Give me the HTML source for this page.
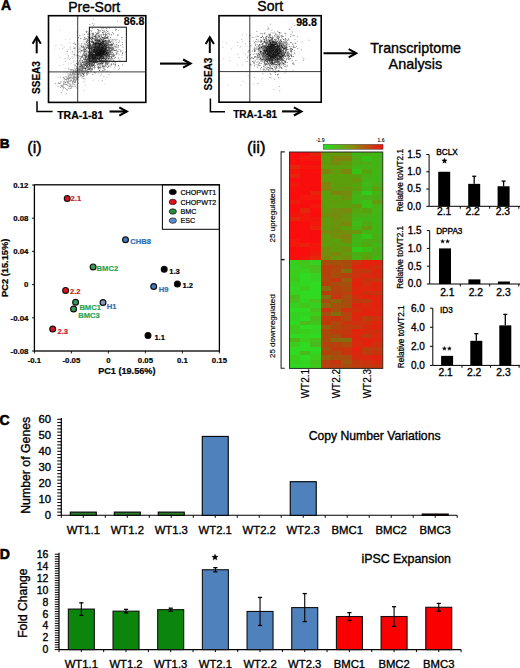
<!DOCTYPE html>
<html><head><meta charset="utf-8"><style>
html,body{margin:0;padding:0;background:#fff;width:520px;height:668px;overflow:hidden}
svg{display:block}
text{font-family:"Liberation Sans", sans-serif}
</style></head><body>
<svg width="520" height="668" viewBox="0 0 520 668" font-family='"Liberation Sans", sans-serif'>
<rect width="520" height="668" fill="#fff"/>
<text x="1.0" y="10.3" font-size="14" font-weight="bold" text-anchor="start" fill="#000" stroke="#000" stroke-width="0.5">A</text>
<path d="M98.4 52.6h.9v.9h-.9zM98.6 48.4h.9v.9h-.9zM95.6 48.9h.9v.9h-.9zM104.2 52.1h.9v.9h-.9zM103.9 51.2h.9v.9h-.9zM101.2 50.9h.9v.9h-.9zM92.5 54.3h.9v.9h-.9zM101.6 52.5h.9v.9h-.9zM92.4 41.3h.9v.9h-.9zM95.8 47.7h.9v.9h-.9zM100.8 49.8h.9v.9h-.9zM101.7 46.8h.9v.9h-.9zM100.8 52.0h.9v.9h-.9zM96.7 58.6h.9v.9h-.9zM101.8 56.0h.9v.9h-.9zM96.9 46.3h.9v.9h-.9zM98.1 49.5h.9v.9h-.9zM102.2 51.2h.9v.9h-.9zM97.6 45.2h.9v.9h-.9zM97.3 56.1h.9v.9h-.9zM96.1 51.2h.9v.9h-.9zM101.3 42.6h.9v.9h-.9zM99.7 56.5h.9v.9h-.9zM91.0 48.4h.9v.9h-.9zM99.1 45.9h.9v.9h-.9zM101.6 49.7h.9v.9h-.9zM93.3 54.1h.9v.9h-.9zM102.3 54.7h.9v.9h-.9zM105.6 51.8h.9v.9h-.9zM100.0 43.5h.9v.9h-.9zM102.1 46.9h.9v.9h-.9zM97.6 43.7h.9v.9h-.9zM95.4 47.3h.9v.9h-.9zM104.9 39.8h.9v.9h-.9zM93.4 51.2h.9v.9h-.9zM105.6 52.9h.9v.9h-.9zM91.5 37.4h.9v.9h-.9zM101.0 46.3h.9v.9h-.9zM94.8 54.9h.9v.9h-.9zM104.1 50.8h.9v.9h-.9zM100.5 52.2h.9v.9h-.9zM106.2 53.1h.9v.9h-.9zM101.7 52.7h.9v.9h-.9zM92.9 56.4h.9v.9h-.9zM103.5 52.6h.9v.9h-.9zM91.2 46.8h.9v.9h-.9zM103.0 40.9h.9v.9h-.9zM98.7 55.1h.9v.9h-.9zM94.0 58.1h.9v.9h-.9zM101.8 49.2h.9v.9h-.9zM100.9 53.2h.9v.9h-.9zM100.0 55.7h.9v.9h-.9zM96.7 47.9h.9v.9h-.9zM103.9 50.1h.9v.9h-.9zM95.8 54.7h.9v.9h-.9zM105.7 47.8h.9v.9h-.9zM93.7 49.3h.9v.9h-.9zM98.9 48.5h.9v.9h-.9zM105.4 44.9h.9v.9h-.9zM104.8 43.7h.9v.9h-.9zM96.2 53.2h.9v.9h-.9zM104.2 54.3h.9v.9h-.9zM100.9 50.7h.9v.9h-.9zM100.1 52.9h.9v.9h-.9zM98.8 51.4h.9v.9h-.9zM101.9 50.0h.9v.9h-.9zM102.7 52.8h.9v.9h-.9zM107.9 51.6h.9v.9h-.9zM97.7 48.1h.9v.9h-.9zM99.4 54.6h.9v.9h-.9zM98.1 51.9h.9v.9h-.9zM107.2 37.2h.9v.9h-.9zM94.8 51.2h.9v.9h-.9zM101.2 51.2h.9v.9h-.9zM97.7 53.3h.9v.9h-.9zM100.7 47.4h.9v.9h-.9zM109.7 51.8h.9v.9h-.9zM97.2 49.5h.9v.9h-.9zM98.6 49.7h.9v.9h-.9zM88.0 47.6h.9v.9h-.9zM103.7 44.2h.9v.9h-.9zM99.2 54.8h.9v.9h-.9zM103.1 57.5h.9v.9h-.9zM92.4 48.2h.9v.9h-.9zM98.1 53.1h.9v.9h-.9zM104.1 36.6h.9v.9h-.9zM104.1 42.8h.9v.9h-.9zM102.4 42.5h.9v.9h-.9zM100.2 56.0h.9v.9h-.9zM98.9 51.0h.9v.9h-.9zM102.8 50.7h.9v.9h-.9zM99.1 57.7h.9v.9h-.9zM103.9 48.5h.9v.9h-.9zM111.0 44.3h.9v.9h-.9zM103.3 48.7h.9v.9h-.9zM100.1 53.5h.9v.9h-.9zM100.4 53.2h.9v.9h-.9zM93.1 42.5h.9v.9h-.9zM102.1 45.2h.9v.9h-.9zM95.2 42.6h.9v.9h-.9zM104.8 53.7h.9v.9h-.9zM105.7 45.3h.9v.9h-.9zM99.5 44.3h.9v.9h-.9zM102.7 57.9h.9v.9h-.9zM95.8 57.8h.9v.9h-.9zM103.6 49.1h.9v.9h-.9zM91.2 57.0h.9v.9h-.9zM99.1 47.0h.9v.9h-.9zM101.2 52.0h.9v.9h-.9zM105.8 44.9h.9v.9h-.9zM104.3 57.4h.9v.9h-.9zM105.6 49.1h.9v.9h-.9zM96.4 55.1h.9v.9h-.9zM100.0 50.6h.9v.9h-.9zM105.5 48.7h.9v.9h-.9zM89.9 48.1h.9v.9h-.9zM91.7 54.1h.9v.9h-.9zM100.8 46.9h.9v.9h-.9zM99.5 54.2h.9v.9h-.9zM99.8 56.6h.9v.9h-.9zM99.2 55.2h.9v.9h-.9zM105.8 58.0h.9v.9h-.9zM96.7 54.4h.9v.9h-.9zM91.6 44.6h.9v.9h-.9zM91.3 55.3h.9v.9h-.9zM94.3 49.9h.9v.9h-.9zM98.7 49.9h.9v.9h-.9zM97.0 51.2h.9v.9h-.9zM107.0 50.2h.9v.9h-.9zM101.7 55.0h.9v.9h-.9zM98.7 43.7h.9v.9h-.9zM97.2 55.4h.9v.9h-.9zM92.6 47.0h.9v.9h-.9zM103.7 54.0h.9v.9h-.9zM99.5 54.0h.9v.9h-.9zM100.2 44.1h.9v.9h-.9zM92.9 46.8h.9v.9h-.9zM103.4 47.2h.9v.9h-.9zM95.7 46.1h.9v.9h-.9zM93.1 49.4h.9v.9h-.9zM94.5 51.8h.9v.9h-.9zM89.6 51.6h.9v.9h-.9zM96.8 40.3h.9v.9h-.9zM102.5 48.6h.9v.9h-.9zM90.1 45.6h.9v.9h-.9zM100.7 47.7h.9v.9h-.9zM102.8 53.7h.9v.9h-.9zM102.3 51.6h.9v.9h-.9zM105.1 53.3h.9v.9h-.9zM101.4 39.6h.9v.9h-.9zM103.3 56.5h.9v.9h-.9zM98.3 47.7h.9v.9h-.9zM107.6 41.2h.9v.9h-.9zM101.5 62.1h.9v.9h-.9zM95.6 53.4h.9v.9h-.9zM107.4 49.4h.9v.9h-.9zM101.9 54.5h.9v.9h-.9zM95.7 49.6h.9v.9h-.9zM100.7 54.1h.9v.9h-.9zM99.4 49.0h.9v.9h-.9zM95.2 48.2h.9v.9h-.9zM103.2 50.5h.9v.9h-.9zM95.9 45.8h.9v.9h-.9zM110.7 55.7h.9v.9h-.9zM102.2 37.0h.9v.9h-.9zM102.1 52.4h.9v.9h-.9zM106.6 52.1h.9v.9h-.9zM99.2 52.6h.9v.9h-.9zM91.3 55.2h.9v.9h-.9zM100.9 46.5h.9v.9h-.9zM105.1 59.0h.9v.9h-.9zM93.6 46.7h.9v.9h-.9zM100.7 50.9h.9v.9h-.9zM97.8 45.1h.9v.9h-.9zM108.4 55.2h.9v.9h-.9zM94.5 43.3h.9v.9h-.9zM106.7 54.9h.9v.9h-.9zM107.1 54.1h.9v.9h-.9zM95.8 51.3h.9v.9h-.9zM90.4 46.3h.9v.9h-.9zM99.3 52.6h.9v.9h-.9zM96.4 49.4h.9v.9h-.9zM101.4 51.9h.9v.9h-.9zM102.2 51.0h.9v.9h-.9zM98.1 53.9h.9v.9h-.9zM99.7 45.9h.9v.9h-.9zM96.9 50.0h.9v.9h-.9zM99.0 50.8h.9v.9h-.9zM99.5 50.9h.9v.9h-.9zM98.9 43.7h.9v.9h-.9zM101.3 55.3h.9v.9h-.9zM101.3 49.1h.9v.9h-.9zM101.4 45.2h.9v.9h-.9zM91.5 50.3h.9v.9h-.9zM95.6 53.7h.9v.9h-.9zM94.9 36.9h.9v.9h-.9zM95.1 57.9h.9v.9h-.9zM97.9 43.2h.9v.9h-.9zM96.3 52.6h.9v.9h-.9zM101.6 50.9h.9v.9h-.9zM105.7 53.5h.9v.9h-.9zM99.4 53.0h.9v.9h-.9zM106.4 54.9h.9v.9h-.9zM103.8 44.6h.9v.9h-.9zM98.9 53.6h.9v.9h-.9zM98.3 55.3h.9v.9h-.9zM102.0 54.5h.9v.9h-.9zM98.6 62.7h.9v.9h-.9zM104.7 48.9h.9v.9h-.9zM99.9 63.0h.9v.9h-.9zM98.1 54.4h.9v.9h-.9zM103.6 50.0h.9v.9h-.9zM94.6 50.9h.9v.9h-.9zM101.0 55.6h.9v.9h-.9zM102.8 50.1h.9v.9h-.9zM103.1 52.7h.9v.9h-.9zM100.4 50.3h.9v.9h-.9zM98.5 53.4h.9v.9h-.9zM95.1 46.9h.9v.9h-.9zM99.5 42.7h.9v.9h-.9zM97.7 40.0h.9v.9h-.9zM96.6 52.8h.9v.9h-.9zM101.9 49.7h.9v.9h-.9zM98.5 42.9h.9v.9h-.9zM107.2 52.6h.9v.9h-.9zM104.1 45.6h.9v.9h-.9zM98.7 40.9h.9v.9h-.9zM102.8 54.7h.9v.9h-.9zM91.5 49.7h.9v.9h-.9zM102.1 41.2h.9v.9h-.9zM91.8 44.7h.9v.9h-.9zM96.9 43.0h.9v.9h-.9zM99.6 51.2h.9v.9h-.9zM102.2 53.5h.9v.9h-.9zM105.8 55.8h.9v.9h-.9zM94.0 47.5h.9v.9h-.9zM95.0 44.6h.9v.9h-.9zM99.2 50.0h.9v.9h-.9zM101.6 42.1h.9v.9h-.9zM94.3 49.9h.9v.9h-.9zM98.7 48.4h.9v.9h-.9zM99.2 46.2h.9v.9h-.9zM102.4 51.8h.9v.9h-.9zM99.1 46.6h.9v.9h-.9zM98.8 36.4h.9v.9h-.9zM95.4 50.2h.9v.9h-.9zM93.2 51.0h.9v.9h-.9zM100.1 43.1h.9v.9h-.9zM98.4 48.4h.9v.9h-.9zM101.4 53.1h.9v.9h-.9zM99.3 45.7h.9v.9h-.9zM98.9 49.7h.9v.9h-.9zM102.6 51.5h.9v.9h-.9zM96.5 43.2h.9v.9h-.9zM97.9 46.3h.9v.9h-.9zM94.8 49.4h.9v.9h-.9zM97.4 50.5h.9v.9h-.9zM101.7 47.9h.9v.9h-.9zM109.3 48.4h.9v.9h-.9zM104.1 50.6h.9v.9h-.9zM104.2 38.1h.9v.9h-.9zM96.3 51.2h.9v.9h-.9zM102.0 61.7h.9v.9h-.9zM100.9 56.4h.9v.9h-.9zM102.7 54.7h.9v.9h-.9zM101.6 49.2h.9v.9h-.9zM101.6 44.6h.9v.9h-.9zM104.5 44.9h.9v.9h-.9zM100.5 60.6h.9v.9h-.9zM98.6 50.1h.9v.9h-.9zM104.4 50.1h.9v.9h-.9zM96.1 51.3h.9v.9h-.9zM101.9 53.6h.9v.9h-.9zM96.3 58.8h.9v.9h-.9zM106.5 50.1h.9v.9h-.9zM100.6 47.9h.9v.9h-.9zM105.4 46.5h.9v.9h-.9zM102.3 47.6h.9v.9h-.9zM96.6 53.6h.9v.9h-.9zM105.1 49.9h.9v.9h-.9zM96.7 54.1h.9v.9h-.9zM99.3 51.6h.9v.9h-.9zM105.9 55.7h.9v.9h-.9zM97.3 61.4h.9v.9h-.9zM99.5 53.9h.9v.9h-.9zM96.8 49.8h.9v.9h-.9zM92.2 58.9h.9v.9h-.9zM105.2 43.9h.9v.9h-.9zM93.2 41.9h.9v.9h-.9zM104.4 47.7h.9v.9h-.9zM99.2 48.4h.9v.9h-.9zM99.0 44.6h.9v.9h-.9zM99.6 42.8h.9v.9h-.9zM99.2 51.5h.9v.9h-.9zM101.5 48.8h.9v.9h-.9zM95.7 50.8h.9v.9h-.9zM97.5 57.8h.9v.9h-.9zM102.7 49.4h.9v.9h-.9zM97.5 46.5h.9v.9h-.9zM95.6 48.2h.9v.9h-.9zM100.7 52.6h.9v.9h-.9zM101.9 60.5h.9v.9h-.9zM96.5 50.1h.9v.9h-.9zM111.2 40.7h.9v.9h-.9zM97.3 50.8h.9v.9h-.9zM100.1 52.0h.9v.9h-.9zM98.5 51.8h.9v.9h-.9zM99.7 53.9h.9v.9h-.9zM91.6 45.6h.9v.9h-.9zM99.5 44.8h.9v.9h-.9zM95.1 53.1h.9v.9h-.9zM96.8 53.2h.9v.9h-.9zM102.6 51.5h.9v.9h-.9zM101.6 49.5h.9v.9h-.9zM93.6 49.8h.9v.9h-.9zM101.4 47.4h.9v.9h-.9zM99.1 53.7h.9v.9h-.9zM95.8 53.2h.9v.9h-.9zM107.3 47.2h.9v.9h-.9zM100.1 49.2h.9v.9h-.9zM106.0 51.6h.9v.9h-.9zM103.3 46.5h.9v.9h-.9zM99.4 50.0h.9v.9h-.9zM92.0 57.2h.9v.9h-.9zM103.3 41.3h.9v.9h-.9zM102.6 49.3h.9v.9h-.9zM101.4 51.8h.9v.9h-.9zM93.2 48.9h.9v.9h-.9zM105.8 47.1h.9v.9h-.9zM95.2 43.2h.9v.9h-.9zM94.4 51.7h.9v.9h-.9zM106.6 52.1h.9v.9h-.9zM100.5 61.2h.9v.9h-.9zM97.3 46.6h.9v.9h-.9zM101.7 52.7h.9v.9h-.9zM95.2 44.2h.9v.9h-.9zM100.7 51.2h.9v.9h-.9zM94.0 49.0h.9v.9h-.9zM97.2 52.3h.9v.9h-.9zM99.0 49.6h.9v.9h-.9zM98.0 55.3h.9v.9h-.9zM105.3 48.2h.9v.9h-.9zM103.1 46.2h.9v.9h-.9zM99.8 53.7h.9v.9h-.9zM105.9 48.1h.9v.9h-.9zM99.2 51.0h.9v.9h-.9zM93.2 50.1h.9v.9h-.9zM96.7 51.9h.9v.9h-.9zM94.8 40.1h.9v.9h-.9zM99.7 51.3h.9v.9h-.9zM97.2 54.4h.9v.9h-.9zM98.4 47.0h.9v.9h-.9zM101.5 42.2h.9v.9h-.9zM96.7 49.9h.9v.9h-.9zM103.1 49.2h.9v.9h-.9zM100.8 46.7h.9v.9h-.9zM100.8 58.3h.9v.9h-.9zM96.6 61.8h.9v.9h-.9zM96.8 50.1h.9v.9h-.9zM100.2 55.1h.9v.9h-.9zM94.3 39.5h.9v.9h-.9zM102.0 54.0h.9v.9h-.9zM102.1 63.2h.9v.9h-.9zM100.4 51.3h.9v.9h-.9zM103.4 51.8h.9v.9h-.9zM106.5 43.8h.9v.9h-.9zM97.9 32.8h.9v.9h-.9zM102.9 48.1h.9v.9h-.9zM103.4 60.8h.9v.9h-.9zM99.5 48.7h.9v.9h-.9zM97.4 45.8h.9v.9h-.9zM96.9 53.2h.9v.9h-.9zM99.7 50.3h.9v.9h-.9zM98.8 54.6h.9v.9h-.9zM101.6 49.3h.9v.9h-.9zM102.3 49.2h.9v.9h-.9zM94.7 57.3h.9v.9h-.9zM101.5 45.2h.9v.9h-.9zM104.0 51.7h.9v.9h-.9zM92.9 58.0h.9v.9h-.9zM100.9 54.5h.9v.9h-.9zM100.3 49.3h.9v.9h-.9zM93.0 54.9h.9v.9h-.9zM99.6 48.6h.9v.9h-.9zM101.0 50.4h.9v.9h-.9zM102.3 48.1h.9v.9h-.9zM99.3 39.3h.9v.9h-.9zM97.7 53.4h.9v.9h-.9zM105.1 48.2h.9v.9h-.9zM99.0 57.9h.9v.9h-.9zM98.1 53.7h.9v.9h-.9zM106.5 50.2h.9v.9h-.9zM104.7 46.4h.9v.9h-.9zM100.4 49.6h.9v.9h-.9zM100.0 55.6h.9v.9h-.9zM109.5 46.7h.9v.9h-.9zM97.1 52.5h.9v.9h-.9zM95.1 52.5h.9v.9h-.9zM101.9 48.6h.9v.9h-.9zM101.7 42.3h.9v.9h-.9zM102.7 42.3h.9v.9h-.9zM96.6 47.2h.9v.9h-.9zM97.8 54.3h.9v.9h-.9zM99.8 48.0h.9v.9h-.9zM101.8 57.9h.9v.9h-.9zM99.5 51.8h.9v.9h-.9zM104.7 51.3h.9v.9h-.9zM94.1 62.5h.9v.9h-.9zM108.8 40.1h.9v.9h-.9zM99.3 52.1h.9v.9h-.9zM103.6 53.3h.9v.9h-.9zM98.4 44.7h.9v.9h-.9zM99.9 55.2h.9v.9h-.9zM94.9 44.9h.9v.9h-.9zM99.4 40.3h.9v.9h-.9zM98.4 47.8h.9v.9h-.9zM101.4 46.5h.9v.9h-.9zM95.8 48.0h.9v.9h-.9zM99.3 46.7h.9v.9h-.9zM99.6 53.8h.9v.9h-.9zM104.5 58.5h.9v.9h-.9zM96.2 47.9h.9v.9h-.9zM89.1 59.5h.9v.9h-.9zM96.5 49.8h.9v.9h-.9zM101.7 43.2h.9v.9h-.9zM101.4 49.9h.9v.9h-.9zM91.8 51.5h.9v.9h-.9zM104.5 40.7h.9v.9h-.9zM102.9 51.0h.9v.9h-.9zM101.5 52.2h.9v.9h-.9zM105.0 48.9h.9v.9h-.9zM103.2 48.0h.9v.9h-.9zM102.6 45.9h.9v.9h-.9zM99.0 58.7h.9v.9h-.9zM101.4 49.2h.9v.9h-.9zM94.7 46.0h.9v.9h-.9zM100.3 54.7h.9v.9h-.9zM101.3 52.6h.9v.9h-.9zM99.3 56.8h.9v.9h-.9zM97.9 47.3h.9v.9h-.9zM103.2 50.3h.9v.9h-.9zM98.3 47.1h.9v.9h-.9zM98.4 53.1h.9v.9h-.9zM101.0 44.0h.9v.9h-.9zM101.3 50.9h.9v.9h-.9zM95.3 53.9h.9v.9h-.9zM98.3 48.3h.9v.9h-.9zM102.8 56.6h.9v.9h-.9zM96.6 52.2h.9v.9h-.9zM95.8 61.6h.9v.9h-.9z" fill="#000" fill-opacity="0.75"/>
<path d="M95.8 59.1h.9v.9h-.9zM94.7 56.0h.9v.9h-.9zM115.9 29.2h.9v.9h-.9zM96.3 53.5h.9v.9h-.9zM98.8 44.2h.9v.9h-.9zM115.4 50.1h.9v.9h-.9zM87.3 56.3h.9v.9h-.9zM86.8 58.7h.9v.9h-.9zM95.2 50.7h.9v.9h-.9zM108.8 50.4h.9v.9h-.9zM89.2 35.9h.9v.9h-.9zM108.3 55.4h.9v.9h-.9zM93.5 56.4h.9v.9h-.9zM103.2 54.7h.9v.9h-.9zM82.8 47.1h.9v.9h-.9zM106.2 55.4h.9v.9h-.9zM106.0 29.8h.9v.9h-.9zM100.8 53.4h.9v.9h-.9zM118.4 41.9h.9v.9h-.9zM97.1 49.8h.9v.9h-.9zM106.1 46.0h.9v.9h-.9zM108.0 43.2h.9v.9h-.9zM101.5 45.3h.9v.9h-.9zM100.7 44.0h.9v.9h-.9zM87.7 58.2h.9v.9h-.9zM101.7 45.0h.9v.9h-.9zM101.0 57.4h.9v.9h-.9zM92.3 48.6h.9v.9h-.9zM103.5 53.7h.9v.9h-.9zM97.0 32.6h.9v.9h-.9zM108.7 52.1h.9v.9h-.9zM99.6 47.3h.9v.9h-.9zM101.4 46.1h.9v.9h-.9zM91.9 43.6h.9v.9h-.9zM95.1 44.6h.9v.9h-.9zM90.9 54.6h.9v.9h-.9zM89.8 54.8h.9v.9h-.9zM92.0 52.3h.9v.9h-.9zM109.7 51.1h.9v.9h-.9zM94.1 49.9h.9v.9h-.9zM100.6 35.6h.9v.9h-.9zM95.0 50.8h.9v.9h-.9zM96.0 50.1h.9v.9h-.9zM104.9 55.6h.9v.9h-.9zM106.2 54.2h.9v.9h-.9zM97.4 49.4h.9v.9h-.9zM97.5 47.0h.9v.9h-.9zM98.2 35.7h.9v.9h-.9zM97.0 49.3h.9v.9h-.9zM92.3 49.3h.9v.9h-.9zM103.3 48.2h.9v.9h-.9zM114.9 28.6h.9v.9h-.9zM98.0 34.9h.9v.9h-.9zM106.8 70.7h.9v.9h-.9zM81.0 50.5h.9v.9h-.9zM103.3 47.1h.9v.9h-.9zM103.6 31.6h.9v.9h-.9zM105.8 52.5h.9v.9h-.9zM99.7 44.8h.9v.9h-.9zM104.2 45.6h.9v.9h-.9zM101.2 45.4h.9v.9h-.9zM82.9 49.2h.9v.9h-.9zM101.0 55.5h.9v.9h-.9zM93.0 49.2h.9v.9h-.9zM104.1 50.7h.9v.9h-.9zM108.7 65.4h.9v.9h-.9zM92.8 34.1h.9v.9h-.9zM105.8 61.7h.9v.9h-.9zM106.3 56.0h.9v.9h-.9zM94.9 43.8h.9v.9h-.9zM106.1 42.2h.9v.9h-.9zM86.1 41.5h.9v.9h-.9zM117.9 64.9h.9v.9h-.9zM94.4 43.7h.9v.9h-.9zM101.2 43.5h.9v.9h-.9zM109.2 48.9h.9v.9h-.9zM91.5 60.0h.9v.9h-.9zM95.2 51.3h.9v.9h-.9zM99.4 47.0h.9v.9h-.9zM101.9 44.0h.9v.9h-.9zM85.9 31.8h.9v.9h-.9zM90.1 43.4h.9v.9h-.9zM99.3 49.9h.9v.9h-.9zM103.6 50.5h.9v.9h-.9zM93.6 43.8h.9v.9h-.9zM83.8 48.1h.9v.9h-.9zM103.1 53.7h.9v.9h-.9zM98.6 48.1h.9v.9h-.9zM106.4 49.6h.9v.9h-.9zM105.0 54.2h.9v.9h-.9zM101.1 60.0h.9v.9h-.9zM95.3 46.6h.9v.9h-.9zM93.5 43.1h.9v.9h-.9zM111.0 63.6h.9v.9h-.9zM99.7 54.0h.9v.9h-.9zM108.2 56.0h.9v.9h-.9zM108.4 39.4h.9v.9h-.9zM94.8 53.1h.9v.9h-.9zM110.1 50.3h.9v.9h-.9zM93.1 46.7h.9v.9h-.9zM94.6 42.6h.9v.9h-.9zM110.6 44.5h.9v.9h-.9zM99.7 66.8h.9v.9h-.9zM108.3 52.2h.9v.9h-.9zM95.0 52.8h.9v.9h-.9zM111.5 54.5h.9v.9h-.9zM108.8 50.3h.9v.9h-.9zM103.3 47.9h.9v.9h-.9zM102.7 59.9h.9v.9h-.9zM88.9 49.0h.9v.9h-.9zM101.3 44.9h.9v.9h-.9zM97.2 55.8h.9v.9h-.9zM114.3 54.5h.9v.9h-.9zM101.9 37.1h.9v.9h-.9zM113.8 50.1h.9v.9h-.9zM99.2 40.6h.9v.9h-.9zM99.1 40.7h.9v.9h-.9zM100.0 53.2h.9v.9h-.9zM99.7 51.7h.9v.9h-.9zM93.2 60.9h.9v.9h-.9zM94.7 35.0h.9v.9h-.9zM98.1 43.4h.9v.9h-.9zM92.0 46.7h.9v.9h-.9zM101.7 40.0h.9v.9h-.9zM98.5 60.9h.9v.9h-.9zM104.6 48.3h.9v.9h-.9zM100.4 48.5h.9v.9h-.9zM99.1 55.4h.9v.9h-.9zM98.8 30.3h.9v.9h-.9zM99.3 42.4h.9v.9h-.9zM104.3 44.6h.9v.9h-.9zM100.6 66.9h.9v.9h-.9zM91.8 40.5h.9v.9h-.9zM89.1 30.3h.9v.9h-.9zM85.6 52.4h.9v.9h-.9zM94.8 34.6h.9v.9h-.9zM88.5 54.4h.9v.9h-.9zM93.8 46.6h.9v.9h-.9zM101.9 60.4h.9v.9h-.9zM113.9 57.8h.9v.9h-.9zM100.6 51.0h.9v.9h-.9zM112.8 60.9h.9v.9h-.9zM97.2 53.2h.9v.9h-.9zM101.6 49.9h.9v.9h-.9zM95.8 38.9h.9v.9h-.9zM95.5 37.1h.9v.9h-.9zM108.6 53.8h.9v.9h-.9zM90.6 60.7h.9v.9h-.9zM106.1 34.2h.9v.9h-.9zM113.1 56.0h.9v.9h-.9zM114.8 39.7h.9v.9h-.9zM103.4 52.9h.9v.9h-.9zM101.0 50.9h.9v.9h-.9zM107.3 37.5h.9v.9h-.9zM90.3 38.3h.9v.9h-.9zM95.4 44.7h.9v.9h-.9zM102.2 51.6h.9v.9h-.9zM99.7 44.1h.9v.9h-.9zM96.2 57.1h.9v.9h-.9zM105.2 50.3h.9v.9h-.9zM97.1 61.9h.9v.9h-.9zM95.1 54.7h.9v.9h-.9zM108.0 47.4h.9v.9h-.9zM105.6 40.6h.9v.9h-.9zM107.0 51.1h.9v.9h-.9zM87.8 54.9h.9v.9h-.9zM92.9 59.8h.9v.9h-.9zM94.5 48.2h.9v.9h-.9zM101.6 46.8h.9v.9h-.9zM101.4 45.1h.9v.9h-.9zM104.5 49.5h.9v.9h-.9zM101.1 27.5h.9v.9h-.9zM108.1 49.8h.9v.9h-.9zM86.3 50.3h.9v.9h-.9zM103.0 58.1h.9v.9h-.9zM91.5 61.9h.9v.9h-.9zM98.3 68.7h.9v.9h-.9zM98.4 54.9h.9v.9h-.9zM96.8 40.6h.9v.9h-.9zM107.6 56.8h.9v.9h-.9zM110.9 56.4h.9v.9h-.9zM95.3 36.2h.9v.9h-.9zM94.7 44.1h.9v.9h-.9zM93.5 54.2h.9v.9h-.9zM101.9 47.3h.9v.9h-.9zM100.8 48.3h.9v.9h-.9zM101.1 55.5h.9v.9h-.9zM106.6 44.0h.9v.9h-.9zM88.3 60.9h.9v.9h-.9zM100.3 58.3h.9v.9h-.9zM87.3 46.9h.9v.9h-.9zM99.7 38.0h.9v.9h-.9zM95.7 55.3h.9v.9h-.9zM107.5 62.3h.9v.9h-.9zM93.1 38.3h.9v.9h-.9zM103.4 57.0h.9v.9h-.9zM100.9 39.1h.9v.9h-.9zM105.3 55.8h.9v.9h-.9zM103.6 45.6h.9v.9h-.9zM101.7 55.8h.9v.9h-.9zM95.4 34.8h.9v.9h-.9zM101.9 53.3h.9v.9h-.9zM99.6 56.6h.9v.9h-.9zM95.2 48.8h.9v.9h-.9zM97.2 54.1h.9v.9h-.9zM111.3 47.5h.9v.9h-.9zM114.7 61.7h.9v.9h-.9zM105.4 54.2h.9v.9h-.9zM112.6 48.1h.9v.9h-.9zM98.7 41.0h.9v.9h-.9zM103.0 60.3h.9v.9h-.9zM103.4 52.9h.9v.9h-.9zM98.0 50.9h.9v.9h-.9zM89.0 57.9h.9v.9h-.9zM96.5 40.7h.9v.9h-.9zM93.9 42.9h.9v.9h-.9zM105.8 58.0h.9v.9h-.9zM89.5 56.9h.9v.9h-.9zM106.1 44.9h.9v.9h-.9zM88.5 43.5h.9v.9h-.9zM94.8 52.2h.9v.9h-.9zM96.9 33.3h.9v.9h-.9zM101.2 37.2h.9v.9h-.9zM106.2 39.8h.9v.9h-.9zM94.4 42.7h.9v.9h-.9zM95.5 59.9h.9v.9h-.9zM105.8 54.3h.9v.9h-.9zM101.9 37.1h.9v.9h-.9zM95.6 45.1h.9v.9h-.9zM92.3 53.6h.9v.9h-.9zM94.0 43.8h.9v.9h-.9zM91.8 33.0h.9v.9h-.9zM103.9 60.1h.9v.9h-.9zM100.8 41.7h.9v.9h-.9zM79.5 50.9h.9v.9h-.9zM108.5 51.9h.9v.9h-.9zM106.4 61.3h.9v.9h-.9zM107.8 46.0h.9v.9h-.9zM107.3 55.7h.9v.9h-.9zM88.1 46.3h.9v.9h-.9zM89.0 48.6h.9v.9h-.9zM103.8 41.0h.9v.9h-.9zM84.3 59.9h.9v.9h-.9zM102.3 61.3h.9v.9h-.9zM89.7 58.0h.9v.9h-.9zM114.8 65.6h.9v.9h-.9zM97.9 51.7h.9v.9h-.9zM98.4 57.5h.9v.9h-.9zM107.2 50.2h.9v.9h-.9zM89.4 55.4h.9v.9h-.9zM96.0 54.5h.9v.9h-.9zM101.4 62.5h.9v.9h-.9zM107.9 45.9h.9v.9h-.9zM102.1 63.6h.9v.9h-.9zM95.5 53.0h.9v.9h-.9zM108.3 59.6h.9v.9h-.9zM103.3 38.9h.9v.9h-.9zM90.2 51.5h.9v.9h-.9zM102.4 69.9h.9v.9h-.9zM93.1 58.6h.9v.9h-.9zM105.2 36.1h.9v.9h-.9zM93.4 50.8h.9v.9h-.9zM95.8 48.3h.9v.9h-.9zM103.0 43.0h.9v.9h-.9zM103.0 44.4h.9v.9h-.9zM95.5 53.8h.9v.9h-.9zM95.3 51.8h.9v.9h-.9zM111.3 49.7h.9v.9h-.9zM98.4 55.4h.9v.9h-.9zM96.8 58.2h.9v.9h-.9zM90.0 54.4h.9v.9h-.9zM95.7 43.1h.9v.9h-.9zM112.6 42.7h.9v.9h-.9zM112.5 54.8h.9v.9h-.9zM110.3 41.7h.9v.9h-.9zM108.4 61.2h.9v.9h-.9zM98.6 48.5h.9v.9h-.9zM117.7 50.9h.9v.9h-.9zM96.4 44.5h.9v.9h-.9zM102.8 52.1h.9v.9h-.9zM100.8 63.3h.9v.9h-.9zM97.1 53.3h.9v.9h-.9zM110.3 41.5h.9v.9h-.9zM107.2 64.2h.9v.9h-.9zM89.5 40.7h.9v.9h-.9zM91.8 34.7h.9v.9h-.9zM102.9 34.7h.9v.9h-.9zM103.2 61.1h.9v.9h-.9zM87.5 47.0h.9v.9h-.9zM85.3 55.7h.9v.9h-.9zM94.0 47.4h.9v.9h-.9zM99.9 53.9h.9v.9h-.9zM96.9 49.6h.9v.9h-.9zM95.5 50.4h.9v.9h-.9zM90.8 50.0h.9v.9h-.9zM85.2 45.6h.9v.9h-.9zM113.7 50.1h.9v.9h-.9zM90.2 51.6h.9v.9h-.9zM92.3 36.3h.9v.9h-.9zM94.1 55.4h.9v.9h-.9zM102.3 48.7h.9v.9h-.9zM92.6 40.9h.9v.9h-.9zM109.5 51.5h.9v.9h-.9zM92.5 32.6h.9v.9h-.9zM89.4 69.3h.9v.9h-.9zM91.0 48.9h.9v.9h-.9zM101.1 48.2h.9v.9h-.9zM97.4 38.5h.9v.9h-.9zM91.7 63.0h.9v.9h-.9zM93.9 56.3h.9v.9h-.9zM87.0 47.3h.9v.9h-.9zM101.4 57.8h.9v.9h-.9zM91.2 54.3h.9v.9h-.9zM102.4 43.6h.9v.9h-.9zM103.0 42.3h.9v.9h-.9zM93.6 49.3h.9v.9h-.9zM79.4 48.6h.9v.9h-.9zM92.1 37.8h.9v.9h-.9zM96.4 55.6h.9v.9h-.9zM96.5 59.6h.9v.9h-.9zM90.9 39.0h.9v.9h-.9zM111.0 52.7h.9v.9h-.9zM106.5 42.9h.9v.9h-.9zM105.5 51.6h.9v.9h-.9zM104.3 49.7h.9v.9h-.9zM108.4 44.3h.9v.9h-.9zM92.4 37.7h.9v.9h-.9zM108.1 43.6h.9v.9h-.9zM91.8 42.0h.9v.9h-.9zM96.2 39.3h.9v.9h-.9zM97.4 44.5h.9v.9h-.9zM95.4 41.8h.9v.9h-.9zM99.8 45.8h.9v.9h-.9zM100.3 51.5h.9v.9h-.9zM102.0 32.0h.9v.9h-.9zM95.5 43.1h.9v.9h-.9zM105.2 36.9h.9v.9h-.9zM94.2 47.1h.9v.9h-.9zM97.0 57.4h.9v.9h-.9zM96.2 57.2h.9v.9h-.9zM88.7 35.0h.9v.9h-.9zM108.5 53.0h.9v.9h-.9zM103.1 50.5h.9v.9h-.9zM103.1 39.8h.9v.9h-.9zM106.5 45.2h.9v.9h-.9zM106.8 50.2h.9v.9h-.9zM84.9 39.2h.9v.9h-.9zM107.8 48.4h.9v.9h-.9zM96.6 51.4h.9v.9h-.9zM96.4 45.1h.9v.9h-.9zM100.3 50.7h.9v.9h-.9zM110.7 49.9h.9v.9h-.9zM113.4 63.9h.9v.9h-.9zM112.2 58.0h.9v.9h-.9zM100.5 50.6h.9v.9h-.9zM98.4 43.7h.9v.9h-.9zM99.0 44.4h.9v.9h-.9zM111.6 53.8h.9v.9h-.9zM96.2 34.2h.9v.9h-.9zM99.1 46.2h.9v.9h-.9zM91.5 40.4h.9v.9h-.9zM82.8 54.1h.9v.9h-.9zM99.0 70.1h.9v.9h-.9zM99.3 48.3h.9v.9h-.9zM110.2 50.6h.9v.9h-.9zM100.7 46.5h.9v.9h-.9zM95.0 61.5h.9v.9h-.9zM106.9 63.2h.9v.9h-.9zM96.9 49.7h.9v.9h-.9zM93.0 57.2h.9v.9h-.9zM89.2 54.0h.9v.9h-.9zM107.6 60.8h.9v.9h-.9zM92.5 58.2h.9v.9h-.9zM94.2 43.4h.9v.9h-.9zM89.7 58.7h.9v.9h-.9zM111.7 44.7h.9v.9h-.9zM93.9 46.8h.9v.9h-.9zM118.1 57.5h.9v.9h-.9zM95.5 35.1h.9v.9h-.9zM94.5 59.0h.9v.9h-.9zM113.3 47.4h.9v.9h-.9zM94.4 45.4h.9v.9h-.9zM85.5 56.8h.9v.9h-.9zM91.5 58.0h.9v.9h-.9zM86.9 39.3h.9v.9h-.9zM101.6 43.4h.9v.9h-.9zM105.3 49.6h.9v.9h-.9zM90.8 54.5h.9v.9h-.9zM105.7 34.2h.9v.9h-.9zM113.0 53.5h.9v.9h-.9zM105.1 34.6h.9v.9h-.9zM94.2 46.7h.9v.9h-.9zM107.5 37.8h.9v.9h-.9zM93.0 33.3h.9v.9h-.9zM97.7 52.3h.9v.9h-.9zM87.0 44.8h.9v.9h-.9zM103.3 62.2h.9v.9h-.9zM104.4 47.1h.9v.9h-.9zM90.8 42.0h.9v.9h-.9zM94.6 50.7h.9v.9h-.9zM99.1 62.8h.9v.9h-.9zM101.6 40.9h.9v.9h-.9zM110.9 57.1h.9v.9h-.9zM100.2 43.7h.9v.9h-.9zM85.7 41.3h.9v.9h-.9zM106.2 43.1h.9v.9h-.9zM89.7 51.1h.9v.9h-.9zM101.3 54.4h.9v.9h-.9zM104.4 60.8h.9v.9h-.9zM93.3 57.3h.9v.9h-.9zM92.2 55.1h.9v.9h-.9zM100.8 51.4h.9v.9h-.9zM106.7 49.4h.9v.9h-.9zM107.7 56.5h.9v.9h-.9zM100.5 45.0h.9v.9h-.9zM93.9 45.3h.9v.9h-.9zM98.0 49.3h.9v.9h-.9zM121.6 54.6h.9v.9h-.9zM105.2 42.6h.9v.9h-.9zM94.2 46.9h.9v.9h-.9zM100.9 41.2h.9v.9h-.9zM111.4 45.0h.9v.9h-.9zM107.5 30.8h.9v.9h-.9zM99.4 51.7h.9v.9h-.9zM100.9 54.3h.9v.9h-.9zM101.6 50.8h.9v.9h-.9zM85.5 43.8h.9v.9h-.9zM82.2 54.5h.9v.9h-.9zM101.8 47.9h.9v.9h-.9zM93.4 44.8h.9v.9h-.9zM113.2 63.3h.9v.9h-.9zM99.1 59.8h.9v.9h-.9zM87.7 34.0h.9v.9h-.9zM95.9 42.5h.9v.9h-.9zM95.4 51.0h.9v.9h-.9zM121.9 44.2h.9v.9h-.9zM99.9 51.7h.9v.9h-.9zM99.2 56.9h.9v.9h-.9zM112.6 39.6h.9v.9h-.9zM100.7 47.4h.9v.9h-.9zM102.1 37.2h.9v.9h-.9zM86.5 31.0h.9v.9h-.9zM103.4 51.0h.9v.9h-.9zM100.0 30.6h.9v.9h-.9zM96.7 43.5h.9v.9h-.9zM89.0 42.2h.9v.9h-.9zM104.7 53.9h.9v.9h-.9zM99.3 53.6h.9v.9h-.9zM95.0 50.1h.9v.9h-.9zM99.8 53.9h.9v.9h-.9zM99.0 48.4h.9v.9h-.9zM98.5 44.3h.9v.9h-.9zM116.0 53.6h.9v.9h-.9zM102.7 67.8h.9v.9h-.9zM109.9 37.0h.9v.9h-.9zM104.6 56.2h.9v.9h-.9zM113.4 60.0h.9v.9h-.9zM105.2 40.1h.9v.9h-.9zM93.1 51.7h.9v.9h-.9zM103.2 41.3h.9v.9h-.9zM96.7 46.3h.9v.9h-.9zM99.9 52.2h.9v.9h-.9zM97.4 39.6h.9v.9h-.9zM108.7 62.3h.9v.9h-.9zM98.7 57.7h.9v.9h-.9zM102.8 54.8h.9v.9h-.9zM103.1 43.4h.9v.9h-.9zM103.7 57.6h.9v.9h-.9zM92.9 65.2h.9v.9h-.9zM115.0 64.1h.9v.9h-.9zM114.2 55.4h.9v.9h-.9zM97.0 44.7h.9v.9h-.9zM93.5 50.4h.9v.9h-.9zM99.3 54.9h.9v.9h-.9zM84.6 68.0h.9v.9h-.9zM116.3 49.3h.9v.9h-.9zM104.5 53.3h.9v.9h-.9zM101.5 47.8h.9v.9h-.9zM98.6 42.9h.9v.9h-.9zM100.8 49.3h.9v.9h-.9zM101.9 42.7h.9v.9h-.9zM99.8 49.9h.9v.9h-.9zM104.0 41.0h.9v.9h-.9zM102.6 57.4h.9v.9h-.9zM103.9 46.6h.9v.9h-.9zM95.9 47.6h.9v.9h-.9zM104.9 61.9h.9v.9h-.9zM98.3 44.4h.9v.9h-.9zM102.3 51.1h.9v.9h-.9zM92.8 43.6h.9v.9h-.9zM98.7 54.9h.9v.9h-.9zM90.7 41.4h.9v.9h-.9zM103.2 39.7h.9v.9h-.9zM100.3 52.3h.9v.9h-.9zM98.7 41.4h.9v.9h-.9zM99.1 46.8h.9v.9h-.9zM102.0 42.8h.9v.9h-.9zM107.6 36.1h.9v.9h-.9zM98.2 49.6h.9v.9h-.9zM106.6 44.6h.9v.9h-.9zM103.5 45.0h.9v.9h-.9zM105.0 63.4h.9v.9h-.9zM96.5 53.0h.9v.9h-.9zM92.6 57.3h.9v.9h-.9zM108.5 49.8h.9v.9h-.9zM91.1 52.7h.9v.9h-.9zM108.0 58.2h.9v.9h-.9zM105.5 34.9h.9v.9h-.9zM94.5 60.9h.9v.9h-.9zM90.4 58.6h.9v.9h-.9zM113.4 55.6h.9v.9h-.9zM107.8 46.8h.9v.9h-.9zM90.4 48.7h.9v.9h-.9zM98.0 49.1h.9v.9h-.9zM104.7 48.3h.9v.9h-.9zM100.9 52.9h.9v.9h-.9zM99.5 64.2h.9v.9h-.9zM102.8 50.2h.9v.9h-.9zM98.0 44.5h.9v.9h-.9zM109.4 50.7h.9v.9h-.9zM91.5 45.0h.9v.9h-.9zM98.5 45.9h.9v.9h-.9zM107.5 40.2h.9v.9h-.9zM103.1 50.6h.9v.9h-.9zM90.8 49.9h.9v.9h-.9zM98.8 53.5h.9v.9h-.9zM96.2 51.9h.9v.9h-.9zM87.2 40.8h.9v.9h-.9zM105.3 57.8h.9v.9h-.9zM99.4 44.7h.9v.9h-.9zM107.5 32.8h.9v.9h-.9zM93.6 54.9h.9v.9h-.9zM104.3 41.2h.9v.9h-.9zM85.5 61.1h.9v.9h-.9zM100.6 42.3h.9v.9h-.9zM99.9 56.7h.9v.9h-.9zM80.3 58.4h.9v.9h-.9zM105.0 32.9h.9v.9h-.9zM105.2 35.3h.9v.9h-.9zM107.9 52.7h.9v.9h-.9zM116.2 44.6h.9v.9h-.9zM99.5 57.9h.9v.9h-.9zM94.8 43.9h.9v.9h-.9zM96.7 48.9h.9v.9h-.9zM91.5 53.4h.9v.9h-.9zM103.5 50.1h.9v.9h-.9zM112.1 46.9h.9v.9h-.9zM109.2 45.1h.9v.9h-.9zM105.1 34.0h.9v.9h-.9zM101.0 48.1h.9v.9h-.9zM95.8 44.6h.9v.9h-.9zM96.9 43.7h.9v.9h-.9zM83.3 44.7h.9v.9h-.9zM95.4 45.3h.9v.9h-.9zM91.7 48.4h.9v.9h-.9zM105.3 47.5h.9v.9h-.9zM95.9 60.4h.9v.9h-.9zM106.7 56.9h.9v.9h-.9zM108.1 46.9h.9v.9h-.9zM98.5 58.4h.9v.9h-.9zM95.4 48.5h.9v.9h-.9zM102.3 52.5h.9v.9h-.9zM97.5 57.4h.9v.9h-.9zM98.2 55.3h.9v.9h-.9zM107.4 54.8h.9v.9h-.9zM104.9 40.2h.9v.9h-.9zM89.8 44.6h.9v.9h-.9zM103.0 61.5h.9v.9h-.9zM90.5 52.0h.9v.9h-.9zM93.2 43.6h.9v.9h-.9zM97.5 55.0h.9v.9h-.9zM101.1 58.9h.9v.9h-.9zM92.2 56.6h.9v.9h-.9zM106.4 50.1h.9v.9h-.9zM103.0 45.0h.9v.9h-.9zM91.4 46.3h.9v.9h-.9zM94.7 72.6h.9v.9h-.9zM95.9 62.7h.9v.9h-.9zM101.0 52.0h.9v.9h-.9zM105.0 43.3h.9v.9h-.9zM106.3 52.5h.9v.9h-.9zM88.3 54.3h.9v.9h-.9zM103.6 53.1h.9v.9h-.9zM111.2 46.2h.9v.9h-.9zM103.3 55.5h.9v.9h-.9zM92.8 59.1h.9v.9h-.9zM88.8 39.1h.9v.9h-.9zM103.4 40.8h.9v.9h-.9zM98.6 36.3h.9v.9h-.9zM100.0 40.4h.9v.9h-.9zM102.0 37.2h.9v.9h-.9zM102.8 47.4h.9v.9h-.9zM100.0 49.0h.9v.9h-.9zM100.5 38.9h.9v.9h-.9zM80.5 49.8h.9v.9h-.9zM92.6 45.9h.9v.9h-.9zM102.7 33.6h.9v.9h-.9zM93.9 44.6h.9v.9h-.9zM91.7 52.1h.9v.9h-.9zM98.5 42.9h.9v.9h-.9zM92.2 56.0h.9v.9h-.9zM94.6 54.2h.9v.9h-.9zM102.8 34.3h.9v.9h-.9zM91.5 49.5h.9v.9h-.9zM102.0 55.7h.9v.9h-.9zM105.4 57.8h.9v.9h-.9zM96.7 47.8h.9v.9h-.9zM105.2 46.1h.9v.9h-.9zM107.3 36.8h.9v.9h-.9zM104.3 48.1h.9v.9h-.9zM84.9 57.3h.9v.9h-.9zM101.8 49.7h.9v.9h-.9zM91.5 45.8h.9v.9h-.9zM110.7 42.9h.9v.9h-.9zM73.8 42.6h.9v.9h-.9zM90.6 48.4h.9v.9h-.9zM96.6 42.2h.9v.9h-.9zM93.3 57.9h.9v.9h-.9zM88.8 65.2h.9v.9h-.9zM95.5 40.8h.9v.9h-.9zM105.3 54.0h.9v.9h-.9zM91.8 55.5h.9v.9h-.9zM85.9 42.1h.9v.9h-.9zM107.8 47.5h.9v.9h-.9zM89.9 53.6h.9v.9h-.9zM106.3 49.3h.9v.9h-.9zM86.1 46.7h.9v.9h-.9zM102.6 55.6h.9v.9h-.9zM113.2 47.5h.9v.9h-.9zM95.9 49.2h.9v.9h-.9zM108.4 42.0h.9v.9h-.9zM109.2 27.5h.9v.9h-.9zM105.4 44.1h.9v.9h-.9zM102.9 55.0h.9v.9h-.9zM90.7 48.8h.9v.9h-.9zM101.3 54.2h.9v.9h-.9zM92.6 41.6h.9v.9h-.9zM85.3 69.8h.9v.9h-.9zM98.1 47.7h.9v.9h-.9zM88.4 56.9h.9v.9h-.9zM95.5 61.0h.9v.9h-.9zM105.8 49.7h.9v.9h-.9zM104.9 40.6h.9v.9h-.9zM97.1 44.9h.9v.9h-.9zM90.1 49.6h.9v.9h-.9zM98.4 61.0h.9v.9h-.9zM74.7 44.1h.9v.9h-.9zM92.7 45.8h.9v.9h-.9zM102.6 52.7h.9v.9h-.9zM99.7 45.7h.9v.9h-.9zM103.2 52.4h.9v.9h-.9zM85.9 47.4h.9v.9h-.9zM89.3 40.0h.9v.9h-.9zM100.6 50.0h.9v.9h-.9zM100.3 42.5h.9v.9h-.9zM98.0 42.2h.9v.9h-.9zM102.3 55.0h.9v.9h-.9zM112.5 59.6h.9v.9h-.9zM93.5 45.8h.9v.9h-.9zM92.6 51.9h.9v.9h-.9zM114.2 55.2h.9v.9h-.9zM83.2 39.4h.9v.9h-.9zM89.9 53.6h.9v.9h-.9zM99.5 51.9h.9v.9h-.9zM112.7 42.9h.9v.9h-.9zM93.2 65.2h.9v.9h-.9zM102.0 43.3h.9v.9h-.9zM84.5 37.3h.9v.9h-.9zM81.4 50.0h.9v.9h-.9zM99.8 57.4h.9v.9h-.9zM98.5 44.0h.9v.9h-.9zM94.0 64.7h.9v.9h-.9zM86.4 50.9h.9v.9h-.9zM99.7 54.4h.9v.9h-.9zM96.5 53.5h.9v.9h-.9zM105.5 48.3h.9v.9h-.9zM96.1 48.0h.9v.9h-.9zM92.4 47.8h.9v.9h-.9zM97.3 51.2h.9v.9h-.9zM109.4 60.0h.9v.9h-.9zM96.2 54.3h.9v.9h-.9zM101.7 55.6h.9v.9h-.9zM99.7 51.6h.9v.9h-.9zM96.0 43.2h.9v.9h-.9zM106.0 59.9h.9v.9h-.9zM104.4 53.0h.9v.9h-.9zM101.5 45.9h.9v.9h-.9zM86.3 54.8h.9v.9h-.9zM101.0 45.1h.9v.9h-.9zM92.4 59.7h.9v.9h-.9zM86.1 63.6h.9v.9h-.9zM104.2 68.5h.9v.9h-.9zM94.2 49.3h.9v.9h-.9zM95.8 50.7h.9v.9h-.9zM97.9 43.5h.9v.9h-.9zM107.5 43.2h.9v.9h-.9zM95.7 53.9h.9v.9h-.9zM95.5 46.0h.9v.9h-.9zM102.1 46.6h.9v.9h-.9zM90.3 48.7h.9v.9h-.9zM97.9 63.1h.9v.9h-.9zM91.4 57.3h.9v.9h-.9zM93.7 46.7h.9v.9h-.9zM97.1 51.7h.9v.9h-.9zM105.9 63.5h.9v.9h-.9zM94.8 60.1h.9v.9h-.9zM106.9 56.0h.9v.9h-.9zM93.9 56.7h.9v.9h-.9zM98.7 52.3h.9v.9h-.9zM97.5 54.8h.9v.9h-.9zM107.8 58.5h.9v.9h-.9zM98.0 57.5h.9v.9h-.9zM110.2 42.0h.9v.9h-.9zM110.4 38.8h.9v.9h-.9zM103.5 54.3h.9v.9h-.9zM110.5 51.7h.9v.9h-.9zM95.9 43.1h.9v.9h-.9zM90.2 55.6h.9v.9h-.9zM97.7 43.8h.9v.9h-.9zM103.4 43.4h.9v.9h-.9zM96.3 45.8h.9v.9h-.9zM111.7 61.2h.9v.9h-.9zM98.3 36.9h.9v.9h-.9zM101.5 50.1h.9v.9h-.9zM102.1 54.0h.9v.9h-.9zM97.1 56.9h.9v.9h-.9zM105.7 51.2h.9v.9h-.9zM96.5 45.7h.9v.9h-.9zM104.6 40.7h.9v.9h-.9zM98.3 43.5h.9v.9h-.9zM89.2 54.3h.9v.9h-.9zM99.3 49.8h.9v.9h-.9zM106.0 37.5h.9v.9h-.9zM99.0 51.8h.9v.9h-.9zM105.7 40.8h.9v.9h-.9zM104.8 51.3h.9v.9h-.9zM109.5 58.6h.9v.9h-.9zM103.6 66.7h.9v.9h-.9zM99.5 46.1h.9v.9h-.9zM97.0 42.0h.9v.9h-.9zM99.3 34.5h.9v.9h-.9zM98.9 52.9h.9v.9h-.9zM106.8 46.7h.9v.9h-.9zM109.8 44.3h.9v.9h-.9zM98.5 34.5h.9v.9h-.9zM93.9 43.2h.9v.9h-.9zM110.3 53.6h.9v.9h-.9zM91.5 53.7h.9v.9h-.9zM103.0 47.7h.9v.9h-.9zM99.7 47.1h.9v.9h-.9zM95.6 35.7h.9v.9h-.9zM98.8 59.5h.9v.9h-.9zM109.8 47.3h.9v.9h-.9zM94.1 47.8h.9v.9h-.9zM106.0 52.2h.9v.9h-.9zM95.3 52.3h.9v.9h-.9zM98.0 53.5h.9v.9h-.9zM96.6 38.0h.9v.9h-.9zM99.9 55.4h.9v.9h-.9zM91.5 48.7h.9v.9h-.9zM105.8 46.6h.9v.9h-.9zM94.8 65.3h.9v.9h-.9zM105.5 57.5h.9v.9h-.9zM92.7 62.2h.9v.9h-.9zM87.6 45.5h.9v.9h-.9zM104.8 59.9h.9v.9h-.9zM92.8 44.3h.9v.9h-.9zM100.9 34.5h.9v.9h-.9zM104.1 53.9h.9v.9h-.9zM96.3 53.7h.9v.9h-.9zM105.1 51.9h.9v.9h-.9zM103.3 61.3h.9v.9h-.9zM96.1 50.8h.9v.9h-.9zM95.7 57.5h.9v.9h-.9zM96.6 53.2h.9v.9h-.9zM100.5 50.0h.9v.9h-.9zM111.8 48.8h.9v.9h-.9zM109.7 55.9h.9v.9h-.9zM109.0 48.2h.9v.9h-.9zM106.1 55.4h.9v.9h-.9zM95.1 51.6h.9v.9h-.9zM98.6 49.2h.9v.9h-.9zM108.8 43.9h.9v.9h-.9zM87.5 36.0h.9v.9h-.9zM96.3 44.5h.9v.9h-.9zM99.6 53.9h.9v.9h-.9zM112.1 51.9h.9v.9h-.9zM102.8 43.8h.9v.9h-.9zM103.6 60.0h.9v.9h-.9zM109.1 34.4h.9v.9h-.9zM105.9 61.7h.9v.9h-.9zM105.4 38.0h.9v.9h-.9zM97.3 54.0h.9v.9h-.9zM102.5 43.2h.9v.9h-.9zM93.2 56.9h.9v.9h-.9zM90.0 60.6h.9v.9h-.9zM99.6 51.8h.9v.9h-.9zM90.0 44.9h.9v.9h-.9zM104.4 38.2h.9v.9h-.9zM114.3 38.7h.9v.9h-.9zM90.8 49.8h.9v.9h-.9zM102.9 55.1h.9v.9h-.9zM96.9 47.9h.9v.9h-.9zM97.8 45.1h.9v.9h-.9zM81.2 56.9h.9v.9h-.9zM101.3 50.7h.9v.9h-.9zM95.0 51.4h.9v.9h-.9zM99.4 48.9h.9v.9h-.9zM107.4 36.3h.9v.9h-.9zM101.3 41.3h.9v.9h-.9zM97.2 61.0h.9v.9h-.9zM91.8 48.7h.9v.9h-.9zM95.3 56.8h.9v.9h-.9zM92.5 36.6h.9v.9h-.9zM103.2 46.8h.9v.9h-.9zM97.2 57.8h.9v.9h-.9zM93.2 46.6h.9v.9h-.9zM100.5 52.7h.9v.9h-.9zM95.8 57.5h.9v.9h-.9zM115.4 46.4h.9v.9h-.9zM112.8 33.3h.9v.9h-.9zM109.5 46.9h.9v.9h-.9zM100.5 46.9h.9v.9h-.9zM95.0 39.7h.9v.9h-.9zM96.7 59.5h.9v.9h-.9zM107.6 46.8h.9v.9h-.9zM95.7 44.1h.9v.9h-.9zM91.0 63.4h.9v.9h-.9zM104.2 50.4h.9v.9h-.9zM96.0 41.6h.9v.9h-.9zM108.9 55.5h.9v.9h-.9zM92.7 57.1h.9v.9h-.9zM91.6 54.4h.9v.9h-.9zM92.7 46.3h.9v.9h-.9zM103.0 52.8h.9v.9h-.9zM106.7 43.1h.9v.9h-.9zM110.7 59.8h.9v.9h-.9zM99.4 53.1h.9v.9h-.9zM94.0 48.3h.9v.9h-.9zM90.1 50.2h.9v.9h-.9zM100.9 59.8h.9v.9h-.9zM106.2 55.8h.9v.9h-.9zM96.9 47.8h.9v.9h-.9zM97.1 51.2h.9v.9h-.9zM85.8 55.4h.9v.9h-.9zM88.4 45.5h.9v.9h-.9zM99.7 45.6h.9v.9h-.9zM111.3 48.7h.9v.9h-.9zM110.7 58.5h.9v.9h-.9zM96.0 52.6h.9v.9h-.9zM108.7 46.9h.9v.9h-.9zM100.1 45.2h.9v.9h-.9zM99.9 46.8h.9v.9h-.9zM100.1 57.2h.9v.9h-.9zM109.4 50.5h.9v.9h-.9zM100.9 56.1h.9v.9h-.9zM97.4 41.4h.9v.9h-.9zM107.4 42.3h.9v.9h-.9zM106.1 42.1h.9v.9h-.9zM112.5 41.5h.9v.9h-.9zM105.5 61.0h.9v.9h-.9zM92.7 60.9h.9v.9h-.9zM93.7 36.0h.9v.9h-.9zM104.6 54.9h.9v.9h-.9zM98.1 30.1h.9v.9h-.9zM99.1 47.2h.9v.9h-.9zM96.8 47.3h.9v.9h-.9zM86.8 45.1h.9v.9h-.9zM112.3 61.4h.9v.9h-.9zM96.9 44.0h.9v.9h-.9zM102.3 57.7h.9v.9h-.9zM104.6 40.5h.9v.9h-.9zM100.7 50.6h.9v.9h-.9zM109.7 58.7h.9v.9h-.9zM103.2 58.8h.9v.9h-.9zM96.7 61.3h.9v.9h-.9zM96.5 52.5h.9v.9h-.9zM106.0 42.5h.9v.9h-.9zM94.5 36.0h.9v.9h-.9zM100.7 49.1h.9v.9h-.9zM97.2 53.3h.9v.9h-.9zM84.5 49.3h.9v.9h-.9zM100.1 47.5h.9v.9h-.9zM105.1 63.0h.9v.9h-.9zM96.3 42.3h.9v.9h-.9zM95.2 50.2h.9v.9h-.9zM103.7 42.9h.9v.9h-.9zM106.6 41.6h.9v.9h-.9zM105.4 52.8h.9v.9h-.9zM102.8 66.1h.9v.9h-.9zM97.6 48.2h.9v.9h-.9zM102.9 56.1h.9v.9h-.9zM90.0 51.6h.9v.9h-.9zM94.2 54.3h.9v.9h-.9zM109.2 49.9h.9v.9h-.9zM98.7 50.9h.9v.9h-.9zM78.5 55.4h.9v.9h-.9zM103.5 50.8h.9v.9h-.9zM96.7 43.9h.9v.9h-.9zM98.2 58.8h.9v.9h-.9zM98.8 59.8h.9v.9h-.9zM81.2 46.0h.9v.9h-.9zM101.4 49.4h.9v.9h-.9zM87.7 44.4h.9v.9h-.9zM108.4 39.6h.9v.9h-.9zM92.5 41.1h.9v.9h-.9zM95.6 54.4h.9v.9h-.9zM103.7 33.9h.9v.9h-.9zM109.9 45.0h.9v.9h-.9zM95.3 62.3h.9v.9h-.9zM98.9 40.0h.9v.9h-.9zM95.0 43.9h.9v.9h-.9zM92.3 46.9h.9v.9h-.9zM105.7 52.2h.9v.9h-.9zM89.7 70.9h.9v.9h-.9zM92.5 50.4h.9v.9h-.9zM99.7 55.3h.9v.9h-.9zM97.2 53.0h.9v.9h-.9zM114.5 50.2h.9v.9h-.9zM91.8 52.0h.9v.9h-.9zM93.8 46.7h.9v.9h-.9zM100.8 52.1h.9v.9h-.9zM97.5 56.0h.9v.9h-.9zM98.1 39.5h.9v.9h-.9zM105.7 46.7h.9v.9h-.9zM108.1 44.5h.9v.9h-.9zM103.6 51.9h.9v.9h-.9zM80.3 38.0h.9v.9h-.9zM91.5 60.3h.9v.9h-.9zM86.1 56.5h.9v.9h-.9zM107.3 53.3h.9v.9h-.9zM104.3 45.7h.9v.9h-.9zM99.4 51.2h.9v.9h-.9zM102.5 54.9h.9v.9h-.9zM98.0 44.1h.9v.9h-.9zM95.5 52.7h.9v.9h-.9zM87.7 39.9h.9v.9h-.9zM96.6 45.3h.9v.9h-.9zM97.6 29.1h.9v.9h-.9zM97.1 47.6h.9v.9h-.9zM105.0 34.3h.9v.9h-.9zM97.3 53.1h.9v.9h-.9zM103.0 58.7h.9v.9h-.9zM107.0 41.4h.9v.9h-.9zM104.0 46.9h.9v.9h-.9zM93.8 61.3h.9v.9h-.9zM95.0 42.9h.9v.9h-.9zM96.6 42.9h.9v.9h-.9zM106.7 52.4h.9v.9h-.9zM109.5 52.7h.9v.9h-.9zM95.1 57.6h.9v.9h-.9zM94.8 45.9h.9v.9h-.9zM98.3 49.8h.9v.9h-.9zM108.0 44.8h.9v.9h-.9zM102.0 49.3h.9v.9h-.9zM90.5 41.1h.9v.9h-.9zM97.9 52.6h.9v.9h-.9zM101.8 53.2h.9v.9h-.9zM99.8 46.0h.9v.9h-.9zM102.5 41.8h.9v.9h-.9zM89.9 46.9h.9v.9h-.9zM89.3 45.5h.9v.9h-.9zM94.2 45.2h.9v.9h-.9zM99.2 43.3h.9v.9h-.9zM96.5 36.3h.9v.9h-.9zM100.5 42.7h.9v.9h-.9zM102.4 27.7h.9v.9h-.9zM93.8 51.4h.9v.9h-.9zM82.1 46.7h.9v.9h-.9zM100.2 50.3h.9v.9h-.9zM88.8 51.3h.9v.9h-.9zM100.6 42.0h.9v.9h-.9zM104.8 49.1h.9v.9h-.9zM99.6 46.0h.9v.9h-.9zM103.4 50.3h.9v.9h-.9zM107.6 53.0h.9v.9h-.9zM95.1 47.8h.9v.9h-.9zM106.1 46.7h.9v.9h-.9zM102.2 53.5h.9v.9h-.9zM98.2 31.5h.9v.9h-.9zM100.4 51.2h.9v.9h-.9zM100.5 43.6h.9v.9h-.9zM108.1 48.5h.9v.9h-.9zM95.0 44.0h.9v.9h-.9zM102.1 41.1h.9v.9h-.9zM92.3 65.0h.9v.9h-.9zM108.9 57.7h.9v.9h-.9zM109.3 54.1h.9v.9h-.9zM87.4 58.7h.9v.9h-.9zM108.4 53.3h.9v.9h-.9zM85.5 59.1h.9v.9h-.9zM109.3 45.7h.9v.9h-.9zM100.4 55.5h.9v.9h-.9zM98.9 58.0h.9v.9h-.9zM100.1 54.9h.9v.9h-.9zM100.1 38.0h.9v.9h-.9zM92.4 74.0h.9v.9h-.9zM101.5 59.7h.9v.9h-.9zM107.7 62.8h.9v.9h-.9zM103.5 44.9h.9v.9h-.9zM99.6 34.6h.9v.9h-.9zM98.2 56.5h.9v.9h-.9zM84.0 51.0h.9v.9h-.9zM105.4 59.8h.9v.9h-.9zM92.9 44.4h.9v.9h-.9zM86.0 41.6h.9v.9h-.9zM103.3 65.6h.9v.9h-.9zM91.3 60.2h.9v.9h-.9zM102.6 45.7h.9v.9h-.9zM115.3 29.9h.9v.9h-.9zM99.0 51.2h.9v.9h-.9zM114.8 63.5h.9v.9h-.9zM115.8 50.5h.9v.9h-.9zM106.5 60.1h.9v.9h-.9zM103.2 52.3h.9v.9h-.9zM98.2 46.3h.9v.9h-.9zM90.7 64.7h.9v.9h-.9zM96.3 33.3h.9v.9h-.9zM101.4 49.2h.9v.9h-.9zM100.8 63.6h.9v.9h-.9zM98.7 47.4h.9v.9h-.9zM94.1 49.3h.9v.9h-.9zM96.3 51.1h.9v.9h-.9zM122.0 52.6h.9v.9h-.9zM93.3 64.5h.9v.9h-.9zM105.7 55.9h.9v.9h-.9zM104.6 55.9h.9v.9h-.9zM104.4 60.5h.9v.9h-.9zM106.7 60.0h.9v.9h-.9zM95.9 49.5h.9v.9h-.9zM94.3 57.0h.9v.9h-.9zM105.5 45.9h.9v.9h-.9zM103.7 69.9h.9v.9h-.9zM108.4 40.8h.9v.9h-.9zM98.8 54.4h.9v.9h-.9zM99.2 52.5h.9v.9h-.9zM108.0 52.1h.9v.9h-.9zM91.6 55.1h.9v.9h-.9zM98.8 50.4h.9v.9h-.9zM95.4 38.7h.9v.9h-.9zM90.5 46.7h.9v.9h-.9zM91.8 28.3h.9v.9h-.9zM107.8 40.5h.9v.9h-.9zM94.3 53.6h.9v.9h-.9zM82.1 60.0h.9v.9h-.9zM94.0 54.6h.9v.9h-.9zM96.0 51.9h.9v.9h-.9zM100.3 49.5h.9v.9h-.9zM86.3 38.0h.9v.9h-.9zM99.2 60.5h.9v.9h-.9zM95.6 53.6h.9v.9h-.9zM100.7 53.3h.9v.9h-.9zM106.7 37.8h.9v.9h-.9zM101.5 48.1h.9v.9h-.9zM97.2 42.8h.9v.9h-.9zM93.8 41.5h.9v.9h-.9zM91.6 69.1h.9v.9h-.9zM111.8 49.6h.9v.9h-.9zM104.9 41.9h.9v.9h-.9zM79.4 35.3h.9v.9h-.9zM100.5 60.7h.9v.9h-.9zM99.2 41.7h.9v.9h-.9zM97.8 41.7h.9v.9h-.9zM89.4 47.7h.9v.9h-.9zM96.6 43.2h.9v.9h-.9zM93.1 42.2h.9v.9h-.9zM101.2 60.4h.9v.9h-.9zM98.0 66.9h.9v.9h-.9zM87.8 51.6h.9v.9h-.9zM91.2 48.2h.9v.9h-.9zM100.2 53.9h.9v.9h-.9zM107.6 45.2h.9v.9h-.9zM90.5 48.0h.9v.9h-.9zM101.6 44.1h.9v.9h-.9zM105.9 62.6h.9v.9h-.9zM89.2 52.3h.9v.9h-.9zM106.8 34.5h.9v.9h-.9zM101.0 47.7h.9v.9h-.9zM89.2 59.8h.9v.9h-.9zM101.1 45.8h.9v.9h-.9zM102.7 54.5h.9v.9h-.9zM105.0 54.0h.9v.9h-.9zM102.4 40.3h.9v.9h-.9zM96.5 50.5h.9v.9h-.9zM79.5 66.1h.9v.9h-.9zM96.8 41.3h.9v.9h-.9zM86.4 51.4h.9v.9h-.9zM99.7 44.9h.9v.9h-.9zM96.5 42.6h.9v.9h-.9zM94.1 48.7h.9v.9h-.9zM94.9 54.8h.9v.9h-.9zM98.5 50.5h.9v.9h-.9zM102.4 59.4h.9v.9h-.9zM103.8 51.3h.9v.9h-.9zM98.3 43.2h.9v.9h-.9zM97.0 54.8h.9v.9h-.9zM101.1 46.5h.9v.9h-.9zM89.9 37.5h.9v.9h-.9zM101.8 57.5h.9v.9h-.9zM102.2 38.8h.9v.9h-.9zM98.0 51.2h.9v.9h-.9zM92.9 52.2h.9v.9h-.9zM98.1 43.0h.9v.9h-.9zM90.5 55.8h.9v.9h-.9zM102.1 42.6h.9v.9h-.9zM92.2 56.4h.9v.9h-.9zM103.8 47.1h.9v.9h-.9zM111.0 47.2h.9v.9h-.9zM91.9 58.0h.9v.9h-.9zM98.1 52.2h.9v.9h-.9zM99.8 41.7h.9v.9h-.9zM90.9 48.0h.9v.9h-.9zM109.6 41.7h.9v.9h-.9zM109.3 51.2h.9v.9h-.9zM91.5 51.6h.9v.9h-.9zM103.6 42.5h.9v.9h-.9zM84.2 52.3h.9v.9h-.9zM91.5 52.9h.9v.9h-.9zM85.7 48.4h.9v.9h-.9zM93.7 38.0h.9v.9h-.9zM97.8 50.8h.9v.9h-.9zM95.5 40.3h.9v.9h-.9zM101.0 35.9h.9v.9h-.9zM103.4 53.3h.9v.9h-.9zM111.6 56.4h.9v.9h-.9zM102.1 51.6h.9v.9h-.9zM99.7 39.2h.9v.9h-.9zM110.0 53.6h.9v.9h-.9zM97.4 40.6h.9v.9h-.9zM110.2 53.6h.9v.9h-.9zM91.0 54.7h.9v.9h-.9zM113.1 49.3h.9v.9h-.9zM102.4 46.3h.9v.9h-.9zM95.0 57.8h.9v.9h-.9zM121.6 50.4h.9v.9h-.9zM98.6 55.7h.9v.9h-.9zM97.3 55.2h.9v.9h-.9zM105.5 41.6h.9v.9h-.9zM91.8 48.9h.9v.9h-.9zM105.5 51.7h.9v.9h-.9zM108.4 38.8h.9v.9h-.9zM103.0 44.7h.9v.9h-.9zM100.2 52.0h.9v.9h-.9zM92.5 47.7h.9v.9h-.9zM91.1 51.6h.9v.9h-.9zM93.4 45.7h.9v.9h-.9zM101.1 44.4h.9v.9h-.9zM107.7 44.6h.9v.9h-.9zM105.6 51.7h.9v.9h-.9zM92.1 47.8h.9v.9h-.9zM93.5 46.7h.9v.9h-.9zM97.6 63.6h.9v.9h-.9zM96.5 61.7h.9v.9h-.9zM102.7 39.4h.9v.9h-.9zM82.9 54.8h.9v.9h-.9zM85.2 55.1h.9v.9h-.9zM106.9 52.5h.9v.9h-.9zM98.0 47.6h.9v.9h-.9zM101.4 47.2h.9v.9h-.9zM95.7 46.6h.9v.9h-.9zM107.9 44.7h.9v.9h-.9zM102.2 40.6h.9v.9h-.9zM94.4 38.9h.9v.9h-.9zM98.1 54.8h.9v.9h-.9zM101.7 45.7h.9v.9h-.9zM103.9 46.8h.9v.9h-.9zM102.2 51.6h.9v.9h-.9zM103.4 30.3h.9v.9h-.9zM90.2 55.5h.9v.9h-.9zM98.7 66.9h.9v.9h-.9zM97.8 45.2h.9v.9h-.9zM110.2 53.8h.9v.9h-.9zM113.1 53.4h.9v.9h-.9zM98.0 55.1h.9v.9h-.9zM93.9 46.0h.9v.9h-.9zM95.5 47.8h.9v.9h-.9zM105.1 45.8h.9v.9h-.9zM101.8 45.6h.9v.9h-.9zM105.8 28.2h.9v.9h-.9zM98.0 50.8h.9v.9h-.9zM91.8 57.3h.9v.9h-.9zM101.0 59.4h.9v.9h-.9zM106.4 54.5h.9v.9h-.9zM98.4 41.1h.9v.9h-.9zM97.9 45.9h.9v.9h-.9zM101.3 45.9h.9v.9h-.9zM121.4 37.1h.9v.9h-.9zM107.9 45.9h.9v.9h-.9zM97.8 56.7h.9v.9h-.9zM99.5 40.1h.9v.9h-.9zM102.5 48.0h.9v.9h-.9zM84.8 51.0h.9v.9h-.9zM92.0 43.7h.9v.9h-.9zM102.9 51.8h.9v.9h-.9zM97.4 66.3h.9v.9h-.9zM102.5 44.8h.9v.9h-.9zM101.2 48.6h.9v.9h-.9zM83.8 37.3h.9v.9h-.9zM89.6 65.5h.9v.9h-.9zM98.2 47.4h.9v.9h-.9zM95.5 57.1h.9v.9h-.9zM99.7 62.7h.9v.9h-.9zM105.1 62.2h.9v.9h-.9zM98.7 52.4h.9v.9h-.9zM96.4 48.2h.9v.9h-.9zM87.1 45.0h.9v.9h-.9zM92.7 44.5h.9v.9h-.9zM108.2 51.5h.9v.9h-.9zM108.2 56.1h.9v.9h-.9zM106.1 57.2h.9v.9h-.9zM95.2 55.7h.9v.9h-.9zM97.2 45.4h.9v.9h-.9zM108.0 66.2h.9v.9h-.9zM92.5 62.9h.9v.9h-.9zM105.4 43.0h.9v.9h-.9zM101.4 52.4h.9v.9h-.9zM102.2 46.8h.9v.9h-.9zM90.3 49.7h.9v.9h-.9zM105.6 55.6h.9v.9h-.9zM104.2 58.0h.9v.9h-.9zM92.4 49.2h.9v.9h-.9zM101.9 57.2h.9v.9h-.9zM100.6 53.5h.9v.9h-.9zM100.5 65.7h.9v.9h-.9zM83.9 49.3h.9v.9h-.9zM117.1 51.3h.9v.9h-.9zM86.4 50.5h.9v.9h-.9zM89.3 44.3h.9v.9h-.9zM101.1 62.7h.9v.9h-.9zM102.8 54.7h.9v.9h-.9zM106.8 51.0h.9v.9h-.9zM93.4 48.7h.9v.9h-.9zM101.9 47.4h.9v.9h-.9zM94.7 46.7h.9v.9h-.9zM88.8 41.6h.9v.9h-.9zM98.9 46.7h.9v.9h-.9zM99.8 60.3h.9v.9h-.9zM101.6 49.3h.9v.9h-.9zM91.1 41.2h.9v.9h-.9zM102.2 42.8h.9v.9h-.9zM102.6 41.2h.9v.9h-.9zM100.5 48.9h.9v.9h-.9zM106.6 46.5h.9v.9h-.9zM96.8 51.4h.9v.9h-.9zM99.9 62.5h.9v.9h-.9zM97.7 45.4h.9v.9h-.9zM97.2 53.1h.9v.9h-.9zM101.2 54.8h.9v.9h-.9zM89.6 68.6h.9v.9h-.9zM112.6 49.3h.9v.9h-.9zM90.9 50.7h.9v.9h-.9zM102.5 32.3h.9v.9h-.9zM99.6 38.1h.9v.9h-.9zM102.8 60.1h.9v.9h-.9zM106.9 37.9h.9v.9h-.9zM109.3 56.5h.9v.9h-.9zM96.9 53.4h.9v.9h-.9zM110.3 46.9h.9v.9h-.9zM99.4 45.2h.9v.9h-.9zM107.7 32.9h.9v.9h-.9zM109.6 42.1h.9v.9h-.9zM106.1 37.0h.9v.9h-.9zM92.8 44.9h.9v.9h-.9zM105.4 37.0h.9v.9h-.9zM103.8 44.6h.9v.9h-.9zM108.3 47.1h.9v.9h-.9zM103.0 48.2h.9v.9h-.9zM112.3 46.7h.9v.9h-.9zM99.3 64.8h.9v.9h-.9zM100.1 54.8h.9v.9h-.9zM94.3 51.0h.9v.9h-.9zM83.3 50.3h.9v.9h-.9zM94.9 37.9h.9v.9h-.9zM89.4 58.3h.9v.9h-.9zM102.5 37.8h.9v.9h-.9zM112.4 44.1h.9v.9h-.9zM96.9 51.4h.9v.9h-.9zM91.4 37.1h.9v.9h-.9zM94.2 58.6h.9v.9h-.9zM106.3 37.3h.9v.9h-.9zM108.1 49.8h.9v.9h-.9zM103.1 49.9h.9v.9h-.9zM102.4 41.8h.9v.9h-.9zM93.0 44.1h.9v.9h-.9zM96.9 54.3h.9v.9h-.9zM90.8 61.8h.9v.9h-.9zM95.0 45.0h.9v.9h-.9zM104.5 52.8h.9v.9h-.9zM97.1 41.3h.9v.9h-.9zM92.4 37.2h.9v.9h-.9zM107.6 57.8h.9v.9h-.9zM112.8 53.3h.9v.9h-.9zM101.9 55.3h.9v.9h-.9zM106.3 47.5h.9v.9h-.9zM102.0 66.1h.9v.9h-.9zM87.4 38.7h.9v.9h-.9zM92.6 55.3h.9v.9h-.9zM108.0 46.9h.9v.9h-.9zM104.3 49.1h.9v.9h-.9zM101.6 45.3h.9v.9h-.9zM99.3 49.5h.9v.9h-.9zM107.6 66.7h.9v.9h-.9zM86.6 53.6h.9v.9h-.9zM99.5 57.0h.9v.9h-.9zM107.1 55.5h.9v.9h-.9zM105.3 42.2h.9v.9h-.9zM87.4 62.4h.9v.9h-.9zM108.1 42.2h.9v.9h-.9zM108.7 54.6h.9v.9h-.9zM82.0 56.4h.9v.9h-.9zM92.5 58.5h.9v.9h-.9zM94.6 43.8h.9v.9h-.9zM88.5 47.8h.9v.9h-.9zM106.8 44.3h.9v.9h-.9zM86.2 66.0h.9v.9h-.9zM112.7 54.8h.9v.9h-.9zM95.7 40.2h.9v.9h-.9zM87.8 53.8h.9v.9h-.9zM108.8 41.3h.9v.9h-.9zM99.5 47.4h.9v.9h-.9zM97.7 53.4h.9v.9h-.9zM114.4 44.6h.9v.9h-.9zM105.6 57.9h.9v.9h-.9zM97.5 48.4h.9v.9h-.9zM89.9 57.8h.9v.9h-.9zM95.7 44.5h.9v.9h-.9zM100.0 42.9h.9v.9h-.9zM92.1 47.2h.9v.9h-.9zM110.1 47.9h.9v.9h-.9zM103.3 38.2h.9v.9h-.9zM85.6 63.5h.9v.9h-.9zM96.7 37.6h.9v.9h-.9zM98.7 54.2h.9v.9h-.9zM87.2 42.7h.9v.9h-.9zM101.4 42.4h.9v.9h-.9zM105.2 56.9h.9v.9h-.9zM102.7 46.2h.9v.9h-.9zM99.2 44.6h.9v.9h-.9zM98.6 52.0h.9v.9h-.9zM97.4 57.0h.9v.9h-.9zM118.0 45.3h.9v.9h-.9zM101.9 55.9h.9v.9h-.9zM104.1 47.7h.9v.9h-.9zM96.1 57.3h.9v.9h-.9zM104.0 53.4h.9v.9h-.9zM93.8 54.4h.9v.9h-.9zM105.2 48.1h.9v.9h-.9zM104.1 66.3h.9v.9h-.9zM86.1 54.2h.9v.9h-.9zM91.1 39.0h.9v.9h-.9zM97.8 53.7h.9v.9h-.9zM99.9 40.5h.9v.9h-.9zM89.2 45.2h.9v.9h-.9zM99.6 43.1h.9v.9h-.9zM88.7 63.1h.9v.9h-.9zM93.5 48.3h.9v.9h-.9zM95.6 45.0h.9v.9h-.9zM99.8 47.2h.9v.9h-.9zM103.9 40.3h.9v.9h-.9zM88.9 64.6h.9v.9h-.9zM99.0 55.4h.9v.9h-.9zM107.9 53.8h.9v.9h-.9zM99.8 37.5h.9v.9h-.9zM88.0 57.1h.9v.9h-.9zM104.4 53.9h.9v.9h-.9zM87.6 33.0h.9v.9h-.9zM91.9 40.3h.9v.9h-.9zM100.6 41.6h.9v.9h-.9zM110.8 44.7h.9v.9h-.9zM95.5 56.2h.9v.9h-.9zM101.9 42.5h.9v.9h-.9zM105.4 64.4h.9v.9h-.9zM90.7 47.6h.9v.9h-.9zM91.8 34.4h.9v.9h-.9zM104.0 54.9h.9v.9h-.9zM106.5 52.8h.9v.9h-.9zM85.0 49.3h.9v.9h-.9zM94.7 40.4h.9v.9h-.9zM91.6 55.4h.9v.9h-.9zM97.4 64.8h.9v.9h-.9zM102.9 34.7h.9v.9h-.9zM105.9 59.2h.9v.9h-.9zM99.7 40.1h.9v.9h-.9zM112.2 39.3h.9v.9h-.9zM98.9 34.7h.9v.9h-.9zM90.5 36.3h.9v.9h-.9zM107.3 58.7h.9v.9h-.9zM96.6 38.9h.9v.9h-.9zM99.1 52.4h.9v.9h-.9zM88.5 40.5h.9v.9h-.9zM98.8 55.0h.9v.9h-.9zM100.0 53.0h.9v.9h-.9zM90.5 30.1h.9v.9h-.9zM101.7 42.3h.9v.9h-.9zM98.6 46.6h.9v.9h-.9zM103.0 43.5h.9v.9h-.9zM109.9 49.7h.9v.9h-.9zM103.3 54.4h.9v.9h-.9zM107.0 52.7h.9v.9h-.9zM86.9 44.6h.9v.9h-.9z" fill="#000" fill-opacity="0.58"/>
<path d="M118.6 54.3h.9v.9h-.9zM105.3 54.3h.9v.9h-.9zM92.9 42.5h.9v.9h-.9zM92.9 61.4h.9v.9h-.9zM103.2 67.8h.9v.9h-.9zM104.6 68.9h.9v.9h-.9zM104.2 37.3h.9v.9h-.9zM117.4 53.0h.9v.9h-.9zM111.7 51.7h.9v.9h-.9zM96.1 51.2h.9v.9h-.9zM88.0 37.2h.9v.9h-.9zM90.4 44.1h.9v.9h-.9zM85.5 48.4h.9v.9h-.9zM102.6 70.4h.9v.9h-.9zM118.5 49.0h.9v.9h-.9zM108.6 47.2h.9v.9h-.9zM103.5 49.2h.9v.9h-.9zM93.9 50.3h.9v.9h-.9zM84.3 54.0h.9v.9h-.9zM96.5 38.3h.9v.9h-.9zM95.8 55.2h.9v.9h-.9zM92.5 54.4h.9v.9h-.9zM105.4 65.6h.9v.9h-.9zM88.3 48.4h.9v.9h-.9zM104.8 65.0h.9v.9h-.9zM102.2 57.3h.9v.9h-.9zM84.3 43.5h.9v.9h-.9zM116.7 46.6h.9v.9h-.9zM121.9 42.0h.9v.9h-.9zM96.6 33.0h.9v.9h-.9zM106.1 52.2h.9v.9h-.9zM120.4 51.2h.9v.9h-.9zM96.9 34.9h.9v.9h-.9zM98.6 59.3h.9v.9h-.9zM107.2 62.2h.9v.9h-.9zM108.5 49.0h.9v.9h-.9zM105.8 51.3h.9v.9h-.9zM85.7 67.2h.9v.9h-.9zM103.4 38.6h.9v.9h-.9zM103.5 52.5h.9v.9h-.9zM109.8 64.5h.9v.9h-.9zM68.0 55.3h.9v.9h-.9zM115.4 39.7h.9v.9h-.9zM80.2 52.4h.9v.9h-.9zM103.0 53.1h.9v.9h-.9zM88.0 44.6h.9v.9h-.9zM101.5 57.2h.9v.9h-.9zM122.3 52.6h.9v.9h-.9zM93.2 25.0h.9v.9h-.9zM110.7 48.1h.9v.9h-.9zM98.4 39.2h.9v.9h-.9zM107.1 30.9h.9v.9h-.9zM100.6 50.8h.9v.9h-.9zM102.6 63.1h.9v.9h-.9zM98.5 50.5h.9v.9h-.9zM108.4 33.4h.9v.9h-.9zM96.5 50.2h.9v.9h-.9zM109.4 41.2h.9v.9h-.9zM107.9 53.5h.9v.9h-.9zM84.0 34.1h.9v.9h-.9zM84.6 51.0h.9v.9h-.9zM101.7 57.0h.9v.9h-.9zM108.1 43.7h.9v.9h-.9zM110.7 58.0h.9v.9h-.9zM104.4 54.5h.9v.9h-.9zM86.1 53.3h.9v.9h-.9zM88.7 37.1h.9v.9h-.9zM95.9 51.0h.9v.9h-.9zM98.9 46.1h.9v.9h-.9zM89.1 51.4h.9v.9h-.9zM91.8 34.8h.9v.9h-.9zM100.5 64.7h.9v.9h-.9zM95.3 38.4h.9v.9h-.9zM114.0 67.4h.9v.9h-.9zM96.4 47.3h.9v.9h-.9zM101.7 80.3h.9v.9h-.9zM100.9 59.9h.9v.9h-.9zM104.1 30.5h.9v.9h-.9zM88.0 36.6h.9v.9h-.9zM104.0 50.6h.9v.9h-.9zM118.2 46.7h.9v.9h-.9zM102.7 50.3h.9v.9h-.9zM101.0 73.7h.9v.9h-.9zM102.5 64.9h.9v.9h-.9zM113.1 43.2h.9v.9h-.9zM106.7 45.5h.9v.9h-.9zM100.6 51.2h.9v.9h-.9zM99.7 44.6h.9v.9h-.9zM115.8 46.7h.9v.9h-.9zM106.9 67.1h.9v.9h-.9zM106.1 60.2h.9v.9h-.9zM114.0 60.9h.9v.9h-.9zM117.5 34.6h.9v.9h-.9zM120.0 49.8h.9v.9h-.9zM81.2 42.8h.9v.9h-.9zM84.9 49.3h.9v.9h-.9zM83.9 39.0h.9v.9h-.9zM102.6 51.1h.9v.9h-.9zM91.1 47.0h.9v.9h-.9zM98.5 50.3h.9v.9h-.9zM99.4 47.2h.9v.9h-.9zM108.7 32.7h.9v.9h-.9zM94.3 50.9h.9v.9h-.9zM95.3 43.7h.9v.9h-.9zM94.9 51.7h.9v.9h-.9zM112.6 47.6h.9v.9h-.9zM96.7 53.2h.9v.9h-.9zM97.0 29.2h.9v.9h-.9zM102.3 45.5h.9v.9h-.9zM93.5 56.1h.9v.9h-.9zM100.0 43.6h.9v.9h-.9zM76.7 31.5h.9v.9h-.9zM99.6 48.3h.9v.9h-.9zM104.1 51.8h.9v.9h-.9zM94.5 36.2h.9v.9h-.9zM88.0 48.0h.9v.9h-.9zM87.4 57.4h.9v.9h-.9zM85.6 30.7h.9v.9h-.9zM97.5 30.9h.9v.9h-.9zM116.6 39.1h.9v.9h-.9zM99.0 46.9h.9v.9h-.9zM90.9 30.9h.9v.9h-.9zM80.0 58.6h.9v.9h-.9zM110.2 72.2h.9v.9h-.9zM84.1 55.4h.9v.9h-.9zM99.4 58.4h.9v.9h-.9zM94.1 57.1h.9v.9h-.9zM108.9 55.9h.9v.9h-.9zM114.7 47.7h.9v.9h-.9zM115.7 42.1h.9v.9h-.9zM117.0 20.7h.9v.9h-.9zM99.6 41.1h.9v.9h-.9zM99.5 60.3h.9v.9h-.9zM107.0 50.5h.9v.9h-.9zM117.4 34.0h.9v.9h-.9zM91.0 65.4h.9v.9h-.9zM102.9 27.7h.9v.9h-.9zM103.1 37.1h.9v.9h-.9zM115.0 61.5h.9v.9h-.9zM93.8 63.1h.9v.9h-.9zM90.7 59.2h.9v.9h-.9zM105.6 48.2h.9v.9h-.9zM84.6 46.6h.9v.9h-.9zM75.5 43.6h.9v.9h-.9zM80.1 62.3h.9v.9h-.9zM89.4 24.0h.9v.9h-.9zM105.6 53.4h.9v.9h-.9zM94.2 71.7h.9v.9h-.9zM107.6 50.2h.9v.9h-.9zM92.7 18.5h.9v.9h-.9zM104.5 59.6h.9v.9h-.9zM93.3 34.7h.9v.9h-.9zM99.1 31.9h.9v.9h-.9zM99.6 57.6h.9v.9h-.9zM115.4 52.3h.9v.9h-.9zM101.6 57.4h.9v.9h-.9zM114.2 46.1h.9v.9h-.9zM86.6 41.2h.9v.9h-.9zM86.3 40.2h.9v.9h-.9zM98.2 53.1h.9v.9h-.9zM101.1 50.2h.9v.9h-.9zM95.8 53.9h.9v.9h-.9zM108.8 57.5h.9v.9h-.9zM115.2 46.5h.9v.9h-.9zM96.9 67.3h.9v.9h-.9zM101.6 53.8h.9v.9h-.9zM96.0 59.7h.9v.9h-.9zM95.3 38.9h.9v.9h-.9zM98.9 44.9h.9v.9h-.9zM108.3 45.5h.9v.9h-.9zM100.8 47.2h.9v.9h-.9zM103.1 42.9h.9v.9h-.9zM111.1 34.5h.9v.9h-.9zM95.5 42.1h.9v.9h-.9zM106.3 49.9h.9v.9h-.9zM104.6 46.0h.9v.9h-.9zM92.0 37.7h.9v.9h-.9zM96.0 43.9h.9v.9h-.9zM102.4 53.2h.9v.9h-.9zM109.8 48.4h.9v.9h-.9zM91.6 38.4h.9v.9h-.9zM100.1 53.3h.9v.9h-.9zM120.0 51.4h.9v.9h-.9zM118.0 69.2h.9v.9h-.9zM88.5 62.2h.9v.9h-.9zM111.4 63.6h.9v.9h-.9zM99.4 59.5h.9v.9h-.9zM94.4 48.8h.9v.9h-.9zM99.7 68.2h.9v.9h-.9zM97.2 59.5h.9v.9h-.9zM100.2 42.1h.9v.9h-.9zM102.0 56.4h.9v.9h-.9zM92.0 56.2h.9v.9h-.9zM92.0 40.3h.9v.9h-.9zM101.8 47.0h.9v.9h-.9zM89.2 32.4h.9v.9h-.9zM99.7 52.1h.9v.9h-.9zM94.7 51.5h.9v.9h-.9zM83.5 53.6h.9v.9h-.9zM103.9 52.4h.9v.9h-.9zM93.1 50.3h.9v.9h-.9zM100.9 60.7h.9v.9h-.9zM102.4 52.2h.9v.9h-.9zM91.9 58.6h.9v.9h-.9zM111.8 44.3h.9v.9h-.9zM106.2 52.7h.9v.9h-.9zM99.0 36.0h.9v.9h-.9zM117.9 29.9h.9v.9h-.9zM102.7 45.6h.9v.9h-.9zM111.5 45.1h.9v.9h-.9zM99.9 55.9h.9v.9h-.9zM104.3 44.0h.9v.9h-.9zM106.6 53.6h.9v.9h-.9zM109.9 44.1h.9v.9h-.9zM99.0 45.4h.9v.9h-.9zM90.7 52.2h.9v.9h-.9zM103.8 64.4h.9v.9h-.9zM96.1 53.6h.9v.9h-.9zM111.5 48.3h.9v.9h-.9zM100.2 50.9h.9v.9h-.9zM92.3 39.1h.9v.9h-.9zM111.2 51.3h.9v.9h-.9zM98.7 36.5h.9v.9h-.9zM100.7 61.8h.9v.9h-.9zM87.5 40.2h.9v.9h-.9zM111.1 64.5h.9v.9h-.9zM115.7 43.7h.9v.9h-.9zM105.8 41.6h.9v.9h-.9zM104.9 45.7h.9v.9h-.9zM101.6 63.5h.9v.9h-.9zM103.0 47.0h.9v.9h-.9zM100.1 52.3h.9v.9h-.9zM94.1 51.7h.9v.9h-.9zM105.8 65.8h.9v.9h-.9zM78.0 37.1h.9v.9h-.9zM86.6 58.6h.9v.9h-.9zM125.0 51.5h.9v.9h-.9zM100.8 61.4h.9v.9h-.9zM74.0 47.6h.9v.9h-.9zM67.0 51.1h.9v.9h-.9zM94.2 44.4h.9v.9h-.9zM103.0 43.4h.9v.9h-.9zM111.1 49.5h.9v.9h-.9zM103.5 76.0h.9v.9h-.9zM94.8 59.2h.9v.9h-.9zM90.9 62.5h.9v.9h-.9zM109.6 51.0h.9v.9h-.9zM109.8 66.3h.9v.9h-.9zM113.9 49.5h.9v.9h-.9zM98.9 61.0h.9v.9h-.9zM84.2 43.2h.9v.9h-.9zM104.6 55.4h.9v.9h-.9zM118.9 67.8h.9v.9h-.9zM102.9 54.1h.9v.9h-.9zM85.8 47.6h.9v.9h-.9zM102.2 47.1h.9v.9h-.9zM100.1 55.8h.9v.9h-.9zM89.6 43.6h.9v.9h-.9zM81.0 61.4h.9v.9h-.9zM88.5 31.8h.9v.9h-.9zM107.5 47.3h.9v.9h-.9zM109.5 45.7h.9v.9h-.9zM121.6 56.9h.9v.9h-.9zM101.1 50.7h.9v.9h-.9zM97.4 57.9h.9v.9h-.9zM120.3 45.1h.9v.9h-.9zM88.2 55.7h.9v.9h-.9zM110.6 34.0h.9v.9h-.9zM92.3 39.2h.9v.9h-.9zM105.3 54.7h.9v.9h-.9zM91.9 37.8h.9v.9h-.9zM106.6 28.2h.9v.9h-.9zM106.2 47.9h.9v.9h-.9zM119.4 59.8h.9v.9h-.9zM93.5 46.7h.9v.9h-.9zM96.6 42.0h.9v.9h-.9zM100.3 59.5h.9v.9h-.9zM83.9 47.1h.9v.9h-.9zM115.0 57.2h.9v.9h-.9zM91.1 41.2h.9v.9h-.9zM90.6 32.9h.9v.9h-.9zM111.4 50.2h.9v.9h-.9zM92.3 34.7h.9v.9h-.9zM95.5 44.2h.9v.9h-.9zM117.3 44.7h.9v.9h-.9zM100.7 60.6h.9v.9h-.9zM106.4 47.6h.9v.9h-.9zM76.9 64.0h.9v.9h-.9zM105.7 45.0h.9v.9h-.9zM98.6 39.6h.9v.9h-.9zM90.2 34.2h.9v.9h-.9zM104.7 54.9h.9v.9h-.9zM101.3 57.6h.9v.9h-.9zM105.0 50.8h.9v.9h-.9zM90.4 55.6h.9v.9h-.9zM111.8 56.0h.9v.9h-.9zM112.4 44.6h.9v.9h-.9zM89.4 62.4h.9v.9h-.9zM93.5 52.0h.9v.9h-.9zM97.5 49.7h.9v.9h-.9zM96.7 43.9h.9v.9h-.9zM81.1 69.1h.9v.9h-.9zM101.6 29.7h.9v.9h-.9zM90.2 37.9h.9v.9h-.9zM91.9 23.2h.9v.9h-.9zM105.4 66.4h.9v.9h-.9zM97.0 57.2h.9v.9h-.9zM105.7 36.7h.9v.9h-.9zM112.1 32.1h.9v.9h-.9zM93.6 45.8h.9v.9h-.9zM112.4 50.7h.9v.9h-.9zM98.2 41.2h.9v.9h-.9zM100.4 49.9h.9v.9h-.9zM107.0 63.9h.9v.9h-.9zM107.1 49.7h.9v.9h-.9zM97.9 66.0h.9v.9h-.9zM101.6 49.3h.9v.9h-.9zM118.0 65.6h.9v.9h-.9zM105.4 48.4h.9v.9h-.9zM93.0 60.5h.9v.9h-.9zM94.8 59.4h.9v.9h-.9zM91.5 50.6h.9v.9h-.9zM103.6 51.0h.9v.9h-.9zM101.9 53.4h.9v.9h-.9zM88.0 38.1h.9v.9h-.9zM98.0 68.0h.9v.9h-.9zM98.2 40.0h.9v.9h-.9zM92.7 49.8h.9v.9h-.9zM111.6 43.7h.9v.9h-.9zM105.3 51.4h.9v.9h-.9zM95.8 39.8h.9v.9h-.9zM97.9 42.1h.9v.9h-.9zM105.0 31.4h.9v.9h-.9zM111.1 57.3h.9v.9h-.9zM105.4 64.9h.9v.9h-.9zM105.7 32.0h.9v.9h-.9zM100.0 54.1h.9v.9h-.9zM92.5 37.9h.9v.9h-.9zM103.9 54.7h.9v.9h-.9zM95.1 47.0h.9v.9h-.9zM94.3 43.7h.9v.9h-.9zM98.9 60.5h.9v.9h-.9zM83.0 46.0h.9v.9h-.9zM116.0 52.8h.9v.9h-.9zM101.1 58.1h.9v.9h-.9zM89.2 37.1h.9v.9h-.9zM82.5 34.6h.9v.9h-.9zM102.0 58.2h.9v.9h-.9zM95.2 42.5h.9v.9h-.9zM103.6 55.8h.9v.9h-.9zM102.1 30.0h.9v.9h-.9zM93.9 23.6h.9v.9h-.9zM102.0 40.8h.9v.9h-.9zM92.8 64.9h.9v.9h-.9zM113.0 54.4h.9v.9h-.9zM102.3 51.3h.9v.9h-.9zM93.5 49.0h.9v.9h-.9zM119.1 40.5h.9v.9h-.9zM92.7 51.2h.9v.9h-.9zM108.6 58.0h.9v.9h-.9zM89.6 48.2h.9v.9h-.9zM96.8 36.9h.9v.9h-.9zM100.3 44.6h.9v.9h-.9zM108.9 53.9h.9v.9h-.9zM91.5 50.3h.9v.9h-.9zM95.9 43.0h.9v.9h-.9zM94.5 60.4h.9v.9h-.9zM95.3 32.0h.9v.9h-.9zM91.6 57.7h.9v.9h-.9zM121.5 38.7h.9v.9h-.9zM95.9 46.1h.9v.9h-.9zM85.1 53.6h.9v.9h-.9zM99.0 52.4h.9v.9h-.9zM122.4 46.8h.9v.9h-.9zM107.6 58.0h.9v.9h-.9zM93.0 43.5h.9v.9h-.9zM115.4 56.8h.9v.9h-.9zM101.0 38.3h.9v.9h-.9zM108.5 54.9h.9v.9h-.9zM121.9 64.6h.9v.9h-.9zM107.7 52.2h.9v.9h-.9zM100.1 43.9h.9v.9h-.9zM102.7 52.0h.9v.9h-.9zM106.2 60.6h.9v.9h-.9zM102.7 44.0h.9v.9h-.9zM107.7 65.4h.9v.9h-.9zM91.0 53.8h.9v.9h-.9zM105.1 55.0h.9v.9h-.9zM104.7 48.6h.9v.9h-.9zM98.5 66.7h.9v.9h-.9zM117.2 35.2h.9v.9h-.9zM73.6 54.0h.9v.9h-.9zM92.6 44.2h.9v.9h-.9zM83.2 53.1h.9v.9h-.9zM98.9 44.0h.9v.9h-.9zM108.7 74.3h.9v.9h-.9zM114.6 61.5h.9v.9h-.9zM95.3 56.2h.9v.9h-.9zM99.1 61.3h.9v.9h-.9zM105.4 49.1h.9v.9h-.9zM69.6 80.7h.9v.9h-.9zM73.8 76.2h.9v.9h-.9zM87.6 68.5h.9v.9h-.9zM87.5 63.9h.9v.9h-.9zM83.9 66.3h.9v.9h-.9zM63.6 78.6h.9v.9h-.9zM72.2 82.2h.9v.9h-.9zM74.9 86.2h.9v.9h-.9zM72.8 69.6h.9v.9h-.9zM75.3 73.9h.9v.9h-.9zM76.5 77.9h.9v.9h-.9zM68.1 77.7h.9v.9h-.9zM82.7 78.1h.9v.9h-.9zM74.7 73.9h.9v.9h-.9zM74.2 83.9h.9v.9h-.9zM61.1 86.1h.9v.9h-.9zM78.6 71.9h.9v.9h-.9zM83.7 78.5h.9v.9h-.9zM58.1 82.6h.9v.9h-.9zM76.8 72.3h.9v.9h-.9zM67.7 82.4h.9v.9h-.9zM57.7 82.4h.9v.9h-.9zM85.2 71.6h.9v.9h-.9zM68.3 78.9h.9v.9h-.9zM75.2 77.2h.9v.9h-.9zM69.8 85.4h.9v.9h-.9zM76.0 67.7h.9v.9h-.9zM75.5 79.8h.9v.9h-.9zM75.6 84.5h.9v.9h-.9zM72.1 74.5h.9v.9h-.9zM79.2 71.6h.9v.9h-.9zM62.8 85.4h.9v.9h-.9zM88.6 68.3h.9v.9h-.9zM72.6 77.7h.9v.9h-.9zM64.5 83.7h.9v.9h-.9zM77.4 73.3h.9v.9h-.9zM79.5 65.7h.9v.9h-.9zM63.1 81.4h.9v.9h-.9zM75.9 77.0h.9v.9h-.9zM66.1 84.0h.9v.9h-.9zM64.6 78.7h.9v.9h-.9zM73.2 79.4h.9v.9h-.9zM74.9 82.0h.9v.9h-.9zM74.1 78.8h.9v.9h-.9zM83.4 68.7h.9v.9h-.9zM83.7 66.5h.9v.9h-.9zM65.3 82.6h.9v.9h-.9zM77.2 71.7h.9v.9h-.9zM81.7 68.7h.9v.9h-.9zM75.3 71.6h.9v.9h-.9zM81.2 70.9h.9v.9h-.9zM61.7 85.5h.9v.9h-.9zM63.6 82.6h.9v.9h-.9zM79.5 75.6h.9v.9h-.9zM81.4 72.7h.9v.9h-.9zM69.7 74.3h.9v.9h-.9zM66.7 77.9h.9v.9h-.9zM66.0 80.5h.9v.9h-.9zM68.1 78.6h.9v.9h-.9zM70.5 80.9h.9v.9h-.9zM70.0 74.7h.9v.9h-.9zM77.4 77.0h.9v.9h-.9zM84.1 75.3h.9v.9h-.9zM65.0 79.0h.9v.9h-.9zM72.4 85.3h.9v.9h-.9zM64.4 81.5h.9v.9h-.9zM59.9 87.0h.9v.9h-.9zM72.7 72.8h.9v.9h-.9zM63.0 84.2h.9v.9h-.9zM58.8 83.0h.9v.9h-.9zM72.8 81.2h.9v.9h-.9zM73.4 83.8h.9v.9h-.9zM66.0 78.7h.9v.9h-.9zM77.5 69.3h.9v.9h-.9zM70.4 86.2h.9v.9h-.9zM80.4 68.6h.9v.9h-.9zM72.6 73.8h.9v.9h-.9zM63.0 86.8h.9v.9h-.9zM67.9 87.8h.9v.9h-.9zM62.1 86.5h.9v.9h-.9zM87.1 65.9h.9v.9h-.9zM86.1 62.9h.9v.9h-.9zM65.8 93.3h.9v.9h-.9zM68.6 73.2h.9v.9h-.9zM72.8 81.5h.9v.9h-.9zM77.5 73.1h.9v.9h-.9zM85.4 68.1h.9v.9h-.9zM62.7 77.1h.9v.9h-.9zM78.2 82.8h.9v.9h-.9zM83.1 75.3h.9v.9h-.9zM69.5 88.0h.9v.9h-.9zM89.3 67.8h.9v.9h-.9zM60.6 81.0h.9v.9h-.9zM81.7 66.5h.9v.9h-.9zM74.9 81.5h.9v.9h-.9zM81.0 70.3h.9v.9h-.9zM76.1 72.1h.9v.9h-.9zM67.1 77.4h.9v.9h-.9zM69.6 76.7h.9v.9h-.9zM83.7 71.4h.9v.9h-.9zM74.0 73.1h.9v.9h-.9zM73.2 73.6h.9v.9h-.9zM90.7 66.5h.9v.9h-.9zM70.3 84.9h.9v.9h-.9zM70.3 77.4h.9v.9h-.9zM68.3 67.8h.9v.9h-.9zM80.6 65.1h.9v.9h-.9zM73.2 76.6h.9v.9h-.9zM68.7 77.5h.9v.9h-.9zM69.4 77.7h.9v.9h-.9zM60.9 92.0h.9v.9h-.9zM76.6 72.3h.9v.9h-.9zM60.0 76.7h.9v.9h-.9zM83.2 71.9h.9v.9h-.9zM77.5 68.4h.9v.9h-.9zM78.2 69.1h.9v.9h-.9zM76.5 77.6h.9v.9h-.9zM74.4 72.2h.9v.9h-.9zM74.1 67.5h.9v.9h-.9zM84.4 70.1h.9v.9h-.9zM72.7 72.1h.9v.9h-.9zM81.9 68.7h.9v.9h-.9zM66.5 80.6h.9v.9h-.9zM67.1 84.8h.9v.9h-.9zM66.8 81.3h.9v.9h-.9zM72.7 76.7h.9v.9h-.9zM65.0 82.1h.9v.9h-.9zM80.7 69.5h.9v.9h-.9zM76.0 70.2h.9v.9h-.9zM68.6 85.8h.9v.9h-.9zM81.1 69.0h.9v.9h-.9zM76.3 87.7h.9v.9h-.9zM80.3 69.2h.9v.9h-.9zM74.0 73.7h.9v.9h-.9zM63.3 76.9h.9v.9h-.9zM80.9 63.0h.9v.9h-.9zM77.5 71.4h.9v.9h-.9zM66.6 71.6h.9v.9h-.9zM67.5 82.2h.9v.9h-.9zM77.3 68.3h.9v.9h-.9zM76.3 67.8h.9v.9h-.9zM78.0 74.3h.9v.9h-.9zM63.6 78.3h.9v.9h-.9zM82.2 73.2h.9v.9h-.9zM80.9 64.9h.9v.9h-.9zM81.8 64.4h.9v.9h-.9zM82.5 73.9h.9v.9h-.9zM75.0 80.6h.9v.9h-.9zM69.9 73.6h.9v.9h-.9zM72.4 86.4h.9v.9h-.9zM73.7 79.1h.9v.9h-.9zM71.4 84.4h.9v.9h-.9zM72.1 74.3h.9v.9h-.9zM81.4 67.8h.9v.9h-.9zM70.7 74.0h.9v.9h-.9zM68.0 81.5h.9v.9h-.9zM63.5 82.2h.9v.9h-.9zM75.2 81.4h.9v.9h-.9zM79.2 67.7h.9v.9h-.9zM71.9 82.5h.9v.9h-.9zM70.5 70.0h.9v.9h-.9zM68.4 80.5h.9v.9h-.9zM67.5 82.9h.9v.9h-.9zM70.1 73.3h.9v.9h-.9zM76.4 78.2h.9v.9h-.9zM76.0 73.6h.9v.9h-.9zM76.1 75.6h.9v.9h-.9zM64.7 83.9h.9v.9h-.9zM69.3 78.1h.9v.9h-.9zM74.6 69.7h.9v.9h-.9zM81.6 72.7h.9v.9h-.9zM73.1 80.8h.9v.9h-.9zM70.0 79.7h.9v.9h-.9zM74.9 64.8h.9v.9h-.9zM76.0 70.6h.9v.9h-.9zM76.1 66.1h.9v.9h-.9zM79.7 70.5h.9v.9h-.9zM76.5 77.7h.9v.9h-.9zM72.6 83.1h.9v.9h-.9zM63.2 88.3h.9v.9h-.9zM66.7 81.5h.9v.9h-.9zM68.9 80.7h.9v.9h-.9zM81.2 68.1h.9v.9h-.9zM80.8 67.2h.9v.9h-.9zM69.8 83.6h.9v.9h-.9zM79.7 73.6h.9v.9h-.9zM62.5 85.2h.9v.9h-.9zM71.2 79.8h.9v.9h-.9zM72.2 69.3h.9v.9h-.9zM73.4 77.3h.9v.9h-.9zM66.3 89.1h.9v.9h-.9zM83.7 81.3h.9v.9h-.9zM80.5 66.4h.9v.9h-.9zM81.6 73.6h.9v.9h-.9zM78.4 69.7h.9v.9h-.9zM73.1 71.2h.9v.9h-.9zM79.4 67.7h.9v.9h-.9zM72.4 81.4h.9v.9h-.9zM57.6 86.1h.9v.9h-.9zM70.5 75.9h.9v.9h-.9zM74.0 73.8h.9v.9h-.9zM67.5 84.6h.9v.9h-.9zM72.8 70.8h.9v.9h-.9zM78.4 67.8h.9v.9h-.9zM83.2 65.3h.9v.9h-.9zM70.3 72.1h.9v.9h-.9zM69.3 77.3h.9v.9h-.9zM63.9 77.8h.9v.9h-.9zM67.5 78.4h.9v.9h-.9zM81.3 71.5h.9v.9h-.9zM65.1 88.0h.9v.9h-.9zM68.0 79.4h.9v.9h-.9zM84.8 68.5h.9v.9h-.9zM71.3 75.4h.9v.9h-.9zM87.9 61.3h.9v.9h-.9zM81.6 76.9h.9v.9h-.9zM76.8 79.2h.9v.9h-.9zM73.9 75.9h.9v.9h-.9zM79.2 70.2h.9v.9h-.9zM72.0 72.8h.9v.9h-.9zM86.8 65.0h.9v.9h-.9zM57.7 76.7h.9v.9h-.9zM80.7 72.6h.9v.9h-.9zM77.2 72.6h.9v.9h-.9zM78.3 77.1h.9v.9h-.9zM73.1 80.0h.9v.9h-.9zM78.2 73.4h.9v.9h-.9zM67.7 74.3h.9v.9h-.9zM83.3 59.2h.9v.9h-.9zM70.5 88.1h.9v.9h-.9zM86.0 72.8h.9v.9h-.9zM73.7 85.7h.9v.9h-.9zM72.4 77.0h.9v.9h-.9zM70.7 77.8h.9v.9h-.9zM74.9 70.1h.9v.9h-.9zM74.6 77.5h.9v.9h-.9zM74.1 76.4h.9v.9h-.9zM74.7 65.5h.9v.9h-.9zM81.3 70.5h.9v.9h-.9zM69.3 85.7h.9v.9h-.9zM82.4 75.9h.9v.9h-.9zM73.6 76.7h.9v.9h-.9zM73.1 78.5h.9v.9h-.9zM80.4 72.7h.9v.9h-.9zM80.8 68.6h.9v.9h-.9zM68.0 74.7h.9v.9h-.9zM75.7 70.7h.9v.9h-.9zM71.2 80.1h.9v.9h-.9zM83.6 65.7h.9v.9h-.9zM76.2 78.4h.9v.9h-.9zM60.9 85.0h.9v.9h-.9zM73.9 75.9h.9v.9h-.9zM65.8 79.0h.9v.9h-.9zM58.2 83.0h.9v.9h-.9zM60.3 85.2h.9v.9h-.9zM71.1 75.3h.9v.9h-.9zM73.8 78.5h.9v.9h-.9zM61.9 85.9h.9v.9h-.9zM77.3 67.6h.9v.9h-.9zM78.8 71.9h.9v.9h-.9zM79.0 73.7h.9v.9h-.9zM66.7 78.8h.9v.9h-.9zM75.0 73.8h.9v.9h-.9zM72.9 72.8h.9v.9h-.9zM72.4 78.4h.9v.9h-.9zM85.7 58.4h.9v.9h-.9zM74.0 80.5h.9v.9h-.9zM73.7 74.8h.9v.9h-.9zM74.8 79.3h.9v.9h-.9zM71.7 72.1h.9v.9h-.9zM74.4 71.7h.9v.9h-.9zM84.1 73.3h.9v.9h-.9zM81.7 76.4h.9v.9h-.9zM69.2 83.3h.9v.9h-.9zM75.4 81.6h.9v.9h-.9zM71.4 80.2h.9v.9h-.9zM69.4 74.6h.9v.9h-.9zM87.0 74.0h.9v.9h-.9zM74.6 81.2h.9v.9h-.9zM67.0 89.5h.9v.9h-.9zM77.2 79.1h.9v.9h-.9zM72.0 80.8h.9v.9h-.9zM66.1 76.6h.9v.9h-.9zM73.6 73.5h.9v.9h-.9zM71.0 86.9h.9v.9h-.9zM73.7 78.4h.9v.9h-.9zM62.2 86.4h.9v.9h-.9zM86.6 67.7h.9v.9h-.9zM70.9 85.9h.9v.9h-.9zM75.3 73.2h.9v.9h-.9zM63.0 83.5h.9v.9h-.9zM72.1 77.9h.9v.9h-.9zM67.4 82.7h.9v.9h-.9zM76.5 70.3h.9v.9h-.9zM81.0 75.2h.9v.9h-.9zM67.1 81.0h.9v.9h-.9zM85.0 65.2h.9v.9h-.9zM60.2 82.2h.9v.9h-.9zM76.2 66.5h.9v.9h-.9zM77.0 63.9h.9v.9h-.9zM74.4 76.4h.9v.9h-.9zM71.3 69.3h.9v.9h-.9zM76.1 66.7h.9v.9h-.9zM65.9 84.1h.9v.9h-.9zM72.9 75.8h.9v.9h-.9zM79.1 70.6h.9v.9h-.9zM69.5 77.0h.9v.9h-.9zM74.0 82.0h.9v.9h-.9zM63.8 80.4h.9v.9h-.9zM83.9 72.3h.9v.9h-.9zM77.5 75.5h.9v.9h-.9zM71.9 80.9h.9v.9h-.9zM63.9 87.2h.9v.9h-.9zM78.7 71.1h.9v.9h-.9zM71.1 77.2h.9v.9h-.9zM59.6 83.1h.9v.9h-.9zM65.6 84.3h.9v.9h-.9zM88.3 67.1h.9v.9h-.9zM70.9 68.9h.9v.9h-.9zM79.4 71.6h.9v.9h-.9zM68.6 75.4h.9v.9h-.9zM74.0 76.8h.9v.9h-.9zM77.7 76.0h.9v.9h-.9zM77.0 74.7h.9v.9h-.9zM78.8 71.3h.9v.9h-.9zM79.0 71.1h.9v.9h-.9zM75.6 77.9h.9v.9h-.9zM70.0 77.0h.9v.9h-.9zM78.4 68.5h.9v.9h-.9zM77.0 71.0h.9v.9h-.9zM75.5 76.2h.9v.9h-.9zM68.0 82.9h.9v.9h-.9zM75.1 69.2h.9v.9h-.9zM74.8 74.7h.9v.9h-.9zM70.6 79.6h.9v.9h-.9zM70.5 74.4h.9v.9h-.9zM72.3 77.9h.9v.9h-.9zM67.9 76.0h.9v.9h-.9zM69.6 69.0h.9v.9h-.9zM76.2 79.3h.9v.9h-.9zM76.5 78.9h.9v.9h-.9zM68.4 77.0h.9v.9h-.9zM72.2 73.0h.9v.9h-.9zM69.2 74.3h.9v.9h-.9zM67.7 76.4h.9v.9h-.9zM72.7 81.1h.9v.9h-.9zM77.8 70.0h.9v.9h-.9zM63.6 83.9h.9v.9h-.9zM79.2 68.6h.9v.9h-.9zM74.9 77.1h.9v.9h-.9zM65.0 76.4h.9v.9h-.9zM73.8 77.2h.9v.9h-.9zM73.4 69.8h.9v.9h-.9zM72.3 73.8h.9v.9h-.9zM82.8 76.1h.9v.9h-.9zM73.5 74.5h.9v.9h-.9zM77.1 73.8h.9v.9h-.9zM86.0 73.4h.9v.9h-.9zM81.6 67.4h.9v.9h-.9zM81.5 56.7h.9v.9h-.9zM69.7 84.3h.9v.9h-.9zM55.2 83.0h.9v.9h-.9zM89.4 64.6h.9v.9h-.9zM69.3 86.3h.9v.9h-.9zM75.8 74.1h.9v.9h-.9zM64.5 81.2h.9v.9h-.9zM80.0 68.4h.9v.9h-.9zM83.4 65.6h.9v.9h-.9zM74.7 79.6h.9v.9h-.9zM86.4 74.5h.9v.9h-.9zM80.7 68.8h.9v.9h-.9zM69.5 80.2h.9v.9h-.9zM71.9 72.7h.9v.9h-.9zM83.5 68.2h.9v.9h-.9z" fill="#000" fill-opacity="0.42"/>
<path d="M89.7 56.7h.9v.9h-.9zM93.1 55.2h.9v.9h-.9zM88.4 61.7h.9v.9h-.9zM87.2 62.5h.9v.9h-.9zM94.8 56.3h.9v.9h-.9zM96.9 55.5h.9v.9h-.9zM88.7 60.4h.9v.9h-.9zM79.3 72.6h.9v.9h-.9zM92.6 55.3h.9v.9h-.9zM97.8 52.0h.9v.9h-.9zM82.1 69.6h.9v.9h-.9zM88.8 62.6h.9v.9h-.9zM95.5 61.7h.9v.9h-.9zM92.9 58.8h.9v.9h-.9zM90.0 54.2h.9v.9h-.9zM84.5 54.5h.9v.9h-.9zM89.7 61.2h.9v.9h-.9zM92.9 56.9h.9v.9h-.9zM88.2 52.5h.9v.9h-.9zM79.7 66.6h.9v.9h-.9zM82.3 68.4h.9v.9h-.9zM91.6 53.1h.9v.9h-.9zM86.0 60.6h.9v.9h-.9zM89.4 67.2h.9v.9h-.9zM87.1 65.1h.9v.9h-.9zM88.4 56.2h.9v.9h-.9zM96.4 54.9h.9v.9h-.9zM90.2 61.1h.9v.9h-.9zM90.3 62.7h.9v.9h-.9zM82.0 66.3h.9v.9h-.9zM91.9 59.8h.9v.9h-.9zM85.7 70.5h.9v.9h-.9zM87.0 64.5h.9v.9h-.9zM77.3 54.8h.9v.9h-.9zM89.2 58.2h.9v.9h-.9zM94.2 60.8h.9v.9h-.9zM93.9 59.3h.9v.9h-.9zM87.2 60.3h.9v.9h-.9zM75.7 68.5h.9v.9h-.9zM88.3 63.8h.9v.9h-.9zM90.6 56.5h.9v.9h-.9zM97.9 59.6h.9v.9h-.9zM83.1 67.7h.9v.9h-.9zM91.5 68.2h.9v.9h-.9zM84.9 58.1h.9v.9h-.9zM91.9 56.5h.9v.9h-.9zM98.3 62.4h.9v.9h-.9zM81.3 65.1h.9v.9h-.9zM85.3 64.0h.9v.9h-.9zM82.3 68.3h.9v.9h-.9zM82.2 70.1h.9v.9h-.9zM95.3 56.3h.9v.9h-.9zM94.1 61.2h.9v.9h-.9zM98.3 51.5h.9v.9h-.9zM95.1 55.9h.9v.9h-.9zM95.1 61.4h.9v.9h-.9zM92.1 68.5h.9v.9h-.9zM94.6 60.0h.9v.9h-.9zM94.0 60.0h.9v.9h-.9zM88.6 60.9h.9v.9h-.9zM97.0 49.0h.9v.9h-.9zM90.0 66.3h.9v.9h-.9zM84.5 58.9h.9v.9h-.9zM87.4 62.3h.9v.9h-.9zM89.6 57.6h.9v.9h-.9zM83.1 73.3h.9v.9h-.9zM99.7 53.1h.9v.9h-.9zM93.5 52.0h.9v.9h-.9zM93.7 57.7h.9v.9h-.9zM90.3 53.7h.9v.9h-.9zM88.3 56.1h.9v.9h-.9zM90.3 55.6h.9v.9h-.9zM95.6 57.6h.9v.9h-.9zM89.3 68.8h.9v.9h-.9zM92.8 55.6h.9v.9h-.9zM91.2 53.8h.9v.9h-.9zM91.5 57.9h.9v.9h-.9zM90.8 68.6h.9v.9h-.9zM83.9 58.9h.9v.9h-.9zM90.9 60.1h.9v.9h-.9zM94.2 54.8h.9v.9h-.9zM89.3 57.4h.9v.9h-.9zM96.6 55.2h.9v.9h-.9zM95.9 55.4h.9v.9h-.9zM85.3 63.6h.9v.9h-.9zM99.6 52.6h.9v.9h-.9zM89.3 56.2h.9v.9h-.9zM89.3 57.3h.9v.9h-.9zM87.6 62.5h.9v.9h-.9zM91.9 60.7h.9v.9h-.9zM92.6 61.3h.9v.9h-.9zM93.1 59.9h.9v.9h-.9zM85.9 59.6h.9v.9h-.9zM99.1 55.8h.9v.9h-.9zM90.3 57.7h.9v.9h-.9zM89.4 62.8h.9v.9h-.9zM95.6 57.2h.9v.9h-.9zM93.9 56.2h.9v.9h-.9zM92.9 59.8h.9v.9h-.9zM92.7 62.0h.9v.9h-.9zM92.3 52.4h.9v.9h-.9zM90.6 59.8h.9v.9h-.9zM94.5 58.3h.9v.9h-.9zM79.8 63.6h.9v.9h-.9zM86.2 62.8h.9v.9h-.9zM92.2 56.7h.9v.9h-.9zM94.7 60.8h.9v.9h-.9zM84.4 67.5h.9v.9h-.9zM88.5 52.2h.9v.9h-.9zM77.4 64.0h.9v.9h-.9zM93.5 57.1h.9v.9h-.9zM86.1 65.0h.9v.9h-.9zM92.0 59.8h.9v.9h-.9zM94.7 57.5h.9v.9h-.9zM93.7 64.4h.9v.9h-.9zM94.4 55.7h.9v.9h-.9zM89.8 59.6h.9v.9h-.9zM89.8 45.2h.9v.9h-.9zM88.4 66.2h.9v.9h-.9zM87.3 61.4h.9v.9h-.9zM87.0 64.6h.9v.9h-.9zM89.9 55.9h.9v.9h-.9zM90.3 53.9h.9v.9h-.9zM88.4 69.0h.9v.9h-.9zM93.3 49.0h.9v.9h-.9zM93.3 57.2h.9v.9h-.9zM94.3 58.8h.9v.9h-.9zM99.9 58.2h.9v.9h-.9zM87.6 61.8h.9v.9h-.9zM90.3 61.1h.9v.9h-.9zM82.8 68.0h.9v.9h-.9zM81.5 64.6h.9v.9h-.9zM86.2 59.3h.9v.9h-.9zM85.4 61.2h.9v.9h-.9zM82.0 72.7h.9v.9h-.9zM95.0 56.8h.9v.9h-.9zM87.0 65.4h.9v.9h-.9zM87.2 64.6h.9v.9h-.9zM92.6 53.3h.9v.9h-.9zM93.7 60.5h.9v.9h-.9zM99.1 54.1h.9v.9h-.9zM90.7 59.8h.9v.9h-.9zM87.5 65.9h.9v.9h-.9zM91.8 59.9h.9v.9h-.9zM91.5 64.9h.9v.9h-.9zM87.1 62.7h.9v.9h-.9zM88.2 58.6h.9v.9h-.9zM92.6 50.7h.9v.9h-.9zM92.2 66.5h.9v.9h-.9zM86.2 56.7h.9v.9h-.9zM85.5 67.7h.9v.9h-.9zM86.7 61.9h.9v.9h-.9zM93.0 56.4h.9v.9h-.9zM92.7 57.1h.9v.9h-.9zM93.6 62.0h.9v.9h-.9zM87.5 63.7h.9v.9h-.9zM85.3 64.6h.9v.9h-.9zM97.0 57.7h.9v.9h-.9zM83.2 63.4h.9v.9h-.9zM88.7 56.8h.9v.9h-.9zM89.6 59.9h.9v.9h-.9zM97.6 54.8h.9v.9h-.9zM91.3 52.5h.9v.9h-.9zM85.9 66.7h.9v.9h-.9zM81.1 65.4h.9v.9h-.9zM86.5 62.7h.9v.9h-.9zM87.7 69.1h.9v.9h-.9zM87.1 61.2h.9v.9h-.9zM81.8 65.9h.9v.9h-.9zM89.4 52.8h.9v.9h-.9zM89.7 57.4h.9v.9h-.9zM87.7 59.7h.9v.9h-.9zM83.1 63.8h.9v.9h-.9zM87.7 56.1h.9v.9h-.9zM85.4 60.5h.9v.9h-.9zM92.3 62.7h.9v.9h-.9zM103.6 51.3h.9v.9h-.9zM94.7 53.4h.9v.9h-.9zM97.9 52.6h.9v.9h-.9zM92.1 61.4h.9v.9h-.9zM99.0 57.7h.9v.9h-.9zM95.3 58.8h.9v.9h-.9zM97.3 55.7h.9v.9h-.9zM98.2 53.8h.9v.9h-.9zM88.4 72.7h.9v.9h-.9zM90.2 52.7h.9v.9h-.9zM90.0 55.3h.9v.9h-.9zM93.5 66.9h.9v.9h-.9zM83.8 61.4h.9v.9h-.9zM95.0 49.2h.9v.9h-.9zM88.1 55.9h.9v.9h-.9zM84.9 62.4h.9v.9h-.9zM89.1 59.8h.9v.9h-.9zM87.8 56.2h.9v.9h-.9zM85.6 60.7h.9v.9h-.9zM92.5 63.8h.9v.9h-.9zM93.2 54.8h.9v.9h-.9zM81.9 55.8h.9v.9h-.9zM95.4 59.7h.9v.9h-.9zM85.2 68.0h.9v.9h-.9zM90.5 56.3h.9v.9h-.9zM81.1 63.9h.9v.9h-.9zM84.3 65.2h.9v.9h-.9zM92.5 55.0h.9v.9h-.9zM91.1 51.2h.9v.9h-.9zM87.6 55.0h.9v.9h-.9zM97.9 49.8h.9v.9h-.9zM94.7 56.8h.9v.9h-.9zM94.6 61.0h.9v.9h-.9zM89.9 62.6h.9v.9h-.9zM89.4 56.2h.9v.9h-.9zM93.9 56.6h.9v.9h-.9zM93.5 64.2h.9v.9h-.9zM94.9 51.5h.9v.9h-.9zM98.5 54.2h.9v.9h-.9zM80.2 66.1h.9v.9h-.9zM89.8 60.4h.9v.9h-.9zM87.1 66.9h.9v.9h-.9zM91.9 56.2h.9v.9h-.9zM83.5 58.2h.9v.9h-.9zM93.6 54.8h.9v.9h-.9zM89.6 65.0h.9v.9h-.9zM82.4 66.6h.9v.9h-.9zM80.4 75.3h.9v.9h-.9zM85.3 63.1h.9v.9h-.9zM91.3 60.1h.9v.9h-.9zM87.4 62.3h.9v.9h-.9zM86.2 60.9h.9v.9h-.9zM89.4 56.3h.9v.9h-.9zM88.5 62.3h.9v.9h-.9zM93.0 56.5h.9v.9h-.9zM93.4 58.2h.9v.9h-.9zM95.6 59.9h.9v.9h-.9zM95.0 53.1h.9v.9h-.9zM91.5 65.7h.9v.9h-.9zM94.6 53.7h.9v.9h-.9zM88.1 59.4h.9v.9h-.9zM85.1 68.4h.9v.9h-.9zM89.1 65.0h.9v.9h-.9zM95.6 51.8h.9v.9h-.9zM94.8 61.1h.9v.9h-.9zM83.2 62.3h.9v.9h-.9zM89.0 61.1h.9v.9h-.9zM95.8 54.0h.9v.9h-.9zM89.1 57.4h.9v.9h-.9zM84.9 62.9h.9v.9h-.9zM95.9 56.6h.9v.9h-.9zM82.5 67.2h.9v.9h-.9zM91.1 52.8h.9v.9h-.9zM91.7 55.2h.9v.9h-.9zM85.2 65.0h.9v.9h-.9zM95.4 61.0h.9v.9h-.9zM91.1 59.4h.9v.9h-.9zM92.6 54.3h.9v.9h-.9zM89.4 63.6h.9v.9h-.9zM91.7 56.4h.9v.9h-.9zM97.2 52.4h.9v.9h-.9zM97.5 54.4h.9v.9h-.9zM92.7 59.1h.9v.9h-.9zM89.0 67.9h.9v.9h-.9zM95.5 61.3h.9v.9h-.9zM94.1 55.7h.9v.9h-.9zM82.3 70.5h.9v.9h-.9zM91.2 53.0h.9v.9h-.9zM92.3 59.1h.9v.9h-.9zM91.2 60.9h.9v.9h-.9zM85.5 61.3h.9v.9h-.9zM89.1 51.6h.9v.9h-.9zM88.1 51.8h.9v.9h-.9zM96.3 59.5h.9v.9h-.9zM100.6 57.0h.9v.9h-.9zM87.1 59.0h.9v.9h-.9zM95.0 56.8h.9v.9h-.9zM93.7 55.8h.9v.9h-.9zM77.1 69.7h.9v.9h-.9zM90.4 57.9h.9v.9h-.9zM80.2 68.5h.9v.9h-.9zM81.7 70.2h.9v.9h-.9zM96.0 55.7h.9v.9h-.9zM89.4 58.5h.9v.9h-.9zM89.9 58.1h.9v.9h-.9zM79.6 69.9h.9v.9h-.9zM91.7 66.2h.9v.9h-.9zM90.4 56.3h.9v.9h-.9zM81.8 61.6h.9v.9h-.9zM90.3 59.6h.9v.9h-.9zM90.4 54.0h.9v.9h-.9zM87.7 58.3h.9v.9h-.9zM89.4 59.0h.9v.9h-.9zM94.4 59.2h.9v.9h-.9zM79.4 60.1h.9v.9h-.9zM93.5 57.3h.9v.9h-.9zM91.6 61.7h.9v.9h-.9zM87.9 71.1h.9v.9h-.9zM87.3 72.4h.9v.9h-.9zM90.9 55.5h.9v.9h-.9zM90.2 59.7h.9v.9h-.9zM94.4 54.0h.9v.9h-.9zM88.9 64.7h.9v.9h-.9zM92.7 53.0h.9v.9h-.9zM91.3 58.3h.9v.9h-.9zM90.2 57.0h.9v.9h-.9zM87.8 67.6h.9v.9h-.9zM94.3 61.5h.9v.9h-.9zM89.8 51.8h.9v.9h-.9zM82.6 69.9h.9v.9h-.9zM91.7 60.5h.9v.9h-.9zM97.9 54.1h.9v.9h-.9zM98.7 49.7h.9v.9h-.9zM89.1 59.7h.9v.9h-.9zM94.1 52.1h.9v.9h-.9zM96.7 55.4h.9v.9h-.9zM83.8 64.3h.9v.9h-.9zM89.2 62.5h.9v.9h-.9zM80.0 64.3h.9v.9h-.9zM90.6 70.6h.9v.9h-.9zM89.4 62.6h.9v.9h-.9zM90.4 63.3h.9v.9h-.9zM94.1 58.5h.9v.9h-.9zM90.2 53.7h.9v.9h-.9zM92.2 54.6h.9v.9h-.9zM81.7 66.6h.9v.9h-.9zM91.7 50.7h.9v.9h-.9zM93.6 58.8h.9v.9h-.9zM94.0 61.8h.9v.9h-.9zM90.2 66.5h.9v.9h-.9zM92.4 60.5h.9v.9h-.9zM90.3 56.6h.9v.9h-.9zM97.7 56.6h.9v.9h-.9zM81.9 65.4h.9v.9h-.9zM89.8 67.7h.9v.9h-.9zM88.1 57.5h.9v.9h-.9zM90.7 55.5h.9v.9h-.9zM88.3 61.9h.9v.9h-.9zM87.9 59.2h.9v.9h-.9zM93.0 53.4h.9v.9h-.9zM94.7 60.3h.9v.9h-.9zM78.1 63.4h.9v.9h-.9zM91.0 60.7h.9v.9h-.9zM90.7 60.6h.9v.9h-.9zM93.8 54.2h.9v.9h-.9zM94.0 60.2h.9v.9h-.9zM97.0 53.6h.9v.9h-.9zM90.3 54.0h.9v.9h-.9zM90.6 64.1h.9v.9h-.9zM97.4 60.8h.9v.9h-.9zM91.0 61.0h.9v.9h-.9zM89.8 63.2h.9v.9h-.9zM87.7 56.9h.9v.9h-.9zM83.6 59.0h.9v.9h-.9zM94.1 66.3h.9v.9h-.9zM84.7 57.0h.9v.9h-.9zM83.2 61.3h.9v.9h-.9zM89.7 54.8h.9v.9h-.9zM94.5 57.0h.9v.9h-.9zM91.0 56.3h.9v.9h-.9zM81.7 66.3h.9v.9h-.9zM96.2 59.5h.9v.9h-.9zM84.0 55.3h.9v.9h-.9zM97.4 51.2h.9v.9h-.9zM86.8 61.8h.9v.9h-.9zM86.1 61.9h.9v.9h-.9zM97.7 51.5h.9v.9h-.9zM95.0 61.9h.9v.9h-.9zM99.3 56.3h.9v.9h-.9zM96.7 64.0h.9v.9h-.9zM87.0 62.9h.9v.9h-.9zM98.4 67.5h.9v.9h-.9zM100.6 54.0h.9v.9h-.9zM82.3 65.5h.9v.9h-.9zM84.2 64.2h.9v.9h-.9zM86.3 59.8h.9v.9h-.9zM86.1 65.8h.9v.9h-.9zM93.5 57.8h.9v.9h-.9zM92.8 56.8h.9v.9h-.9zM89.5 57.5h.9v.9h-.9zM89.1 62.6h.9v.9h-.9zM96.5 61.5h.9v.9h-.9zM76.0 63.0h.9v.9h-.9zM84.4 60.7h.9v.9h-.9zM90.2 58.1h.9v.9h-.9zM83.0 62.3h.9v.9h-.9zM84.3 63.9h.9v.9h-.9zM100.9 49.0h.9v.9h-.9zM87.2 60.3h.9v.9h-.9zM99.9 51.1h.9v.9h-.9zM91.2 64.1h.9v.9h-.9zM93.6 51.5h.9v.9h-.9zM98.7 58.8h.9v.9h-.9zM96.4 50.6h.9v.9h-.9zM91.4 59.5h.9v.9h-.9zM86.6 71.5h.9v.9h-.9zM85.9 59.6h.9v.9h-.9zM86.8 61.6h.9v.9h-.9zM89.6 58.8h.9v.9h-.9zM91.6 55.5h.9v.9h-.9zM84.1 54.8h.9v.9h-.9zM83.4 70.9h.9v.9h-.9zM90.9 57.3h.9v.9h-.9zM83.6 62.0h.9v.9h-.9zM93.6 58.8h.9v.9h-.9zM90.2 61.1h.9v.9h-.9zM88.4 54.8h.9v.9h-.9zM88.8 62.0h.9v.9h-.9zM87.4 64.0h.9v.9h-.9zM82.9 64.0h.9v.9h-.9zM89.9 61.9h.9v.9h-.9zM88.7 64.7h.9v.9h-.9zM94.0 53.8h.9v.9h-.9zM89.2 63.6h.9v.9h-.9zM86.8 64.7h.9v.9h-.9zM92.7 61.4h.9v.9h-.9zM97.3 57.9h.9v.9h-.9zM98.6 63.9h.9v.9h-.9zM92.0 57.4h.9v.9h-.9zM91.9 61.3h.9v.9h-.9zM95.3 55.7h.9v.9h-.9zM88.5 62.5h.9v.9h-.9zM89.3 53.2h.9v.9h-.9zM86.8 72.6h.9v.9h-.9zM95.1 58.5h.9v.9h-.9zM79.1 66.7h.9v.9h-.9zM95.1 54.7h.9v.9h-.9zM92.5 64.2h.9v.9h-.9zM91.4 54.2h.9v.9h-.9zM95.3 59.6h.9v.9h-.9zM90.2 59.4h.9v.9h-.9zM90.2 63.1h.9v.9h-.9zM83.9 62.2h.9v.9h-.9zM93.7 57.8h.9v.9h-.9zM87.3 70.2h.9v.9h-.9zM93.2 65.2h.9v.9h-.9zM95.1 53.3h.9v.9h-.9zM83.4 58.6h.9v.9h-.9zM87.2 57.9h.9v.9h-.9zM87.1 69.0h.9v.9h-.9zM93.3 57.4h.9v.9h-.9zM78.8 69.3h.9v.9h-.9zM95.6 55.0h.9v.9h-.9zM91.0 52.0h.9v.9h-.9zM97.3 55.5h.9v.9h-.9zM83.1 74.0h.9v.9h-.9zM92.2 57.9h.9v.9h-.9zM79.6 61.6h.9v.9h-.9zM83.5 66.4h.9v.9h-.9zM97.8 58.5h.9v.9h-.9zM89.1 64.4h.9v.9h-.9zM100.1 51.9h.9v.9h-.9zM96.7 57.9h.9v.9h-.9zM84.3 61.3h.9v.9h-.9zM94.6 58.6h.9v.9h-.9zM91.6 54.9h.9v.9h-.9zM89.4 54.4h.9v.9h-.9zM94.2 60.6h.9v.9h-.9zM85.7 67.8h.9v.9h-.9zM93.0 57.7h.9v.9h-.9zM91.6 59.1h.9v.9h-.9zM94.0 68.4h.9v.9h-.9zM99.6 60.2h.9v.9h-.9zM87.6 57.8h.9v.9h-.9zM87.4 59.4h.9v.9h-.9zM87.8 62.4h.9v.9h-.9zM90.1 53.4h.9v.9h-.9zM95.3 55.2h.9v.9h-.9zM100.8 55.6h.9v.9h-.9zM88.0 55.2h.9v.9h-.9zM89.2 65.5h.9v.9h-.9zM87.4 67.1h.9v.9h-.9zM93.7 54.0h.9v.9h-.9zM93.5 52.2h.9v.9h-.9zM92.5 56.2h.9v.9h-.9zM93.8 54.0h.9v.9h-.9zM82.0 62.1h.9v.9h-.9zM87.6 64.3h.9v.9h-.9zM88.4 60.2h.9v.9h-.9zM89.9 58.3h.9v.9h-.9z" fill="#000" fill-opacity="0.6"/>
<path d="M91.0 62.7h.9v.9h-.9zM64.9 61.2h.9v.9h-.9zM92.5 64.1h.9v.9h-.9zM78.3 49.3h.9v.9h-.9zM89.6 63.9h.9v.9h-.9zM82.5 47.0h.9v.9h-.9zM70.0 58.1h.9v.9h-.9zM75.5 50.7h.9v.9h-.9zM85.5 64.2h.9v.9h-.9zM65.8 50.8h.9v.9h-.9zM92.2 55.7h.9v.9h-.9zM79.3 61.0h.9v.9h-.9zM73.1 46.4h.9v.9h-.9zM82.2 68.2h.9v.9h-.9zM90.0 56.0h.9v.9h-.9zM89.9 52.8h.9v.9h-.9zM72.7 42.9h.9v.9h-.9zM84.1 63.1h.9v.9h-.9zM84.9 55.7h.9v.9h-.9zM78.9 64.5h.9v.9h-.9zM81.6 44.7h.9v.9h-.9zM92.8 50.9h.9v.9h-.9zM85.1 56.0h.9v.9h-.9zM90.3 57.9h.9v.9h-.9zM91.6 57.7h.9v.9h-.9zM78.4 52.0h.9v.9h-.9zM87.1 49.5h.9v.9h-.9zM89.3 54.1h.9v.9h-.9zM74.7 49.2h.9v.9h-.9zM80.9 69.9h.9v.9h-.9zM88.1 56.2h.9v.9h-.9zM74.9 70.9h.9v.9h-.9zM79.8 56.0h.9v.9h-.9zM78.7 66.5h.9v.9h-.9zM83.4 52.4h.9v.9h-.9zM83.5 48.2h.9v.9h-.9zM73.7 54.7h.9v.9h-.9zM59.4 65.2h.9v.9h-.9zM97.6 47.3h.9v.9h-.9zM80.9 43.6h.9v.9h-.9zM83.4 57.7h.9v.9h-.9zM87.8 45.5h.9v.9h-.9zM77.3 50.9h.9v.9h-.9zM80.1 73.9h.9v.9h-.9zM80.4 55.7h.9v.9h-.9zM78.0 62.2h.9v.9h-.9zM102.1 65.1h.9v.9h-.9zM94.0 47.6h.9v.9h-.9zM90.3 56.2h.9v.9h-.9zM91.8 64.3h.9v.9h-.9zM87.1 42.9h.9v.9h-.9zM83.1 52.1h.9v.9h-.9zM85.5 56.3h.9v.9h-.9zM90.2 43.4h.9v.9h-.9zM76.2 55.4h.9v.9h-.9zM84.5 52.8h.9v.9h-.9zM81.8 56.4h.9v.9h-.9zM90.2 55.1h.9v.9h-.9zM83.9 41.7h.9v.9h-.9zM61.4 44.5h.9v.9h-.9zM84.8 37.9h.9v.9h-.9zM85.2 55.2h.9v.9h-.9zM82.0 50.3h.9v.9h-.9zM78.7 62.5h.9v.9h-.9zM84.8 55.8h.9v.9h-.9zM78.2 57.7h.9v.9h-.9zM91.4 55.8h.9v.9h-.9zM79.1 46.7h.9v.9h-.9zM82.8 48.8h.9v.9h-.9zM70.7 62.8h.9v.9h-.9zM77.1 40.0h.9v.9h-.9zM76.3 70.5h.9v.9h-.9zM81.2 45.6h.9v.9h-.9zM73.3 61.6h.9v.9h-.9zM85.2 57.7h.9v.9h-.9zM80.5 59.8h.9v.9h-.9zM94.1 59.8h.9v.9h-.9zM80.7 45.0h.9v.9h-.9zM85.5 68.3h.9v.9h-.9zM87.1 46.1h.9v.9h-.9zM83.5 66.2h.9v.9h-.9zM77.0 59.9h.9v.9h-.9zM91.5 68.9h.9v.9h-.9zM69.5 42.3h.9v.9h-.9zM84.9 61.5h.9v.9h-.9zM79.2 55.8h.9v.9h-.9zM78.8 65.4h.9v.9h-.9zM64.6 58.0h.9v.9h-.9zM71.9 50.7h.9v.9h-.9zM69.9 48.8h.9v.9h-.9zM81.8 56.2h.9v.9h-.9zM96.1 54.3h.9v.9h-.9zM84.7 58.8h.9v.9h-.9zM84.0 67.5h.9v.9h-.9zM83.1 57.2h.9v.9h-.9zM81.1 56.0h.9v.9h-.9zM81.6 63.8h.9v.9h-.9zM82.2 56.5h.9v.9h-.9zM81.6 62.0h.9v.9h-.9zM78.3 63.4h.9v.9h-.9zM77.5 61.5h.9v.9h-.9zM97.1 57.8h.9v.9h-.9zM81.3 46.7h.9v.9h-.9zM87.8 56.1h.9v.9h-.9zM89.2 50.8h.9v.9h-.9zM86.1 70.2h.9v.9h-.9zM85.2 53.4h.9v.9h-.9zM71.7 55.9h.9v.9h-.9zM87.2 60.7h.9v.9h-.9zM73.2 47.9h.9v.9h-.9zM74.3 48.0h.9v.9h-.9zM79.8 58.1h.9v.9h-.9zM97.2 57.5h.9v.9h-.9zM93.5 43.0h.9v.9h-.9zM94.2 62.3h.9v.9h-.9zM85.5 62.5h.9v.9h-.9zM86.9 71.1h.9v.9h-.9zM88.4 42.3h.9v.9h-.9zM68.2 68.7h.9v.9h-.9zM81.3 66.4h.9v.9h-.9zM79.3 50.8h.9v.9h-.9zM79.3 58.5h.9v.9h-.9zM83.5 51.1h.9v.9h-.9zM86.2 60.9h.9v.9h-.9zM74.8 47.2h.9v.9h-.9zM66.5 53.6h.9v.9h-.9zM82.1 50.5h.9v.9h-.9zM77.2 54.9h.9v.9h-.9zM82.2 60.5h.9v.9h-.9zM88.6 59.5h.9v.9h-.9zM90.8 48.4h.9v.9h-.9zM86.8 58.9h.9v.9h-.9zM73.8 50.7h.9v.9h-.9zM85.5 56.6h.9v.9h-.9zM72.1 51.6h.9v.9h-.9zM94.1 62.7h.9v.9h-.9zM82.6 66.7h.9v.9h-.9zM74.8 54.6h.9v.9h-.9zM89.6 53.3h.9v.9h-.9zM73.2 60.6h.9v.9h-.9zM94.7 36.0h.9v.9h-.9zM83.2 46.1h.9v.9h-.9zM79.6 44.8h.9v.9h-.9zM102.6 50.6h.9v.9h-.9zM82.4 50.4h.9v.9h-.9zM74.2 52.4h.9v.9h-.9zM83.6 69.9h.9v.9h-.9zM84.3 68.4h.9v.9h-.9zM73.6 56.6h.9v.9h-.9zM78.5 43.6h.9v.9h-.9zM111.5 54.1h.9v.9h-.9zM83.9 50.0h.9v.9h-.9zM77.4 47.8h.9v.9h-.9zM90.1 52.8h.9v.9h-.9zM80.9 57.4h.9v.9h-.9zM72.3 57.8h.9v.9h-.9zM80.6 59.5h.9v.9h-.9zM79.0 56.3h.9v.9h-.9zM86.1 63.6h.9v.9h-.9zM76.6 63.7h.9v.9h-.9zM74.2 54.5h.9v.9h-.9zM83.0 57.1h.9v.9h-.9zM62.3 48.3h.9v.9h-.9zM80.5 63.3h.9v.9h-.9zM76.4 67.9h.9v.9h-.9zM67.7 56.6h.9v.9h-.9zM86.3 56.1h.9v.9h-.9zM84.1 63.4h.9v.9h-.9zM75.6 60.7h.9v.9h-.9zM90.4 54.2h.9v.9h-.9zM63.7 46.6h.9v.9h-.9zM75.2 47.6h.9v.9h-.9zM85.4 49.6h.9v.9h-.9zM101.6 60.5h.9v.9h-.9zM71.7 53.7h.9v.9h-.9zM94.1 61.4h.9v.9h-.9zM73.9 64.2h.9v.9h-.9zM78.2 73.5h.9v.9h-.9zM77.6 60.7h.9v.9h-.9zM86.5 52.5h.9v.9h-.9zM80.8 65.2h.9v.9h-.9zM85.9 55.5h.9v.9h-.9zM85.5 69.8h.9v.9h-.9zM89.4 59.8h.9v.9h-.9zM84.6 43.6h.9v.9h-.9zM83.1 52.2h.9v.9h-.9zM87.8 51.2h.9v.9h-.9zM85.5 47.7h.9v.9h-.9zM89.1 50.2h.9v.9h-.9zM81.8 60.6h.9v.9h-.9zM79.4 56.1h.9v.9h-.9zM90.4 70.0h.9v.9h-.9zM67.7 48.9h.9v.9h-.9zM87.3 63.4h.9v.9h-.9zM78.3 56.7h.9v.9h-.9zM80.5 74.0h.9v.9h-.9zM80.4 46.6h.9v.9h-.9zM69.7 45.9h.9v.9h-.9zM92.3 52.9h.9v.9h-.9zM97.4 61.0h.9v.9h-.9z" fill="#000" fill-opacity="0.3"/>
<path d="M91.7 69.6h.9v.9h-.9zM97.7 73.6h.9v.9h-.9zM71.5 51.7h.9v.9h-.9zM77.9 61.5h.9v.9h-.9zM82.3 41.7h.9v.9h-.9zM75.7 86.5h.9v.9h-.9zM117.5 47.3h.9v.9h-.9zM91.6 59.5h.9v.9h-.9zM73.5 70.6h.9v.9h-.9zM85.0 84.7h.9v.9h-.9zM92.8 55.4h.9v.9h-.9zM98.6 49.4h.9v.9h-.9zM99.1 70.1h.9v.9h-.9zM59.8 57.1h.9v.9h-.9zM90.8 71.2h.9v.9h-.9zM88.3 59.8h.9v.9h-.9zM80.9 55.7h.9v.9h-.9zM86.1 44.3h.9v.9h-.9zM95.5 55.2h.9v.9h-.9zM93.7 52.5h.9v.9h-.9zM92.1 61.9h.9v.9h-.9zM99.2 66.8h.9v.9h-.9zM99.8 57.5h.9v.9h-.9zM85.2 56.1h.9v.9h-.9zM67.4 58.1h.9v.9h-.9zM102.1 71.4h.9v.9h-.9zM73.4 64.4h.9v.9h-.9zM97.1 39.9h.9v.9h-.9zM91.2 64.9h.9v.9h-.9zM97.1 63.8h.9v.9h-.9zM60.2 30.2h.9v.9h-.9zM115.4 54.2h.9v.9h-.9zM104.9 78.7h.9v.9h-.9zM87.3 43.1h.9v.9h-.9zM106.3 59.5h.9v.9h-.9zM93.7 67.1h.9v.9h-.9zM100.1 75.0h.9v.9h-.9zM64.9 39.2h.9v.9h-.9zM88.1 60.1h.9v.9h-.9zM97.5 58.0h.9v.9h-.9zM83.3 90.0h.9v.9h-.9zM106.4 77.1h.9v.9h-.9zM101.4 48.3h.9v.9h-.9zM84.7 59.0h.9v.9h-.9zM69.8 47.2h.9v.9h-.9zM88.4 42.1h.9v.9h-.9zM94.0 67.0h.9v.9h-.9zM82.5 55.0h.9v.9h-.9zM94.9 67.1h.9v.9h-.9zM91.4 41.9h.9v.9h-.9zM62.0 90.3h.9v.9h-.9zM76.3 54.6h.9v.9h-.9zM59.0 48.2h.9v.9h-.9zM75.1 71.8h.9v.9h-.9zM79.9 52.7h.9v.9h-.9zM74.5 53.5h.9v.9h-.9zM62.6 63.9h.9v.9h-.9zM103.7 62.3h.9v.9h-.9zM78.1 78.7h.9v.9h-.9zM93.2 44.8h.9v.9h-.9zM77.5 51.0h.9v.9h-.9zM85.3 77.9h.9v.9h-.9zM75.6 57.8h.9v.9h-.9zM87.7 42.4h.9v.9h-.9zM78.9 69.0h.9v.9h-.9zM102.8 32.4h.9v.9h-.9zM96.5 55.7h.9v.9h-.9zM105.1 69.2h.9v.9h-.9zM115.2 64.6h.9v.9h-.9zM80.1 47.7h.9v.9h-.9zM64.8 68.2h.9v.9h-.9zM93.6 72.1h.9v.9h-.9zM91.2 37.9h.9v.9h-.9zM80.0 56.4h.9v.9h-.9zM88.4 71.3h.9v.9h-.9zM107.0 64.2h.9v.9h-.9zM55.4 45.0h.9v.9h-.9zM54.4 48.7h.9v.9h-.9zM68.2 63.5h.9v.9h-.9zM82.7 76.4h.9v.9h-.9zM102.0 53.3h.9v.9h-.9zM100.0 60.2h.9v.9h-.9zM92.8 79.8h.9v.9h-.9zM69.0 59.0h.9v.9h-.9zM108.8 48.8h.9v.9h-.9zM89.2 62.0h.9v.9h-.9zM79.8 40.7h.9v.9h-.9zM75.8 45.5h.9v.9h-.9zM102.0 63.7h.9v.9h-.9zM96.4 42.5h.9v.9h-.9zM93.4 62.1h.9v.9h-.9zM101.5 49.4h.9v.9h-.9zM98.0 80.2h.9v.9h-.9zM112.7 46.3h.9v.9h-.9zM69.4 38.5h.9v.9h-.9zM100.3 68.8h.9v.9h-.9zM91.1 47.3h.9v.9h-.9zM104.6 83.6h.9v.9h-.9z" fill="#000" fill-opacity="0.25"/>
<line x1="77.7" y1="15.7" x2="77.7" y2="102.4" stroke="#222" stroke-width="0.9"/>
<line x1="48.5" y1="71.9" x2="145.8" y2="71.9" stroke="#222" stroke-width="0.9"/>
<rect x="48.5" y="15.7" width="97.30000000000001" height="86.7" fill="none" stroke="#000" stroke-width="1.6"/>
<rect x="89.4" y="27.2" width="37" height="34.2" fill="none" stroke="#222" stroke-width="1.1"/>
<text x="144.4" y="25.3" font-size="10.6" font-weight="bold" text-anchor="end" fill="#000" stroke="#000" stroke-width="0.2">86.8</text>
<text x="94.2" y="11.6" font-size="14" text-anchor="middle" fill="#000" stroke="#000" stroke-width="0.35">Pre-Sort</text>
<path d="M36.7 53.3V37.400000000000006" stroke="#000" stroke-width="2.0" fill="none"/>
<path d="M32.6 43.800000000000004L36.7 37.0L40.800000000000004 43.800000000000004" stroke="#000" stroke-width="2.0" fill="none" stroke-linejoin="miter" stroke-miterlimit="10"/>
<text x="39.8" y="77.5" font-size="10" font-weight="bold" text-anchor="middle" fill="#000" transform="rotate(-90 39.8 77.5)" stroke="#000" stroke-width="0.2">SSEA3</text>
<path d="M37 101.2V111.6H52.6" stroke="#000" stroke-width="1.5" fill="none"/>
<text x="80.2" y="118.7" font-size="10.5" font-weight="bold" text-anchor="middle" fill="#000" stroke="#000" stroke-width="0.2">TRA-1-81</text>
<path d="M109.5 111.5H126.39999999999999" stroke="#000" stroke-width="2.1" fill="none"/>
<path d="M119.3 107.4L126.8 111.5L119.3 115.6" stroke="#000" stroke-width="2.1" fill="none" stroke-linejoin="miter" stroke-miterlimit="10"/>
<path d="M160 63.6H190.20000000000002" stroke="#000" stroke-width="2.1" fill="none"/>
<path d="M183.1 59.5L190.6 63.6L183.1 67.7" stroke="#000" stroke-width="2.1" fill="none" stroke-linejoin="miter" stroke-miterlimit="10"/>
<path d="M272.3 50.4h.9v.9h-.9zM278.1 53.4h.9v.9h-.9zM278.9 49.1h.9v.9h-.9zM274.1 49.4h.9v.9h-.9zM269.8 49.6h.9v.9h-.9zM271.2 53.4h.9v.9h-.9zM271.1 51.3h.9v.9h-.9zM268.7 45.2h.9v.9h-.9zM279.3 46.4h.9v.9h-.9zM281.1 55.4h.9v.9h-.9zM261.6 48.0h.9v.9h-.9zM270.5 51.1h.9v.9h-.9zM271.7 48.2h.9v.9h-.9zM278.4 50.4h.9v.9h-.9zM277.1 47.8h.9v.9h-.9zM269.2 57.3h.9v.9h-.9zM271.2 45.8h.9v.9h-.9zM271.7 55.9h.9v.9h-.9zM271.7 47.6h.9v.9h-.9zM275.5 55.6h.9v.9h-.9zM271.5 49.5h.9v.9h-.9zM270.8 63.7h.9v.9h-.9zM271.6 59.2h.9v.9h-.9zM271.8 52.9h.9v.9h-.9zM262.8 51.8h.9v.9h-.9zM272.8 49.5h.9v.9h-.9zM270.6 44.6h.9v.9h-.9zM265.4 51.8h.9v.9h-.9zM269.5 50.6h.9v.9h-.9zM271.7 48.6h.9v.9h-.9zM269.1 59.7h.9v.9h-.9zM267.3 48.6h.9v.9h-.9zM271.1 45.6h.9v.9h-.9zM268.0 55.1h.9v.9h-.9zM276.9 51.6h.9v.9h-.9zM287.9 54.9h.9v.9h-.9zM278.4 47.2h.9v.9h-.9zM277.6 58.9h.9v.9h-.9zM270.7 59.5h.9v.9h-.9zM268.7 45.7h.9v.9h-.9zM272.3 47.2h.9v.9h-.9zM275.5 45.8h.9v.9h-.9zM272.9 41.8h.9v.9h-.9zM272.4 55.9h.9v.9h-.9zM271.3 52.5h.9v.9h-.9zM277.7 45.9h.9v.9h-.9zM266.5 51.4h.9v.9h-.9zM273.8 49.7h.9v.9h-.9zM267.9 56.7h.9v.9h-.9zM267.0 49.8h.9v.9h-.9zM272.3 54.4h.9v.9h-.9zM270.4 47.2h.9v.9h-.9zM282.1 47.0h.9v.9h-.9zM276.3 50.3h.9v.9h-.9zM270.3 50.8h.9v.9h-.9zM271.3 52.5h.9v.9h-.9zM260.5 50.9h.9v.9h-.9zM272.9 46.4h.9v.9h-.9zM270.7 62.0h.9v.9h-.9zM281.3 54.0h.9v.9h-.9zM273.6 49.6h.9v.9h-.9zM279.1 48.9h.9v.9h-.9zM268.6 54.2h.9v.9h-.9zM267.9 47.3h.9v.9h-.9zM279.4 43.5h.9v.9h-.9zM272.2 51.6h.9v.9h-.9zM273.7 44.2h.9v.9h-.9zM271.4 49.4h.9v.9h-.9zM281.6 55.7h.9v.9h-.9zM268.9 55.1h.9v.9h-.9zM275.6 50.5h.9v.9h-.9zM271.4 49.7h.9v.9h-.9zM265.2 48.1h.9v.9h-.9zM277.0 57.8h.9v.9h-.9zM281.3 49.2h.9v.9h-.9zM275.4 39.7h.9v.9h-.9zM271.2 45.1h.9v.9h-.9zM276.4 43.2h.9v.9h-.9zM267.6 45.8h.9v.9h-.9zM274.4 54.9h.9v.9h-.9zM268.2 59.5h.9v.9h-.9zM273.3 47.1h.9v.9h-.9zM274.2 50.9h.9v.9h-.9zM276.5 52.6h.9v.9h-.9zM282.9 56.5h.9v.9h-.9zM269.5 54.7h.9v.9h-.9zM276.1 46.3h.9v.9h-.9zM269.0 47.2h.9v.9h-.9zM260.8 54.0h.9v.9h-.9zM271.5 56.8h.9v.9h-.9zM269.9 51.4h.9v.9h-.9zM276.0 55.5h.9v.9h-.9zM274.0 46.1h.9v.9h-.9zM283.0 55.1h.9v.9h-.9zM279.0 58.6h.9v.9h-.9zM279.2 52.9h.9v.9h-.9zM274.8 54.0h.9v.9h-.9zM265.4 54.8h.9v.9h-.9zM267.9 53.0h.9v.9h-.9zM267.7 54.4h.9v.9h-.9zM270.2 62.7h.9v.9h-.9zM273.4 53.4h.9v.9h-.9zM268.2 49.7h.9v.9h-.9zM272.3 49.7h.9v.9h-.9zM270.5 46.9h.9v.9h-.9zM276.1 49.2h.9v.9h-.9zM268.7 52.7h.9v.9h-.9zM268.7 50.2h.9v.9h-.9zM270.1 46.7h.9v.9h-.9zM271.5 47.2h.9v.9h-.9zM266.6 52.7h.9v.9h-.9zM271.1 44.2h.9v.9h-.9zM270.7 51.9h.9v.9h-.9zM274.6 52.8h.9v.9h-.9zM273.7 53.8h.9v.9h-.9zM270.2 47.3h.9v.9h-.9zM275.4 49.1h.9v.9h-.9zM272.6 54.1h.9v.9h-.9zM277.0 56.7h.9v.9h-.9zM269.3 49.3h.9v.9h-.9zM275.2 44.3h.9v.9h-.9zM266.6 53.8h.9v.9h-.9zM269.6 46.7h.9v.9h-.9zM276.3 53.5h.9v.9h-.9zM276.9 49.5h.9v.9h-.9zM271.2 49.4h.9v.9h-.9zM273.9 41.5h.9v.9h-.9zM269.3 54.3h.9v.9h-.9zM268.9 50.7h.9v.9h-.9zM273.1 53.4h.9v.9h-.9zM270.3 45.7h.9v.9h-.9zM284.3 47.7h.9v.9h-.9zM280.6 42.8h.9v.9h-.9zM273.1 50.1h.9v.9h-.9zM281.5 60.5h.9v.9h-.9zM277.2 46.3h.9v.9h-.9zM268.7 47.5h.9v.9h-.9zM270.1 52.2h.9v.9h-.9zM268.8 49.9h.9v.9h-.9zM279.5 57.7h.9v.9h-.9zM263.7 46.6h.9v.9h-.9zM270.8 57.1h.9v.9h-.9zM271.0 59.9h.9v.9h-.9zM274.3 57.7h.9v.9h-.9zM268.5 49.6h.9v.9h-.9zM277.4 53.7h.9v.9h-.9zM263.7 49.7h.9v.9h-.9zM273.4 53.9h.9v.9h-.9zM269.5 59.1h.9v.9h-.9zM273.3 57.8h.9v.9h-.9zM274.4 51.4h.9v.9h-.9zM271.0 45.6h.9v.9h-.9zM276.6 54.5h.9v.9h-.9zM277.0 49.3h.9v.9h-.9zM267.8 49.2h.9v.9h-.9zM271.1 51.0h.9v.9h-.9zM277.2 46.8h.9v.9h-.9zM270.2 54.2h.9v.9h-.9zM276.8 61.3h.9v.9h-.9zM275.0 47.1h.9v.9h-.9zM267.6 47.3h.9v.9h-.9zM272.9 52.2h.9v.9h-.9zM272.2 48.2h.9v.9h-.9zM271.7 50.6h.9v.9h-.9zM275.3 51.4h.9v.9h-.9zM268.7 45.6h.9v.9h-.9zM279.5 50.6h.9v.9h-.9zM271.7 50.9h.9v.9h-.9zM277.9 49.6h.9v.9h-.9zM273.4 49.9h.9v.9h-.9zM275.3 46.3h.9v.9h-.9zM273.5 55.8h.9v.9h-.9zM278.1 53.9h.9v.9h-.9zM273.9 58.3h.9v.9h-.9zM275.9 57.5h.9v.9h-.9zM266.9 45.9h.9v.9h-.9zM276.3 49.8h.9v.9h-.9zM270.5 46.6h.9v.9h-.9zM279.5 45.5h.9v.9h-.9zM273.1 44.5h.9v.9h-.9zM271.7 61.5h.9v.9h-.9zM284.0 48.7h.9v.9h-.9zM267.8 58.6h.9v.9h-.9zM268.5 42.7h.9v.9h-.9zM274.2 46.0h.9v.9h-.9zM265.7 56.2h.9v.9h-.9zM269.1 46.1h.9v.9h-.9zM273.4 50.1h.9v.9h-.9zM277.8 51.5h.9v.9h-.9zM280.1 56.3h.9v.9h-.9zM280.9 56.2h.9v.9h-.9zM272.9 53.5h.9v.9h-.9zM272.7 43.8h.9v.9h-.9zM267.0 54.5h.9v.9h-.9zM261.4 47.2h.9v.9h-.9zM266.5 50.7h.9v.9h-.9zM267.7 52.2h.9v.9h-.9zM271.6 48.8h.9v.9h-.9zM268.6 40.7h.9v.9h-.9zM272.9 45.0h.9v.9h-.9zM271.2 52.7h.9v.9h-.9zM277.5 54.3h.9v.9h-.9zM279.5 44.4h.9v.9h-.9zM275.7 58.3h.9v.9h-.9zM274.4 45.9h.9v.9h-.9zM274.4 48.6h.9v.9h-.9zM269.5 56.0h.9v.9h-.9zM271.7 45.8h.9v.9h-.9zM269.4 60.1h.9v.9h-.9zM268.6 54.1h.9v.9h-.9zM273.4 56.4h.9v.9h-.9zM271.3 46.6h.9v.9h-.9zM269.6 46.2h.9v.9h-.9zM284.8 51.9h.9v.9h-.9zM271.1 56.9h.9v.9h-.9zM275.7 50.2h.9v.9h-.9zM275.5 52.3h.9v.9h-.9zM277.9 58.7h.9v.9h-.9zM271.1 50.8h.9v.9h-.9zM271.7 56.7h.9v.9h-.9zM274.4 54.7h.9v.9h-.9zM276.8 48.1h.9v.9h-.9zM273.2 57.4h.9v.9h-.9zM276.9 54.8h.9v.9h-.9zM271.3 49.3h.9v.9h-.9zM268.6 49.8h.9v.9h-.9zM272.3 44.4h.9v.9h-.9zM278.0 47.5h.9v.9h-.9zM273.8 53.8h.9v.9h-.9zM270.0 42.6h.9v.9h-.9zM277.1 52.9h.9v.9h-.9zM271.4 56.3h.9v.9h-.9zM276.8 46.6h.9v.9h-.9zM272.2 42.8h.9v.9h-.9zM271.3 57.6h.9v.9h-.9zM268.6 54.8h.9v.9h-.9zM265.5 49.6h.9v.9h-.9zM277.0 59.0h.9v.9h-.9zM274.7 54.5h.9v.9h-.9zM280.6 39.7h.9v.9h-.9zM264.6 59.8h.9v.9h-.9zM284.1 53.8h.9v.9h-.9zM272.9 52.2h.9v.9h-.9zM272.7 48.2h.9v.9h-.9zM272.5 50.4h.9v.9h-.9zM275.7 54.2h.9v.9h-.9zM277.2 53.7h.9v.9h-.9zM268.0 57.5h.9v.9h-.9zM260.1 51.6h.9v.9h-.9zM274.1 48.6h.9v.9h-.9zM281.3 45.9h.9v.9h-.9zM267.1 48.7h.9v.9h-.9zM274.5 54.7h.9v.9h-.9zM273.1 54.1h.9v.9h-.9zM269.3 48.2h.9v.9h-.9zM273.2 44.8h.9v.9h-.9zM273.5 49.2h.9v.9h-.9zM275.8 46.3h.9v.9h-.9zM270.1 48.4h.9v.9h-.9zM270.9 46.4h.9v.9h-.9zM271.4 44.7h.9v.9h-.9zM275.1 54.1h.9v.9h-.9zM272.5 50.1h.9v.9h-.9zM268.4 46.6h.9v.9h-.9zM271.6 46.8h.9v.9h-.9zM267.1 51.8h.9v.9h-.9zM272.5 49.1h.9v.9h-.9zM268.8 50.8h.9v.9h-.9zM269.3 49.0h.9v.9h-.9zM273.4 54.4h.9v.9h-.9zM276.1 48.2h.9v.9h-.9zM278.2 45.6h.9v.9h-.9zM271.8 57.1h.9v.9h-.9zM283.6 51.6h.9v.9h-.9zM270.9 49.3h.9v.9h-.9zM266.9 50.3h.9v.9h-.9zM270.6 47.5h.9v.9h-.9zM278.2 47.4h.9v.9h-.9zM280.5 54.9h.9v.9h-.9zM275.6 48.3h.9v.9h-.9zM270.2 41.8h.9v.9h-.9zM273.9 49.8h.9v.9h-.9zM274.4 47.9h.9v.9h-.9zM274.8 44.1h.9v.9h-.9zM262.4 53.2h.9v.9h-.9zM277.6 36.4h.9v.9h-.9zM278.6 49.4h.9v.9h-.9zM271.8 43.9h.9v.9h-.9zM267.9 54.3h.9v.9h-.9zM269.2 50.8h.9v.9h-.9zM271.9 60.2h.9v.9h-.9zM276.7 44.9h.9v.9h-.9zM270.3 45.7h.9v.9h-.9zM266.1 47.8h.9v.9h-.9zM277.7 51.2h.9v.9h-.9zM275.7 50.4h.9v.9h-.9zM270.6 51.4h.9v.9h-.9zM272.2 59.9h.9v.9h-.9zM280.9 52.8h.9v.9h-.9zM275.4 41.8h.9v.9h-.9zM272.0 62.1h.9v.9h-.9zM268.9 54.8h.9v.9h-.9zM278.2 49.2h.9v.9h-.9zM271.5 48.9h.9v.9h-.9zM276.3 51.1h.9v.9h-.9zM279.5 56.5h.9v.9h-.9zM272.5 63.1h.9v.9h-.9zM271.1 48.2h.9v.9h-.9zM271.5 46.9h.9v.9h-.9zM270.6 50.7h.9v.9h-.9zM276.7 43.7h.9v.9h-.9zM266.1 47.4h.9v.9h-.9zM271.2 53.1h.9v.9h-.9zM268.9 58.0h.9v.9h-.9zM270.1 50.0h.9v.9h-.9zM272.8 56.4h.9v.9h-.9zM273.9 51.1h.9v.9h-.9zM270.1 51.8h.9v.9h-.9zM274.4 49.4h.9v.9h-.9zM272.5 42.5h.9v.9h-.9zM270.1 56.5h.9v.9h-.9zM279.1 50.7h.9v.9h-.9zM262.6 59.5h.9v.9h-.9zM271.8 62.9h.9v.9h-.9zM270.7 55.7h.9v.9h-.9zM269.7 57.4h.9v.9h-.9zM277.9 46.1h.9v.9h-.9zM278.6 64.3h.9v.9h-.9zM271.5 45.4h.9v.9h-.9zM273.8 49.1h.9v.9h-.9zM265.6 46.1h.9v.9h-.9zM273.7 43.9h.9v.9h-.9zM277.6 53.1h.9v.9h-.9zM271.7 57.5h.9v.9h-.9zM268.3 54.2h.9v.9h-.9zM266.3 49.5h.9v.9h-.9zM275.5 48.5h.9v.9h-.9zM272.0 54.0h.9v.9h-.9zM279.6 57.1h.9v.9h-.9zM274.7 49.8h.9v.9h-.9zM265.9 59.0h.9v.9h-.9zM281.2 41.0h.9v.9h-.9zM276.6 50.8h.9v.9h-.9zM275.8 52.5h.9v.9h-.9zM271.7 51.0h.9v.9h-.9zM272.4 56.4h.9v.9h-.9zM271.3 48.5h.9v.9h-.9zM275.6 54.0h.9v.9h-.9zM274.6 52.3h.9v.9h-.9zM279.4 56.2h.9v.9h-.9zM273.5 50.0h.9v.9h-.9zM275.6 42.3h.9v.9h-.9zM270.1 47.7h.9v.9h-.9zM273.3 49.2h.9v.9h-.9zM283.9 54.4h.9v.9h-.9zM274.4 61.5h.9v.9h-.9zM272.5 49.5h.9v.9h-.9zM278.2 54.9h.9v.9h-.9zM276.8 56.6h.9v.9h-.9zM270.9 47.9h.9v.9h-.9zM269.2 51.5h.9v.9h-.9zM277.2 46.1h.9v.9h-.9zM270.1 44.8h.9v.9h-.9zM281.8 54.7h.9v.9h-.9zM273.6 45.3h.9v.9h-.9zM267.8 48.0h.9v.9h-.9zM272.7 45.1h.9v.9h-.9zM271.5 56.7h.9v.9h-.9zM272.6 51.5h.9v.9h-.9zM262.9 49.7h.9v.9h-.9zM271.9 47.8h.9v.9h-.9zM266.2 50.7h.9v.9h-.9zM267.8 48.5h.9v.9h-.9zM265.2 50.6h.9v.9h-.9zM276.7 47.1h.9v.9h-.9zM274.0 43.9h.9v.9h-.9zM275.2 53.5h.9v.9h-.9zM270.8 55.1h.9v.9h-.9zM268.5 51.2h.9v.9h-.9zM280.3 50.9h.9v.9h-.9zM267.4 56.4h.9v.9h-.9zM275.0 49.7h.9v.9h-.9zM264.2 42.2h.9v.9h-.9zM265.5 57.9h.9v.9h-.9zM273.9 47.0h.9v.9h-.9zM277.9 57.9h.9v.9h-.9zM268.7 53.3h.9v.9h-.9zM265.0 52.7h.9v.9h-.9zM280.9 44.4h.9v.9h-.9zM272.8 48.0h.9v.9h-.9zM272.1 51.4h.9v.9h-.9zM273.8 55.2h.9v.9h-.9zM274.9 55.9h.9v.9h-.9zM277.2 56.1h.9v.9h-.9zM269.4 52.9h.9v.9h-.9zM270.8 47.1h.9v.9h-.9zM281.6 52.4h.9v.9h-.9zM272.8 41.2h.9v.9h-.9zM271.5 54.6h.9v.9h-.9zM271.6 48.5h.9v.9h-.9zM279.3 49.5h.9v.9h-.9zM271.0 50.5h.9v.9h-.9zM271.5 55.9h.9v.9h-.9zM275.2 50.7h.9v.9h-.9zM270.9 49.9h.9v.9h-.9zM280.3 49.6h.9v.9h-.9zM275.6 43.6h.9v.9h-.9zM274.0 54.2h.9v.9h-.9zM278.4 52.5h.9v.9h-.9zM275.2 52.5h.9v.9h-.9zM277.5 60.6h.9v.9h-.9zM273.5 47.2h.9v.9h-.9zM275.3 50.5h.9v.9h-.9zM275.5 54.6h.9v.9h-.9zM273.2 48.9h.9v.9h-.9zM274.0 45.2h.9v.9h-.9zM273.8 46.9h.9v.9h-.9zM274.6 51.6h.9v.9h-.9zM271.5 45.4h.9v.9h-.9zM272.8 47.8h.9v.9h-.9zM271.9 54.3h.9v.9h-.9zM276.9 45.0h.9v.9h-.9zM276.8 57.4h.9v.9h-.9zM277.7 52.3h.9v.9h-.9zM272.1 59.2h.9v.9h-.9zM271.1 43.9h.9v.9h-.9zM273.0 52.3h.9v.9h-.9zM267.8 45.3h.9v.9h-.9zM281.6 51.5h.9v.9h-.9zM276.1 48.3h.9v.9h-.9zM265.6 50.2h.9v.9h-.9zM278.7 47.9h.9v.9h-.9zM264.3 50.2h.9v.9h-.9zM271.3 51.1h.9v.9h-.9zM267.8 49.5h.9v.9h-.9zM270.0 55.1h.9v.9h-.9zM273.2 55.1h.9v.9h-.9zM272.3 41.0h.9v.9h-.9zM263.6 53.5h.9v.9h-.9zM276.6 55.1h.9v.9h-.9zM272.2 42.6h.9v.9h-.9zM270.3 52.9h.9v.9h-.9zM278.9 49.4h.9v.9h-.9zM270.0 47.4h.9v.9h-.9zM277.2 55.1h.9v.9h-.9zM264.2 56.7h.9v.9h-.9zM268.3 44.1h.9v.9h-.9zM265.2 47.6h.9v.9h-.9zM283.2 63.0h.9v.9h-.9zM266.8 47.9h.9v.9h-.9zM273.3 52.9h.9v.9h-.9zM270.4 43.6h.9v.9h-.9zM270.7 47.8h.9v.9h-.9zM264.3 51.7h.9v.9h-.9zM265.8 42.9h.9v.9h-.9zM279.5 55.4h.9v.9h-.9zM279.2 51.6h.9v.9h-.9zM270.7 50.6h.9v.9h-.9zM266.3 54.5h.9v.9h-.9zM273.8 49.6h.9v.9h-.9zM264.0 50.5h.9v.9h-.9zM280.0 57.8h.9v.9h-.9zM276.6 49.4h.9v.9h-.9zM273.2 53.6h.9v.9h-.9zM273.5 55.9h.9v.9h-.9zM269.5 40.1h.9v.9h-.9zM261.4 46.7h.9v.9h-.9zM266.2 54.1h.9v.9h-.9zM277.5 51.0h.9v.9h-.9zM275.0 51.4h.9v.9h-.9zM273.4 48.8h.9v.9h-.9zM270.7 56.6h.9v.9h-.9zM271.3 50.8h.9v.9h-.9zM278.0 55.6h.9v.9h-.9zM270.8 52.2h.9v.9h-.9zM267.9 51.6h.9v.9h-.9zM274.0 51.0h.9v.9h-.9zM273.3 52.7h.9v.9h-.9zM260.9 47.1h.9v.9h-.9zM272.9 48.7h.9v.9h-.9zM268.1 49.9h.9v.9h-.9zM279.9 49.9h.9v.9h-.9zM269.6 48.8h.9v.9h-.9zM267.1 53.3h.9v.9h-.9zM268.0 55.3h.9v.9h-.9zM276.7 53.7h.9v.9h-.9zM277.3 50.6h.9v.9h-.9zM264.5 50.7h.9v.9h-.9zM275.5 43.8h.9v.9h-.9zM266.9 56.1h.9v.9h-.9zM274.6 57.3h.9v.9h-.9zM275.6 51.3h.9v.9h-.9zM274.5 55.0h.9v.9h-.9zM272.4 50.0h.9v.9h-.9zM274.0 49.5h.9v.9h-.9zM283.6 47.4h.9v.9h-.9zM265.6 44.9h.9v.9h-.9zM277.4 49.1h.9v.9h-.9zM273.3 50.0h.9v.9h-.9zM273.8 44.2h.9v.9h-.9zM273.0 48.3h.9v.9h-.9zM277.6 53.9h.9v.9h-.9zM266.8 46.5h.9v.9h-.9zM275.2 56.6h.9v.9h-.9zM276.1 50.3h.9v.9h-.9zM277.7 39.9h.9v.9h-.9zM270.1 46.4h.9v.9h-.9zM267.8 53.6h.9v.9h-.9zM273.8 52.3h.9v.9h-.9zM271.9 53.9h.9v.9h-.9zM276.2 48.3h.9v.9h-.9zM276.9 46.6h.9v.9h-.9zM280.7 44.9h.9v.9h-.9zM271.2 45.9h.9v.9h-.9zM272.7 57.2h.9v.9h-.9zM269.1 59.3h.9v.9h-.9zM279.1 52.8h.9v.9h-.9zM269.8 55.2h.9v.9h-.9zM259.3 47.4h.9v.9h-.9zM277.0 50.8h.9v.9h-.9zM284.1 47.8h.9v.9h-.9zM266.4 50.0h.9v.9h-.9zM275.2 59.0h.9v.9h-.9zM264.4 51.7h.9v.9h-.9zM278.4 47.8h.9v.9h-.9zM270.5 45.3h.9v.9h-.9zM276.1 54.9h.9v.9h-.9zM275.3 52.2h.9v.9h-.9zM277.2 50.4h.9v.9h-.9zM275.9 54.9h.9v.9h-.9zM278.6 53.4h.9v.9h-.9zM273.0 54.3h.9v.9h-.9zM265.4 42.7h.9v.9h-.9zM280.1 51.6h.9v.9h-.9zM267.7 48.3h.9v.9h-.9zM271.9 51.3h.9v.9h-.9zM269.0 55.7h.9v.9h-.9zM264.6 64.2h.9v.9h-.9zM267.5 58.8h.9v.9h-.9zM275.7 43.1h.9v.9h-.9zM266.9 51.3h.9v.9h-.9zM273.8 49.0h.9v.9h-.9zM272.6 51.8h.9v.9h-.9zM267.2 51.3h.9v.9h-.9zM283.2 48.0h.9v.9h-.9zM267.8 54.1h.9v.9h-.9zM278.8 55.9h.9v.9h-.9zM269.6 50.7h.9v.9h-.9zM273.5 50.0h.9v.9h-.9zM274.4 56.1h.9v.9h-.9zM275.1 51.0h.9v.9h-.9zM271.6 59.4h.9v.9h-.9zM266.8 60.5h.9v.9h-.9zM276.0 51.4h.9v.9h-.9zM269.1 59.7h.9v.9h-.9zM278.3 55.3h.9v.9h-.9zM282.3 42.5h.9v.9h-.9zM273.0 49.5h.9v.9h-.9zM269.2 51.4h.9v.9h-.9zM275.1 53.5h.9v.9h-.9zM271.9 44.7h.9v.9h-.9zM275.2 53.9h.9v.9h-.9zM282.5 55.4h.9v.9h-.9zM272.6 45.6h.9v.9h-.9zM285.4 47.8h.9v.9h-.9zM273.5 54.5h.9v.9h-.9zM274.9 57.3h.9v.9h-.9zM267.7 47.7h.9v.9h-.9zM273.4 45.2h.9v.9h-.9zM269.7 57.6h.9v.9h-.9zM274.0 50.5h.9v.9h-.9zM269.9 51.2h.9v.9h-.9zM272.4 45.9h.9v.9h-.9zM276.3 44.9h.9v.9h-.9zM278.6 49.4h.9v.9h-.9zM261.8 43.7h.9v.9h-.9zM273.9 46.9h.9v.9h-.9zM281.1 57.6h.9v.9h-.9zM282.5 55.2h.9v.9h-.9zM279.0 48.1h.9v.9h-.9zM278.7 48.9h.9v.9h-.9zM272.3 44.5h.9v.9h-.9zM272.8 52.9h.9v.9h-.9zM272.3 45.7h.9v.9h-.9zM276.9 55.3h.9v.9h-.9zM272.1 54.7h.9v.9h-.9zM277.2 46.3h.9v.9h-.9zM272.4 42.2h.9v.9h-.9zM267.7 53.0h.9v.9h-.9zM268.4 52.9h.9v.9h-.9zM274.3 41.2h.9v.9h-.9zM270.3 58.2h.9v.9h-.9zM272.6 51.6h.9v.9h-.9zM269.2 43.4h.9v.9h-.9zM265.0 64.7h.9v.9h-.9zM271.7 46.9h.9v.9h-.9zM273.1 41.8h.9v.9h-.9zM279.2 59.2h.9v.9h-.9zM269.0 52.5h.9v.9h-.9zM268.3 55.1h.9v.9h-.9z" fill="#000" fill-opacity="0.75"/>
<path d="M266.4 50.4h.9v.9h-.9zM283.5 55.6h.9v.9h-.9zM270.5 39.7h.9v.9h-.9zM260.4 60.8h.9v.9h-.9zM277.2 51.9h.9v.9h-.9zM283.1 52.6h.9v.9h-.9zM267.3 50.7h.9v.9h-.9zM272.3 51.4h.9v.9h-.9zM293.0 56.0h.9v.9h-.9zM275.3 49.6h.9v.9h-.9zM267.7 43.8h.9v.9h-.9zM258.1 47.9h.9v.9h-.9zM261.0 37.1h.9v.9h-.9zM265.6 35.7h.9v.9h-.9zM284.1 61.2h.9v.9h-.9zM265.4 67.4h.9v.9h-.9zM278.4 31.9h.9v.9h-.9zM273.3 43.7h.9v.9h-.9zM259.2 49.5h.9v.9h-.9zM282.3 55.0h.9v.9h-.9zM261.4 46.3h.9v.9h-.9zM267.0 60.4h.9v.9h-.9zM272.3 43.9h.9v.9h-.9zM265.8 36.2h.9v.9h-.9zM266.3 58.5h.9v.9h-.9zM257.8 53.0h.9v.9h-.9zM272.2 57.9h.9v.9h-.9zM263.9 58.6h.9v.9h-.9zM285.5 69.3h.9v.9h-.9zM260.0 51.3h.9v.9h-.9zM271.4 52.5h.9v.9h-.9zM265.2 58.2h.9v.9h-.9zM291.9 63.2h.9v.9h-.9zM265.4 47.0h.9v.9h-.9zM278.9 52.6h.9v.9h-.9zM267.0 61.1h.9v.9h-.9zM277.2 59.5h.9v.9h-.9zM271.7 61.5h.9v.9h-.9zM269.3 42.8h.9v.9h-.9zM273.0 40.6h.9v.9h-.9zM283.1 57.2h.9v.9h-.9zM259.6 52.8h.9v.9h-.9zM279.9 48.7h.9v.9h-.9zM276.4 46.9h.9v.9h-.9zM272.5 50.8h.9v.9h-.9zM276.9 43.9h.9v.9h-.9zM264.0 54.1h.9v.9h-.9zM269.0 55.6h.9v.9h-.9zM269.0 41.3h.9v.9h-.9zM279.0 53.6h.9v.9h-.9zM278.9 48.9h.9v.9h-.9zM270.2 61.4h.9v.9h-.9zM259.5 65.1h.9v.9h-.9zM277.2 51.1h.9v.9h-.9zM273.8 56.2h.9v.9h-.9zM266.9 53.7h.9v.9h-.9zM265.4 37.1h.9v.9h-.9zM274.7 52.3h.9v.9h-.9zM278.3 55.9h.9v.9h-.9zM278.7 57.7h.9v.9h-.9zM264.6 61.0h.9v.9h-.9zM294.6 47.1h.9v.9h-.9zM262.9 56.9h.9v.9h-.9zM280.4 59.4h.9v.9h-.9zM285.4 40.7h.9v.9h-.9zM276.1 55.1h.9v.9h-.9zM283.1 44.5h.9v.9h-.9zM273.2 48.6h.9v.9h-.9zM271.7 50.4h.9v.9h-.9zM271.8 37.7h.9v.9h-.9zM272.7 52.0h.9v.9h-.9zM269.9 23.7h.9v.9h-.9zM267.5 46.4h.9v.9h-.9zM266.0 64.0h.9v.9h-.9zM280.5 50.0h.9v.9h-.9zM277.9 77.3h.9v.9h-.9zM265.2 55.2h.9v.9h-.9zM268.2 63.1h.9v.9h-.9zM281.9 50.5h.9v.9h-.9zM278.0 45.3h.9v.9h-.9zM260.3 58.1h.9v.9h-.9zM286.2 49.1h.9v.9h-.9zM268.8 37.5h.9v.9h-.9zM290.3 42.1h.9v.9h-.9zM265.2 50.0h.9v.9h-.9zM282.8 51.9h.9v.9h-.9zM272.9 51.7h.9v.9h-.9zM279.9 51.2h.9v.9h-.9zM274.3 50.9h.9v.9h-.9zM264.1 62.0h.9v.9h-.9zM267.4 41.2h.9v.9h-.9zM269.5 51.8h.9v.9h-.9zM279.6 40.0h.9v.9h-.9zM262.8 52.9h.9v.9h-.9zM276.1 42.9h.9v.9h-.9zM263.9 52.9h.9v.9h-.9zM271.9 38.8h.9v.9h-.9zM266.0 63.1h.9v.9h-.9zM264.5 59.7h.9v.9h-.9zM260.7 63.1h.9v.9h-.9zM285.9 46.5h.9v.9h-.9zM267.5 56.4h.9v.9h-.9zM263.0 55.8h.9v.9h-.9zM282.8 53.6h.9v.9h-.9zM275.6 50.3h.9v.9h-.9zM281.1 45.1h.9v.9h-.9zM285.8 51.3h.9v.9h-.9zM270.4 38.7h.9v.9h-.9zM269.5 53.4h.9v.9h-.9zM283.0 38.9h.9v.9h-.9zM272.0 46.1h.9v.9h-.9zM263.4 51.5h.9v.9h-.9zM266.9 58.3h.9v.9h-.9zM251.3 57.3h.9v.9h-.9zM257.7 36.2h.9v.9h-.9zM277.2 48.8h.9v.9h-.9zM274.0 43.9h.9v.9h-.9zM264.6 45.7h.9v.9h-.9zM272.6 44.9h.9v.9h-.9zM269.6 44.8h.9v.9h-.9zM274.9 42.6h.9v.9h-.9zM256.3 30.9h.9v.9h-.9zM272.9 52.2h.9v.9h-.9zM280.7 45.7h.9v.9h-.9zM263.8 39.8h.9v.9h-.9zM279.1 46.6h.9v.9h-.9zM280.9 50.9h.9v.9h-.9zM270.8 36.9h.9v.9h-.9zM267.6 57.7h.9v.9h-.9zM268.1 56.8h.9v.9h-.9zM259.8 59.5h.9v.9h-.9zM295.4 60.2h.9v.9h-.9zM275.6 41.8h.9v.9h-.9zM268.8 46.4h.9v.9h-.9zM274.5 35.7h.9v.9h-.9zM266.1 57.7h.9v.9h-.9zM274.2 57.3h.9v.9h-.9zM279.9 42.5h.9v.9h-.9zM262.2 55.1h.9v.9h-.9zM273.3 52.1h.9v.9h-.9zM266.5 59.5h.9v.9h-.9zM277.0 60.4h.9v.9h-.9zM270.2 56.9h.9v.9h-.9zM272.5 44.1h.9v.9h-.9zM272.4 38.5h.9v.9h-.9zM271.6 52.9h.9v.9h-.9zM278.6 43.3h.9v.9h-.9zM262.3 45.8h.9v.9h-.9zM256.4 46.4h.9v.9h-.9zM294.0 52.6h.9v.9h-.9zM266.9 46.2h.9v.9h-.9zM287.2 42.4h.9v.9h-.9zM272.1 50.9h.9v.9h-.9zM267.1 45.9h.9v.9h-.9zM259.5 44.9h.9v.9h-.9zM283.4 62.6h.9v.9h-.9zM270.7 57.0h.9v.9h-.9zM276.7 52.4h.9v.9h-.9zM271.9 61.0h.9v.9h-.9zM277.6 49.7h.9v.9h-.9zM271.1 58.8h.9v.9h-.9zM268.2 45.9h.9v.9h-.9zM270.8 47.6h.9v.9h-.9zM283.1 54.3h.9v.9h-.9zM272.3 47.4h.9v.9h-.9zM284.4 54.9h.9v.9h-.9zM289.7 58.6h.9v.9h-.9zM271.3 47.2h.9v.9h-.9zM270.7 52.9h.9v.9h-.9zM279.3 55.3h.9v.9h-.9zM285.6 39.6h.9v.9h-.9zM273.2 40.4h.9v.9h-.9zM264.7 46.8h.9v.9h-.9zM267.8 43.9h.9v.9h-.9zM260.8 60.4h.9v.9h-.9zM270.4 59.1h.9v.9h-.9zM264.1 33.3h.9v.9h-.9zM268.2 58.4h.9v.9h-.9zM268.5 54.6h.9v.9h-.9zM264.4 62.4h.9v.9h-.9zM276.5 59.7h.9v.9h-.9zM270.8 61.5h.9v.9h-.9zM273.6 47.7h.9v.9h-.9zM267.9 51.9h.9v.9h-.9zM265.7 42.2h.9v.9h-.9zM274.0 57.1h.9v.9h-.9zM270.7 58.1h.9v.9h-.9zM285.7 41.6h.9v.9h-.9zM275.1 44.0h.9v.9h-.9zM267.8 52.9h.9v.9h-.9zM254.0 56.2h.9v.9h-.9zM279.7 55.7h.9v.9h-.9zM278.2 65.7h.9v.9h-.9zM270.1 60.1h.9v.9h-.9zM284.6 55.3h.9v.9h-.9zM258.7 50.3h.9v.9h-.9zM270.6 38.8h.9v.9h-.9zM272.5 57.4h.9v.9h-.9zM270.9 50.1h.9v.9h-.9zM284.8 46.7h.9v.9h-.9zM265.4 51.8h.9v.9h-.9zM282.0 56.1h.9v.9h-.9zM273.6 47.6h.9v.9h-.9zM282.9 58.4h.9v.9h-.9zM259.1 54.1h.9v.9h-.9zM253.7 63.2h.9v.9h-.9zM277.9 46.6h.9v.9h-.9zM262.6 49.1h.9v.9h-.9zM258.9 55.9h.9v.9h-.9zM268.9 37.7h.9v.9h-.9zM272.8 60.7h.9v.9h-.9zM262.8 48.7h.9v.9h-.9zM287.6 52.9h.9v.9h-.9zM268.5 53.0h.9v.9h-.9zM279.2 43.6h.9v.9h-.9zM272.2 38.7h.9v.9h-.9zM260.3 39.5h.9v.9h-.9zM279.8 53.9h.9v.9h-.9zM278.9 61.0h.9v.9h-.9zM273.4 53.3h.9v.9h-.9zM276.2 55.1h.9v.9h-.9zM264.5 49.3h.9v.9h-.9zM271.8 51.8h.9v.9h-.9zM267.0 50.4h.9v.9h-.9zM275.3 52.9h.9v.9h-.9zM277.7 57.9h.9v.9h-.9zM277.5 59.0h.9v.9h-.9zM279.7 62.4h.9v.9h-.9zM278.0 46.6h.9v.9h-.9zM291.7 60.3h.9v.9h-.9zM283.0 57.2h.9v.9h-.9zM273.4 42.5h.9v.9h-.9zM276.5 48.7h.9v.9h-.9zM269.8 34.8h.9v.9h-.9zM285.4 42.4h.9v.9h-.9zM264.2 55.1h.9v.9h-.9zM277.5 45.3h.9v.9h-.9zM272.9 53.5h.9v.9h-.9zM274.3 55.6h.9v.9h-.9zM279.2 48.6h.9v.9h-.9zM260.0 68.4h.9v.9h-.9zM269.9 43.7h.9v.9h-.9zM279.0 56.1h.9v.9h-.9zM268.0 69.9h.9v.9h-.9zM254.1 61.5h.9v.9h-.9zM272.7 53.9h.9v.9h-.9zM275.5 49.7h.9v.9h-.9zM275.5 41.3h.9v.9h-.9zM269.8 66.0h.9v.9h-.9zM252.3 61.1h.9v.9h-.9zM255.1 44.8h.9v.9h-.9zM280.0 48.3h.9v.9h-.9zM268.4 39.8h.9v.9h-.9zM272.0 50.1h.9v.9h-.9zM267.9 39.3h.9v.9h-.9zM274.2 54.8h.9v.9h-.9zM282.1 55.5h.9v.9h-.9zM285.2 60.9h.9v.9h-.9zM250.3 64.5h.9v.9h-.9zM272.2 43.3h.9v.9h-.9zM276.5 59.0h.9v.9h-.9zM260.6 41.8h.9v.9h-.9zM278.5 47.2h.9v.9h-.9zM284.7 53.2h.9v.9h-.9zM268.6 41.1h.9v.9h-.9zM277.8 38.0h.9v.9h-.9zM262.5 41.2h.9v.9h-.9zM286.7 64.8h.9v.9h-.9zM271.2 48.5h.9v.9h-.9zM278.6 61.2h.9v.9h-.9zM266.5 68.7h.9v.9h-.9zM271.3 60.3h.9v.9h-.9zM254.0 51.1h.9v.9h-.9zM267.4 67.0h.9v.9h-.9zM271.3 41.5h.9v.9h-.9zM288.7 46.1h.9v.9h-.9zM273.0 41.7h.9v.9h-.9zM278.4 53.0h.9v.9h-.9zM270.7 48.3h.9v.9h-.9zM268.4 45.9h.9v.9h-.9zM261.7 60.9h.9v.9h-.9zM280.2 40.6h.9v.9h-.9zM263.6 54.7h.9v.9h-.9zM291.2 49.9h.9v.9h-.9zM270.5 49.5h.9v.9h-.9zM275.0 50.1h.9v.9h-.9zM281.7 59.2h.9v.9h-.9zM277.4 63.8h.9v.9h-.9zM271.1 47.2h.9v.9h-.9zM296.9 36.4h.9v.9h-.9zM260.5 33.0h.9v.9h-.9zM275.9 43.1h.9v.9h-.9zM281.5 35.1h.9v.9h-.9zM271.9 48.4h.9v.9h-.9zM264.3 60.2h.9v.9h-.9zM269.8 55.0h.9v.9h-.9zM268.8 52.7h.9v.9h-.9zM269.4 52.1h.9v.9h-.9zM272.2 46.2h.9v.9h-.9zM276.5 50.0h.9v.9h-.9zM265.2 43.3h.9v.9h-.9zM276.5 61.9h.9v.9h-.9zM262.5 48.2h.9v.9h-.9zM276.6 59.6h.9v.9h-.9zM278.7 42.2h.9v.9h-.9zM273.3 58.5h.9v.9h-.9zM274.9 49.7h.9v.9h-.9zM263.5 52.8h.9v.9h-.9zM272.5 51.7h.9v.9h-.9zM285.1 60.8h.9v.9h-.9zM266.6 53.3h.9v.9h-.9zM270.5 52.3h.9v.9h-.9zM286.1 58.7h.9v.9h-.9zM273.3 46.3h.9v.9h-.9zM271.7 54.3h.9v.9h-.9zM269.0 60.1h.9v.9h-.9zM273.2 42.2h.9v.9h-.9zM289.4 28.8h.9v.9h-.9zM270.8 50.5h.9v.9h-.9zM280.9 60.2h.9v.9h-.9zM284.7 63.7h.9v.9h-.9zM275.5 52.4h.9v.9h-.9zM281.2 51.3h.9v.9h-.9zM262.9 47.9h.9v.9h-.9zM278.3 56.3h.9v.9h-.9zM264.1 60.9h.9v.9h-.9zM275.5 39.7h.9v.9h-.9zM276.8 59.4h.9v.9h-.9zM277.3 49.1h.9v.9h-.9zM266.6 60.3h.9v.9h-.9zM274.8 51.4h.9v.9h-.9zM269.8 43.4h.9v.9h-.9zM257.9 48.8h.9v.9h-.9zM281.9 57.5h.9v.9h-.9zM267.5 63.4h.9v.9h-.9zM271.2 43.6h.9v.9h-.9zM280.9 62.3h.9v.9h-.9zM269.9 41.9h.9v.9h-.9zM272.5 32.5h.9v.9h-.9zM273.4 63.4h.9v.9h-.9zM275.2 45.8h.9v.9h-.9zM278.7 47.6h.9v.9h-.9zM283.2 48.7h.9v.9h-.9zM289.4 48.7h.9v.9h-.9zM274.5 44.1h.9v.9h-.9zM262.7 54.2h.9v.9h-.9zM275.8 43.9h.9v.9h-.9zM277.5 48.3h.9v.9h-.9zM268.6 50.9h.9v.9h-.9zM276.2 57.2h.9v.9h-.9zM282.9 54.5h.9v.9h-.9zM267.2 46.1h.9v.9h-.9zM276.0 42.1h.9v.9h-.9zM271.6 48.5h.9v.9h-.9zM272.2 52.9h.9v.9h-.9zM281.4 64.3h.9v.9h-.9zM280.1 59.4h.9v.9h-.9zM264.4 59.6h.9v.9h-.9zM283.4 40.9h.9v.9h-.9zM293.3 47.1h.9v.9h-.9zM253.9 65.3h.9v.9h-.9zM273.5 45.2h.9v.9h-.9zM268.4 59.9h.9v.9h-.9zM275.1 48.6h.9v.9h-.9zM282.2 44.2h.9v.9h-.9zM266.2 47.1h.9v.9h-.9zM267.0 56.9h.9v.9h-.9zM271.1 43.3h.9v.9h-.9zM269.3 36.0h.9v.9h-.9zM274.3 52.3h.9v.9h-.9zM277.9 49.7h.9v.9h-.9zM276.2 44.2h.9v.9h-.9zM273.2 52.7h.9v.9h-.9zM263.2 56.1h.9v.9h-.9zM274.1 51.9h.9v.9h-.9zM269.2 67.2h.9v.9h-.9zM273.0 45.5h.9v.9h-.9zM266.2 56.1h.9v.9h-.9zM271.3 45.3h.9v.9h-.9zM267.2 58.8h.9v.9h-.9zM273.7 59.7h.9v.9h-.9zM272.9 42.3h.9v.9h-.9zM280.0 54.0h.9v.9h-.9zM267.7 49.1h.9v.9h-.9zM265.2 58.0h.9v.9h-.9zM269.7 55.2h.9v.9h-.9zM275.1 49.5h.9v.9h-.9zM276.0 49.6h.9v.9h-.9zM263.5 48.2h.9v.9h-.9zM263.5 57.4h.9v.9h-.9zM278.2 46.9h.9v.9h-.9zM278.0 53.4h.9v.9h-.9zM280.8 44.2h.9v.9h-.9zM273.2 43.8h.9v.9h-.9zM267.5 62.2h.9v.9h-.9zM256.9 44.4h.9v.9h-.9zM276.9 57.6h.9v.9h-.9zM266.7 35.6h.9v.9h-.9zM259.2 54.4h.9v.9h-.9zM281.8 58.6h.9v.9h-.9zM267.1 62.0h.9v.9h-.9zM271.5 56.3h.9v.9h-.9zM271.5 63.9h.9v.9h-.9zM268.9 34.8h.9v.9h-.9zM270.5 53.0h.9v.9h-.9zM275.2 45.9h.9v.9h-.9zM271.1 42.6h.9v.9h-.9zM271.1 52.2h.9v.9h-.9zM274.9 64.3h.9v.9h-.9zM257.0 55.5h.9v.9h-.9zM276.5 42.5h.9v.9h-.9zM273.6 51.4h.9v.9h-.9zM265.0 57.1h.9v.9h-.9zM288.3 56.7h.9v.9h-.9zM279.2 59.8h.9v.9h-.9zM272.0 59.1h.9v.9h-.9zM266.5 52.9h.9v.9h-.9zM278.6 61.7h.9v.9h-.9zM270.7 49.2h.9v.9h-.9zM276.7 50.9h.9v.9h-.9zM274.1 57.8h.9v.9h-.9zM266.9 58.3h.9v.9h-.9zM276.0 49.4h.9v.9h-.9zM263.0 46.6h.9v.9h-.9zM272.6 58.8h.9v.9h-.9zM257.3 57.0h.9v.9h-.9zM274.5 42.7h.9v.9h-.9zM279.8 54.6h.9v.9h-.9zM276.5 43.9h.9v.9h-.9zM264.2 58.6h.9v.9h-.9zM284.2 54.3h.9v.9h-.9zM271.5 48.0h.9v.9h-.9zM259.3 59.1h.9v.9h-.9zM272.2 61.1h.9v.9h-.9zM267.3 59.7h.9v.9h-.9zM267.3 56.0h.9v.9h-.9zM283.9 46.0h.9v.9h-.9zM280.2 51.4h.9v.9h-.9zM265.5 53.1h.9v.9h-.9zM278.1 46.0h.9v.9h-.9zM270.9 47.1h.9v.9h-.9zM266.9 49.9h.9v.9h-.9zM279.5 47.7h.9v.9h-.9zM282.9 48.6h.9v.9h-.9zM267.5 59.8h.9v.9h-.9zM284.2 46.5h.9v.9h-.9zM277.7 42.5h.9v.9h-.9zM269.8 48.6h.9v.9h-.9zM278.6 41.8h.9v.9h-.9zM268.9 46.2h.9v.9h-.9zM273.8 42.0h.9v.9h-.9zM262.4 73.4h.9v.9h-.9zM274.7 39.9h.9v.9h-.9zM279.6 41.3h.9v.9h-.9zM258.1 64.4h.9v.9h-.9zM282.9 45.0h.9v.9h-.9zM264.4 55.2h.9v.9h-.9zM289.1 56.1h.9v.9h-.9zM278.2 42.3h.9v.9h-.9zM258.9 54.5h.9v.9h-.9zM281.0 52.6h.9v.9h-.9zM273.0 62.2h.9v.9h-.9zM266.3 60.0h.9v.9h-.9zM279.6 46.7h.9v.9h-.9zM274.0 52.3h.9v.9h-.9zM277.6 44.0h.9v.9h-.9zM271.2 52.2h.9v.9h-.9zM273.2 51.7h.9v.9h-.9zM275.0 50.0h.9v.9h-.9zM269.1 59.4h.9v.9h-.9zM267.9 49.0h.9v.9h-.9zM266.0 42.7h.9v.9h-.9zM276.5 51.2h.9v.9h-.9zM271.9 55.0h.9v.9h-.9zM271.6 56.7h.9v.9h-.9zM287.3 54.2h.9v.9h-.9zM270.9 64.2h.9v.9h-.9zM278.6 38.7h.9v.9h-.9zM283.5 53.1h.9v.9h-.9zM279.7 42.6h.9v.9h-.9zM266.3 46.5h.9v.9h-.9zM277.4 42.9h.9v.9h-.9zM267.4 58.8h.9v.9h-.9zM267.9 52.4h.9v.9h-.9zM265.9 38.4h.9v.9h-.9zM272.3 50.6h.9v.9h-.9zM261.7 59.0h.9v.9h-.9zM279.5 58.3h.9v.9h-.9zM269.0 42.7h.9v.9h-.9zM272.3 52.8h.9v.9h-.9zM271.6 47.0h.9v.9h-.9zM265.2 45.8h.9v.9h-.9zM272.3 47.8h.9v.9h-.9zM286.1 49.4h.9v.9h-.9zM276.6 47.9h.9v.9h-.9zM271.6 44.0h.9v.9h-.9zM269.2 40.0h.9v.9h-.9zM256.7 61.8h.9v.9h-.9zM264.7 54.8h.9v.9h-.9zM272.0 47.1h.9v.9h-.9zM278.7 47.2h.9v.9h-.9zM276.4 48.7h.9v.9h-.9zM280.6 58.8h.9v.9h-.9zM273.5 59.9h.9v.9h-.9zM277.0 63.4h.9v.9h-.9zM272.0 39.7h.9v.9h-.9zM274.7 53.3h.9v.9h-.9zM270.1 49.9h.9v.9h-.9zM270.9 41.9h.9v.9h-.9zM286.5 45.6h.9v.9h-.9zM264.6 39.4h.9v.9h-.9zM266.4 51.2h.9v.9h-.9zM284.6 56.1h.9v.9h-.9zM267.3 42.0h.9v.9h-.9zM264.2 50.9h.9v.9h-.9zM279.8 47.8h.9v.9h-.9zM285.5 66.3h.9v.9h-.9zM274.2 34.9h.9v.9h-.9zM281.5 50.7h.9v.9h-.9zM278.2 59.0h.9v.9h-.9zM265.1 52.0h.9v.9h-.9zM274.4 45.7h.9v.9h-.9zM278.4 50.5h.9v.9h-.9zM269.8 65.8h.9v.9h-.9zM274.3 64.0h.9v.9h-.9zM271.8 59.4h.9v.9h-.9zM267.1 52.6h.9v.9h-.9zM281.4 34.9h.9v.9h-.9zM277.2 49.4h.9v.9h-.9zM281.5 52.9h.9v.9h-.9zM272.4 41.7h.9v.9h-.9zM296.0 45.9h.9v.9h-.9zM270.4 46.0h.9v.9h-.9zM270.6 53.2h.9v.9h-.9zM262.5 59.5h.9v.9h-.9zM270.9 56.1h.9v.9h-.9zM256.5 47.5h.9v.9h-.9zM270.6 48.5h.9v.9h-.9zM267.8 53.8h.9v.9h-.9zM276.2 44.0h.9v.9h-.9zM257.6 57.1h.9v.9h-.9zM270.5 59.6h.9v.9h-.9zM279.8 50.7h.9v.9h-.9zM261.8 48.7h.9v.9h-.9zM267.3 61.0h.9v.9h-.9zM259.7 58.5h.9v.9h-.9zM260.9 47.1h.9v.9h-.9zM261.9 46.2h.9v.9h-.9zM269.5 54.3h.9v.9h-.9zM268.4 56.7h.9v.9h-.9zM286.6 52.7h.9v.9h-.9zM264.0 50.1h.9v.9h-.9zM272.2 48.7h.9v.9h-.9zM282.0 60.3h.9v.9h-.9zM288.6 55.5h.9v.9h-.9zM252.1 50.5h.9v.9h-.9zM278.2 45.3h.9v.9h-.9zM268.3 58.4h.9v.9h-.9zM274.1 42.9h.9v.9h-.9zM268.4 27.9h.9v.9h-.9zM272.9 42.1h.9v.9h-.9zM272.5 42.4h.9v.9h-.9zM265.7 47.5h.9v.9h-.9zM294.7 42.4h.9v.9h-.9zM263.7 47.4h.9v.9h-.9zM281.2 57.6h.9v.9h-.9zM278.4 49.0h.9v.9h-.9zM273.9 45.6h.9v.9h-.9zM271.5 45.3h.9v.9h-.9zM261.6 43.9h.9v.9h-.9zM288.0 54.5h.9v.9h-.9zM267.1 50.6h.9v.9h-.9zM269.4 60.8h.9v.9h-.9zM272.7 46.6h.9v.9h-.9zM278.2 53.9h.9v.9h-.9zM267.6 45.6h.9v.9h-.9zM274.0 39.0h.9v.9h-.9zM265.8 59.2h.9v.9h-.9zM279.7 60.0h.9v.9h-.9zM269.5 46.9h.9v.9h-.9zM270.8 47.8h.9v.9h-.9zM282.9 49.8h.9v.9h-.9zM283.5 46.1h.9v.9h-.9zM275.9 63.9h.9v.9h-.9zM267.1 46.5h.9v.9h-.9zM268.3 39.2h.9v.9h-.9zM270.6 46.6h.9v.9h-.9zM290.1 47.8h.9v.9h-.9zM256.3 58.7h.9v.9h-.9zM280.3 51.2h.9v.9h-.9zM275.2 56.9h.9v.9h-.9zM268.5 51.8h.9v.9h-.9zM274.0 64.1h.9v.9h-.9zM283.9 52.8h.9v.9h-.9zM262.5 58.2h.9v.9h-.9zM272.5 60.4h.9v.9h-.9zM273.3 52.9h.9v.9h-.9zM278.0 45.9h.9v.9h-.9zM267.8 69.0h.9v.9h-.9zM266.2 58.6h.9v.9h-.9zM278.2 57.7h.9v.9h-.9zM283.6 41.2h.9v.9h-.9zM280.4 35.7h.9v.9h-.9zM273.3 54.0h.9v.9h-.9zM280.9 59.8h.9v.9h-.9zM265.6 49.4h.9v.9h-.9zM271.7 46.2h.9v.9h-.9zM266.5 46.4h.9v.9h-.9zM281.9 61.9h.9v.9h-.9zM278.8 64.3h.9v.9h-.9zM273.6 43.2h.9v.9h-.9zM267.8 53.0h.9v.9h-.9zM280.9 60.7h.9v.9h-.9zM265.9 58.8h.9v.9h-.9zM268.7 56.0h.9v.9h-.9zM280.0 62.8h.9v.9h-.9zM268.8 53.3h.9v.9h-.9zM276.2 48.3h.9v.9h-.9zM273.6 56.0h.9v.9h-.9zM260.1 46.6h.9v.9h-.9zM290.9 54.9h.9v.9h-.9zM268.6 37.4h.9v.9h-.9zM265.4 55.4h.9v.9h-.9zM278.2 54.9h.9v.9h-.9zM277.5 46.9h.9v.9h-.9zM285.3 42.9h.9v.9h-.9zM276.9 49.4h.9v.9h-.9zM259.6 58.4h.9v.9h-.9zM270.7 56.9h.9v.9h-.9zM282.8 52.7h.9v.9h-.9zM267.8 49.8h.9v.9h-.9zM272.4 62.5h.9v.9h-.9zM279.6 63.6h.9v.9h-.9zM278.8 45.6h.9v.9h-.9zM280.1 58.9h.9v.9h-.9zM271.9 55.0h.9v.9h-.9zM270.4 41.8h.9v.9h-.9zM272.2 57.3h.9v.9h-.9zM270.1 34.3h.9v.9h-.9zM266.7 59.8h.9v.9h-.9zM274.6 60.1h.9v.9h-.9zM267.0 48.3h.9v.9h-.9zM265.1 45.5h.9v.9h-.9zM276.9 52.6h.9v.9h-.9zM269.1 53.8h.9v.9h-.9zM262.7 48.5h.9v.9h-.9zM261.2 40.0h.9v.9h-.9zM262.3 43.1h.9v.9h-.9zM285.2 62.0h.9v.9h-.9zM282.7 47.0h.9v.9h-.9zM277.7 42.8h.9v.9h-.9zM268.7 53.3h.9v.9h-.9zM260.4 53.0h.9v.9h-.9zM277.7 35.6h.9v.9h-.9zM253.9 49.4h.9v.9h-.9zM271.9 52.6h.9v.9h-.9zM264.1 55.9h.9v.9h-.9zM273.8 45.9h.9v.9h-.9zM285.7 53.5h.9v.9h-.9zM278.6 65.7h.9v.9h-.9zM269.0 49.8h.9v.9h-.9zM259.4 49.7h.9v.9h-.9zM276.3 70.7h.9v.9h-.9zM277.3 53.0h.9v.9h-.9zM263.0 44.9h.9v.9h-.9zM258.5 40.9h.9v.9h-.9zM273.7 53.8h.9v.9h-.9zM265.8 49.8h.9v.9h-.9zM266.6 56.3h.9v.9h-.9zM277.8 47.2h.9v.9h-.9zM269.3 42.1h.9v.9h-.9zM269.2 68.3h.9v.9h-.9zM272.8 58.1h.9v.9h-.9zM277.4 62.8h.9v.9h-.9zM270.3 44.5h.9v.9h-.9zM281.0 58.6h.9v.9h-.9zM267.7 59.9h.9v.9h-.9zM272.8 51.2h.9v.9h-.9zM287.2 55.6h.9v.9h-.9zM275.3 49.0h.9v.9h-.9zM274.4 59.6h.9v.9h-.9zM276.4 45.7h.9v.9h-.9zM276.4 50.6h.9v.9h-.9zM275.3 50.0h.9v.9h-.9zM255.9 39.1h.9v.9h-.9zM269.9 34.5h.9v.9h-.9zM261.1 67.1h.9v.9h-.9zM278.3 47.9h.9v.9h-.9zM275.4 34.2h.9v.9h-.9zM274.8 59.1h.9v.9h-.9zM274.3 41.4h.9v.9h-.9zM280.4 47.4h.9v.9h-.9zM268.4 53.0h.9v.9h-.9zM270.5 67.2h.9v.9h-.9zM271.8 68.1h.9v.9h-.9zM276.4 41.9h.9v.9h-.9zM272.9 51.9h.9v.9h-.9zM284.1 61.4h.9v.9h-.9zM292.8 46.4h.9v.9h-.9zM269.5 69.5h.9v.9h-.9zM265.9 54.2h.9v.9h-.9zM285.4 43.7h.9v.9h-.9zM270.2 45.7h.9v.9h-.9zM277.0 54.6h.9v.9h-.9zM272.6 56.6h.9v.9h-.9zM266.7 48.6h.9v.9h-.9zM276.5 67.1h.9v.9h-.9zM272.6 52.0h.9v.9h-.9zM283.1 52.1h.9v.9h-.9zM283.0 53.3h.9v.9h-.9zM281.9 52.9h.9v.9h-.9zM265.7 44.9h.9v.9h-.9zM276.2 66.1h.9v.9h-.9zM287.4 49.0h.9v.9h-.9zM292.4 42.9h.9v.9h-.9zM266.2 58.7h.9v.9h-.9zM261.0 58.6h.9v.9h-.9zM275.8 56.4h.9v.9h-.9zM263.4 54.5h.9v.9h-.9zM280.2 51.1h.9v.9h-.9zM280.9 51.7h.9v.9h-.9zM275.6 49.1h.9v.9h-.9zM262.3 50.3h.9v.9h-.9zM276.8 45.6h.9v.9h-.9zM257.6 39.5h.9v.9h-.9zM283.2 49.8h.9v.9h-.9zM266.9 61.1h.9v.9h-.9zM271.5 39.8h.9v.9h-.9zM269.4 44.6h.9v.9h-.9zM271.4 44.4h.9v.9h-.9zM273.4 55.1h.9v.9h-.9zM268.4 49.9h.9v.9h-.9zM271.7 57.9h.9v.9h-.9zM267.2 57.3h.9v.9h-.9zM282.7 50.0h.9v.9h-.9zM265.3 49.1h.9v.9h-.9zM259.0 47.3h.9v.9h-.9zM263.5 50.2h.9v.9h-.9zM270.0 55.5h.9v.9h-.9zM273.8 54.8h.9v.9h-.9zM272.5 53.7h.9v.9h-.9zM264.0 56.6h.9v.9h-.9zM283.1 60.1h.9v.9h-.9zM262.3 54.8h.9v.9h-.9zM260.1 57.4h.9v.9h-.9zM271.3 47.9h.9v.9h-.9zM267.0 49.7h.9v.9h-.9zM272.8 44.0h.9v.9h-.9zM273.3 53.5h.9v.9h-.9zM277.0 51.2h.9v.9h-.9zM272.8 69.5h.9v.9h-.9zM280.8 54.0h.9v.9h-.9zM262.0 56.3h.9v.9h-.9zM277.4 30.8h.9v.9h-.9zM271.6 54.5h.9v.9h-.9zM273.2 52.3h.9v.9h-.9zM271.7 62.3h.9v.9h-.9zM275.9 49.3h.9v.9h-.9zM271.1 67.8h.9v.9h-.9zM266.1 47.4h.9v.9h-.9zM275.4 52.7h.9v.9h-.9zM275.3 62.1h.9v.9h-.9zM281.8 54.8h.9v.9h-.9zM273.2 51.0h.9v.9h-.9zM271.1 59.3h.9v.9h-.9zM262.9 43.4h.9v.9h-.9zM269.3 44.0h.9v.9h-.9zM267.1 60.8h.9v.9h-.9zM255.2 56.0h.9v.9h-.9zM262.6 49.6h.9v.9h-.9zM268.4 43.8h.9v.9h-.9zM261.2 52.1h.9v.9h-.9zM249.6 35.0h.9v.9h-.9zM269.8 60.1h.9v.9h-.9zM287.5 49.2h.9v.9h-.9zM266.6 49.3h.9v.9h-.9zM276.6 58.8h.9v.9h-.9zM265.4 55.2h.9v.9h-.9zM272.7 60.4h.9v.9h-.9zM269.7 49.9h.9v.9h-.9zM266.2 41.2h.9v.9h-.9zM275.0 57.1h.9v.9h-.9zM281.8 53.6h.9v.9h-.9zM269.3 44.3h.9v.9h-.9zM263.8 45.9h.9v.9h-.9zM275.6 52.2h.9v.9h-.9zM254.8 50.7h.9v.9h-.9zM270.6 43.3h.9v.9h-.9zM272.7 55.6h.9v.9h-.9zM264.7 41.0h.9v.9h-.9zM270.4 53.6h.9v.9h-.9zM270.9 63.5h.9v.9h-.9zM274.1 43.7h.9v.9h-.9zM279.0 46.5h.9v.9h-.9zM278.4 52.3h.9v.9h-.9zM282.6 43.7h.9v.9h-.9zM278.6 54.8h.9v.9h-.9zM265.8 57.0h.9v.9h-.9zM290.8 54.3h.9v.9h-.9zM266.9 50.3h.9v.9h-.9zM283.2 53.5h.9v.9h-.9zM284.6 46.4h.9v.9h-.9zM283.3 39.2h.9v.9h-.9zM271.6 49.2h.9v.9h-.9zM269.0 61.1h.9v.9h-.9zM268.2 54.2h.9v.9h-.9zM287.6 57.9h.9v.9h-.9zM269.6 45.8h.9v.9h-.9zM257.1 54.5h.9v.9h-.9zM280.0 60.1h.9v.9h-.9zM274.8 68.3h.9v.9h-.9zM279.1 33.5h.9v.9h-.9zM265.9 57.7h.9v.9h-.9zM269.8 58.0h.9v.9h-.9zM293.3 45.6h.9v.9h-.9zM290.5 50.9h.9v.9h-.9zM261.3 52.3h.9v.9h-.9zM280.1 47.0h.9v.9h-.9zM285.5 44.7h.9v.9h-.9zM271.4 58.7h.9v.9h-.9zM271.3 47.2h.9v.9h-.9zM272.8 56.6h.9v.9h-.9zM286.7 62.1h.9v.9h-.9zM287.8 51.3h.9v.9h-.9zM259.8 51.2h.9v.9h-.9zM269.7 43.7h.9v.9h-.9zM268.9 51.0h.9v.9h-.9zM273.4 58.7h.9v.9h-.9zM265.7 60.5h.9v.9h-.9zM273.3 57.2h.9v.9h-.9zM282.8 41.8h.9v.9h-.9zM285.7 45.9h.9v.9h-.9zM276.1 60.0h.9v.9h-.9zM280.3 39.3h.9v.9h-.9zM274.3 60.4h.9v.9h-.9zM272.0 50.9h.9v.9h-.9zM273.5 64.3h.9v.9h-.9zM268.6 44.1h.9v.9h-.9zM264.2 47.4h.9v.9h-.9zM271.1 54.2h.9v.9h-.9zM272.3 38.1h.9v.9h-.9zM260.4 56.8h.9v.9h-.9zM278.7 40.9h.9v.9h-.9zM280.4 32.5h.9v.9h-.9zM291.5 56.1h.9v.9h-.9zM259.7 55.5h.9v.9h-.9zM272.7 48.0h.9v.9h-.9zM270.0 49.8h.9v.9h-.9zM272.2 44.5h.9v.9h-.9zM268.4 55.9h.9v.9h-.9zM277.2 41.1h.9v.9h-.9zM269.1 63.7h.9v.9h-.9zM278.7 64.4h.9v.9h-.9zM262.2 43.4h.9v.9h-.9zM255.6 36.4h.9v.9h-.9zM270.0 43.3h.9v.9h-.9zM264.3 46.1h.9v.9h-.9zM271.5 58.0h.9v.9h-.9zM277.5 37.8h.9v.9h-.9zM284.9 48.9h.9v.9h-.9zM265.0 51.3h.9v.9h-.9zM269.8 40.7h.9v.9h-.9zM285.4 47.0h.9v.9h-.9zM268.2 55.7h.9v.9h-.9zM286.4 55.3h.9v.9h-.9zM265.8 54.9h.9v.9h-.9zM281.8 54.5h.9v.9h-.9zM278.2 47.8h.9v.9h-.9zM272.4 38.4h.9v.9h-.9zM267.2 42.6h.9v.9h-.9zM273.0 63.2h.9v.9h-.9zM255.0 41.2h.9v.9h-.9zM265.5 50.8h.9v.9h-.9zM282.3 45.4h.9v.9h-.9zM266.7 61.0h.9v.9h-.9zM276.0 55.6h.9v.9h-.9zM279.7 45.7h.9v.9h-.9zM274.8 46.4h.9v.9h-.9zM267.2 52.5h.9v.9h-.9zM276.5 41.5h.9v.9h-.9zM266.8 56.3h.9v.9h-.9zM274.3 56.7h.9v.9h-.9zM270.5 45.2h.9v.9h-.9zM279.3 56.2h.9v.9h-.9zM250.2 58.3h.9v.9h-.9zM266.9 56.7h.9v.9h-.9zM285.6 49.3h.9v.9h-.9zM265.2 53.5h.9v.9h-.9zM273.7 55.9h.9v.9h-.9zM261.7 53.4h.9v.9h-.9zM280.2 57.0h.9v.9h-.9zM278.0 60.9h.9v.9h-.9zM266.4 61.1h.9v.9h-.9zM274.7 43.7h.9v.9h-.9zM270.6 53.6h.9v.9h-.9zM275.7 62.1h.9v.9h-.9zM274.5 47.5h.9v.9h-.9zM290.5 48.9h.9v.9h-.9zM266.4 58.8h.9v.9h-.9zM269.7 45.3h.9v.9h-.9zM264.5 60.8h.9v.9h-.9zM264.5 52.3h.9v.9h-.9zM269.3 50.0h.9v.9h-.9zM266.4 52.7h.9v.9h-.9zM277.8 59.8h.9v.9h-.9zM270.1 42.4h.9v.9h-.9zM261.1 51.6h.9v.9h-.9zM253.1 61.9h.9v.9h-.9zM273.2 52.5h.9v.9h-.9zM261.8 46.5h.9v.9h-.9zM267.0 56.8h.9v.9h-.9zM269.7 56.4h.9v.9h-.9zM277.1 36.5h.9v.9h-.9zM271.1 61.4h.9v.9h-.9zM268.9 52.5h.9v.9h-.9zM272.0 41.9h.9v.9h-.9zM290.5 50.5h.9v.9h-.9zM278.1 48.0h.9v.9h-.9zM284.3 60.5h.9v.9h-.9zM282.5 59.0h.9v.9h-.9zM278.6 62.4h.9v.9h-.9zM276.2 52.6h.9v.9h-.9zM279.5 44.6h.9v.9h-.9zM252.6 57.9h.9v.9h-.9zM274.2 46.1h.9v.9h-.9zM270.8 44.1h.9v.9h-.9zM266.2 53.0h.9v.9h-.9zM274.0 58.1h.9v.9h-.9zM272.3 56.5h.9v.9h-.9zM278.5 46.1h.9v.9h-.9zM259.4 46.2h.9v.9h-.9zM271.0 47.4h.9v.9h-.9zM290.7 46.2h.9v.9h-.9zM276.8 45.6h.9v.9h-.9zM278.5 41.7h.9v.9h-.9zM280.6 53.0h.9v.9h-.9zM269.8 42.2h.9v.9h-.9zM286.4 47.1h.9v.9h-.9zM284.6 32.8h.9v.9h-.9zM263.4 65.7h.9v.9h-.9zM287.3 51.7h.9v.9h-.9zM281.0 56.3h.9v.9h-.9zM270.1 52.6h.9v.9h-.9zM263.8 41.1h.9v.9h-.9zM274.0 57.3h.9v.9h-.9zM274.3 42.0h.9v.9h-.9zM279.8 52.3h.9v.9h-.9zM279.0 49.3h.9v.9h-.9zM270.9 59.8h.9v.9h-.9zM284.0 42.2h.9v.9h-.9zM264.1 59.1h.9v.9h-.9zM275.9 52.0h.9v.9h-.9zM265.1 59.5h.9v.9h-.9zM274.5 53.3h.9v.9h-.9zM276.1 47.5h.9v.9h-.9zM276.2 52.6h.9v.9h-.9zM278.8 54.6h.9v.9h-.9zM262.7 46.1h.9v.9h-.9zM270.8 60.7h.9v.9h-.9zM267.8 60.4h.9v.9h-.9zM281.7 58.4h.9v.9h-.9zM291.1 51.5h.9v.9h-.9zM275.6 61.1h.9v.9h-.9zM276.3 59.3h.9v.9h-.9zM272.0 62.6h.9v.9h-.9zM275.8 36.7h.9v.9h-.9zM281.7 50.1h.9v.9h-.9zM265.9 49.3h.9v.9h-.9zM270.7 60.5h.9v.9h-.9zM275.7 51.1h.9v.9h-.9zM272.9 44.6h.9v.9h-.9zM267.9 48.0h.9v.9h-.9zM271.2 42.5h.9v.9h-.9zM269.8 59.4h.9v.9h-.9zM276.6 51.6h.9v.9h-.9zM275.8 49.7h.9v.9h-.9zM263.5 58.5h.9v.9h-.9zM291.0 55.6h.9v.9h-.9zM278.5 70.7h.9v.9h-.9zM263.3 55.7h.9v.9h-.9zM270.3 49.5h.9v.9h-.9zM259.7 51.0h.9v.9h-.9zM276.2 39.2h.9v.9h-.9zM271.2 47.8h.9v.9h-.9zM265.0 56.5h.9v.9h-.9zM286.2 54.9h.9v.9h-.9zM281.3 57.5h.9v.9h-.9zM272.5 56.1h.9v.9h-.9zM283.6 48.3h.9v.9h-.9zM271.8 40.9h.9v.9h-.9zM258.1 45.3h.9v.9h-.9zM280.2 54.4h.9v.9h-.9zM275.1 61.8h.9v.9h-.9zM258.8 62.3h.9v.9h-.9zM273.7 57.6h.9v.9h-.9zM284.1 45.3h.9v.9h-.9zM266.0 54.7h.9v.9h-.9zM272.5 47.1h.9v.9h-.9zM272.0 46.0h.9v.9h-.9zM274.1 48.6h.9v.9h-.9zM286.7 43.5h.9v.9h-.9zM277.7 52.2h.9v.9h-.9zM285.7 44.1h.9v.9h-.9zM269.3 65.0h.9v.9h-.9zM267.7 48.7h.9v.9h-.9zM269.8 44.0h.9v.9h-.9zM282.8 63.3h.9v.9h-.9zM271.8 45.8h.9v.9h-.9zM262.1 56.7h.9v.9h-.9zM268.7 55.9h.9v.9h-.9zM253.7 48.3h.9v.9h-.9zM278.0 54.8h.9v.9h-.9zM250.0 53.9h.9v.9h-.9zM274.0 51.5h.9v.9h-.9zM270.3 48.2h.9v.9h-.9zM274.2 55.6h.9v.9h-.9zM247.6 51.5h.9v.9h-.9zM280.5 49.9h.9v.9h-.9zM282.8 44.4h.9v.9h-.9zM288.4 59.0h.9v.9h-.9zM269.7 72.9h.9v.9h-.9zM284.6 63.9h.9v.9h-.9zM263.4 50.7h.9v.9h-.9zM276.8 59.7h.9v.9h-.9zM273.6 41.6h.9v.9h-.9zM282.8 50.3h.9v.9h-.9zM276.5 49.1h.9v.9h-.9zM272.1 41.0h.9v.9h-.9zM278.4 46.8h.9v.9h-.9zM258.7 54.8h.9v.9h-.9zM272.7 59.0h.9v.9h-.9zM279.6 42.2h.9v.9h-.9zM271.6 51.6h.9v.9h-.9zM273.7 43.5h.9v.9h-.9zM273.6 59.2h.9v.9h-.9zM283.0 62.9h.9v.9h-.9zM279.1 32.1h.9v.9h-.9zM270.8 47.4h.9v.9h-.9zM249.7 63.5h.9v.9h-.9zM280.3 51.5h.9v.9h-.9zM275.9 55.3h.9v.9h-.9zM271.3 62.2h.9v.9h-.9zM287.7 57.9h.9v.9h-.9zM268.5 53.5h.9v.9h-.9zM280.9 57.1h.9v.9h-.9zM267.5 59.0h.9v.9h-.9zM278.8 56.1h.9v.9h-.9zM269.6 51.4h.9v.9h-.9zM257.7 51.4h.9v.9h-.9zM269.4 49.3h.9v.9h-.9zM270.7 49.1h.9v.9h-.9zM273.7 52.3h.9v.9h-.9zM268.1 50.6h.9v.9h-.9zM272.3 55.4h.9v.9h-.9zM276.5 48.8h.9v.9h-.9zM266.4 38.9h.9v.9h-.9zM263.0 54.7h.9v.9h-.9zM265.6 64.0h.9v.9h-.9zM271.7 48.6h.9v.9h-.9zM271.7 47.4h.9v.9h-.9zM267.9 52.1h.9v.9h-.9zM261.4 52.6h.9v.9h-.9zM272.3 44.6h.9v.9h-.9zM281.2 54.4h.9v.9h-.9zM281.7 46.4h.9v.9h-.9zM263.0 42.4h.9v.9h-.9zM260.4 37.0h.9v.9h-.9zM285.6 47.9h.9v.9h-.9zM274.6 47.5h.9v.9h-.9zM271.8 63.7h.9v.9h-.9zM259.1 44.0h.9v.9h-.9zM274.1 44.6h.9v.9h-.9zM278.6 61.6h.9v.9h-.9zM280.2 57.4h.9v.9h-.9zM271.7 59.3h.9v.9h-.9zM266.6 42.4h.9v.9h-.9zM270.9 49.6h.9v.9h-.9zM282.8 44.0h.9v.9h-.9zM282.2 45.6h.9v.9h-.9zM262.9 38.5h.9v.9h-.9zM272.7 40.4h.9v.9h-.9zM274.7 51.9h.9v.9h-.9zM269.8 36.7h.9v.9h-.9zM268.8 55.0h.9v.9h-.9zM258.7 56.9h.9v.9h-.9zM273.1 47.4h.9v.9h-.9zM274.6 56.6h.9v.9h-.9zM272.8 45.6h.9v.9h-.9zM279.3 46.3h.9v.9h-.9zM275.9 59.1h.9v.9h-.9zM283.5 63.8h.9v.9h-.9zM281.2 52.7h.9v.9h-.9zM271.4 53.0h.9v.9h-.9zM277.2 74.6h.9v.9h-.9zM278.3 45.2h.9v.9h-.9zM285.2 39.3h.9v.9h-.9zM281.1 41.7h.9v.9h-.9zM264.3 47.7h.9v.9h-.9zM270.7 41.2h.9v.9h-.9zM278.0 50.7h.9v.9h-.9zM283.8 43.7h.9v.9h-.9zM258.5 56.9h.9v.9h-.9zM271.2 59.1h.9v.9h-.9zM254.2 41.9h.9v.9h-.9zM273.7 66.6h.9v.9h-.9zM263.1 36.9h.9v.9h-.9zM269.4 62.5h.9v.9h-.9zM285.7 41.1h.9v.9h-.9zM268.1 37.4h.9v.9h-.9zM266.2 44.1h.9v.9h-.9zM276.4 60.3h.9v.9h-.9zM292.1 48.8h.9v.9h-.9zM279.6 53.2h.9v.9h-.9zM274.0 66.5h.9v.9h-.9zM278.6 63.6h.9v.9h-.9zM275.4 58.2h.9v.9h-.9zM277.1 50.8h.9v.9h-.9zM267.4 48.4h.9v.9h-.9zM273.1 48.6h.9v.9h-.9zM270.3 46.1h.9v.9h-.9zM279.9 49.7h.9v.9h-.9zM272.1 49.9h.9v.9h-.9zM283.5 47.4h.9v.9h-.9zM284.3 44.9h.9v.9h-.9zM285.3 56.3h.9v.9h-.9zM269.1 55.1h.9v.9h-.9zM282.1 44.2h.9v.9h-.9zM271.2 53.9h.9v.9h-.9zM271.3 49.3h.9v.9h-.9zM273.2 54.0h.9v.9h-.9zM279.2 62.9h.9v.9h-.9zM270.4 74.2h.9v.9h-.9zM270.4 65.2h.9v.9h-.9zM272.0 40.3h.9v.9h-.9zM269.5 48.9h.9v.9h-.9zM281.6 36.0h.9v.9h-.9zM267.9 50.5h.9v.9h-.9zM278.3 54.6h.9v.9h-.9zM279.9 50.3h.9v.9h-.9zM271.1 60.8h.9v.9h-.9zM286.8 54.5h.9v.9h-.9zM274.3 44.9h.9v.9h-.9zM289.9 54.6h.9v.9h-.9zM278.0 39.2h.9v.9h-.9zM277.9 70.3h.9v.9h-.9zM271.7 50.0h.9v.9h-.9zM285.3 50.1h.9v.9h-.9zM279.8 66.5h.9v.9h-.9zM263.7 45.1h.9v.9h-.9zM278.5 52.4h.9v.9h-.9zM273.3 50.2h.9v.9h-.9zM274.1 54.3h.9v.9h-.9zM269.2 49.4h.9v.9h-.9zM274.9 43.1h.9v.9h-.9zM276.6 34.6h.9v.9h-.9zM278.1 50.6h.9v.9h-.9zM263.6 61.9h.9v.9h-.9zM263.7 67.5h.9v.9h-.9zM267.2 60.9h.9v.9h-.9zM272.5 64.0h.9v.9h-.9zM271.3 59.5h.9v.9h-.9zM270.5 37.1h.9v.9h-.9zM276.1 55.2h.9v.9h-.9zM276.2 64.4h.9v.9h-.9zM267.2 40.5h.9v.9h-.9zM275.1 46.2h.9v.9h-.9zM272.2 51.5h.9v.9h-.9zM266.5 60.0h.9v.9h-.9zM272.1 65.4h.9v.9h-.9zM275.0 59.7h.9v.9h-.9zM270.7 46.4h.9v.9h-.9zM268.8 44.7h.9v.9h-.9zM276.6 52.6h.9v.9h-.9zM264.4 39.6h.9v.9h-.9zM266.2 37.4h.9v.9h-.9zM266.0 39.8h.9v.9h-.9zM278.7 42.6h.9v.9h-.9zM268.3 50.6h.9v.9h-.9zM273.3 54.8h.9v.9h-.9zM279.1 56.5h.9v.9h-.9zM270.3 61.2h.9v.9h-.9zM276.0 46.1h.9v.9h-.9zM284.9 42.4h.9v.9h-.9zM276.8 61.2h.9v.9h-.9zM273.9 54.2h.9v.9h-.9zM274.0 56.7h.9v.9h-.9zM274.8 51.6h.9v.9h-.9zM278.6 36.9h.9v.9h-.9zM275.0 49.2h.9v.9h-.9zM288.6 53.8h.9v.9h-.9zM267.8 56.6h.9v.9h-.9zM270.0 42.4h.9v.9h-.9zM270.8 55.4h.9v.9h-.9zM282.5 59.6h.9v.9h-.9zM274.9 50.3h.9v.9h-.9zM274.6 60.9h.9v.9h-.9zM272.0 60.5h.9v.9h-.9zM266.7 51.4h.9v.9h-.9zM279.2 57.0h.9v.9h-.9zM274.6 47.6h.9v.9h-.9zM258.8 48.1h.9v.9h-.9zM266.3 48.4h.9v.9h-.9zM285.6 45.6h.9v.9h-.9zM279.8 51.4h.9v.9h-.9zM264.3 52.4h.9v.9h-.9zM279.0 42.4h.9v.9h-.9zM263.9 48.6h.9v.9h-.9zM278.8 46.9h.9v.9h-.9zM276.4 55.1h.9v.9h-.9zM273.1 55.0h.9v.9h-.9zM283.1 50.0h.9v.9h-.9zM275.6 43.3h.9v.9h-.9zM267.3 50.8h.9v.9h-.9zM279.5 46.3h.9v.9h-.9zM262.1 58.7h.9v.9h-.9zM291.8 31.6h.9v.9h-.9zM264.7 52.5h.9v.9h-.9zM276.9 44.2h.9v.9h-.9zM275.7 60.0h.9v.9h-.9zM270.9 57.2h.9v.9h-.9zM274.0 44.3h.9v.9h-.9zM268.2 46.8h.9v.9h-.9zM283.5 60.4h.9v.9h-.9zM274.9 39.5h.9v.9h-.9zM269.2 48.4h.9v.9h-.9zM257.9 51.4h.9v.9h-.9zM275.3 41.3h.9v.9h-.9zM269.7 48.0h.9v.9h-.9zM287.6 56.6h.9v.9h-.9zM279.1 52.2h.9v.9h-.9zM263.0 58.6h.9v.9h-.9zM267.7 36.7h.9v.9h-.9zM278.8 48.9h.9v.9h-.9zM273.0 55.5h.9v.9h-.9zM271.2 54.7h.9v.9h-.9zM283.2 49.0h.9v.9h-.9zM270.3 51.7h.9v.9h-.9zM278.1 48.4h.9v.9h-.9zM273.7 46.3h.9v.9h-.9zM272.4 55.7h.9v.9h-.9zM266.6 50.1h.9v.9h-.9zM261.6 46.1h.9v.9h-.9zM273.6 55.6h.9v.9h-.9zM265.0 50.7h.9v.9h-.9zM265.8 54.0h.9v.9h-.9zM275.1 54.9h.9v.9h-.9zM271.4 40.6h.9v.9h-.9zM268.6 41.2h.9v.9h-.9zM267.7 51.1h.9v.9h-.9zM281.5 46.6h.9v.9h-.9zM267.0 53.1h.9v.9h-.9zM256.9 66.8h.9v.9h-.9zM261.0 59.3h.9v.9h-.9zM280.7 58.9h.9v.9h-.9zM272.2 57.1h.9v.9h-.9zM270.3 58.9h.9v.9h-.9zM267.9 45.2h.9v.9h-.9zM276.0 48.0h.9v.9h-.9zM278.3 44.9h.9v.9h-.9zM275.1 44.0h.9v.9h-.9zM272.2 68.0h.9v.9h-.9zM264.6 42.1h.9v.9h-.9zM260.5 49.8h.9v.9h-.9zM285.7 48.0h.9v.9h-.9zM280.3 50.1h.9v.9h-.9zM268.1 66.9h.9v.9h-.9zM281.4 37.4h.9v.9h-.9zM265.4 54.7h.9v.9h-.9zM278.1 49.8h.9v.9h-.9zM275.5 55.6h.9v.9h-.9zM270.3 59.2h.9v.9h-.9zM266.4 57.3h.9v.9h-.9zM280.1 53.1h.9v.9h-.9zM270.3 51.4h.9v.9h-.9zM255.8 53.5h.9v.9h-.9zM262.0 36.0h.9v.9h-.9zM279.0 44.5h.9v.9h-.9zM275.8 51.9h.9v.9h-.9zM259.3 44.6h.9v.9h-.9zM270.9 55.1h.9v.9h-.9zM273.6 41.8h.9v.9h-.9zM268.9 52.3h.9v.9h-.9zM263.1 48.1h.9v.9h-.9zM268.8 35.2h.9v.9h-.9zM286.4 58.2h.9v.9h-.9zM269.4 58.8h.9v.9h-.9zM264.9 63.3h.9v.9h-.9zM270.1 52.6h.9v.9h-.9zM268.5 52.2h.9v.9h-.9zM275.6 51.8h.9v.9h-.9zM266.6 57.3h.9v.9h-.9zM277.3 51.5h.9v.9h-.9zM281.2 45.8h.9v.9h-.9zM282.9 50.3h.9v.9h-.9zM284.8 48.1h.9v.9h-.9zM271.1 53.1h.9v.9h-.9zM281.5 62.6h.9v.9h-.9zM269.5 45.9h.9v.9h-.9zM278.9 61.0h.9v.9h-.9zM278.5 49.0h.9v.9h-.9zM282.9 51.3h.9v.9h-.9zM274.3 56.3h.9v.9h-.9zM268.6 34.1h.9v.9h-.9zM274.7 57.0h.9v.9h-.9zM276.4 55.7h.9v.9h-.9zM274.3 59.5h.9v.9h-.9zM273.9 63.0h.9v.9h-.9zM273.4 57.6h.9v.9h-.9zM268.7 53.8h.9v.9h-.9zM276.3 52.6h.9v.9h-.9zM285.0 51.9h.9v.9h-.9zM281.7 54.2h.9v.9h-.9zM281.5 44.6h.9v.9h-.9zM270.2 58.9h.9v.9h-.9zM266.7 54.5h.9v.9h-.9zM277.4 53.0h.9v.9h-.9zM276.4 55.7h.9v.9h-.9zM271.2 54.7h.9v.9h-.9zM269.0 48.0h.9v.9h-.9zM260.7 50.7h.9v.9h-.9zM259.9 51.7h.9v.9h-.9zM274.6 43.2h.9v.9h-.9zM273.6 53.7h.9v.9h-.9zM270.3 44.5h.9v.9h-.9zM272.2 54.7h.9v.9h-.9zM280.2 66.4h.9v.9h-.9zM257.7 54.1h.9v.9h-.9zM276.4 46.6h.9v.9h-.9zM275.5 67.6h.9v.9h-.9zM273.9 62.0h.9v.9h-.9zM281.3 48.1h.9v.9h-.9zM255.1 60.4h.9v.9h-.9zM284.9 38.0h.9v.9h-.9zM271.5 46.1h.9v.9h-.9zM274.6 52.0h.9v.9h-.9zM281.9 47.0h.9v.9h-.9zM287.9 38.4h.9v.9h-.9zM274.7 72.1h.9v.9h-.9zM272.3 56.3h.9v.9h-.9zM269.4 76.9h.9v.9h-.9zM279.9 48.8h.9v.9h-.9zM258.2 53.1h.9v.9h-.9zM278.7 35.8h.9v.9h-.9zM269.2 55.8h.9v.9h-.9zM254.4 50.0h.9v.9h-.9zM260.7 41.2h.9v.9h-.9zM276.2 60.3h.9v.9h-.9zM282.0 46.5h.9v.9h-.9zM276.9 37.9h.9v.9h-.9zM261.6 55.7h.9v.9h-.9zM269.9 43.7h.9v.9h-.9zM258.5 49.7h.9v.9h-.9zM290.3 36.0h.9v.9h-.9zM264.9 60.2h.9v.9h-.9zM258.2 46.7h.9v.9h-.9zM273.5 60.2h.9v.9h-.9zM272.4 65.6h.9v.9h-.9zM272.8 50.6h.9v.9h-.9zM276.4 54.2h.9v.9h-.9zM261.4 44.2h.9v.9h-.9zM271.2 54.1h.9v.9h-.9zM263.5 46.0h.9v.9h-.9zM267.2 54.1h.9v.9h-.9zM269.7 56.2h.9v.9h-.9zM276.0 44.4h.9v.9h-.9zM270.7 41.9h.9v.9h-.9zM273.8 57.8h.9v.9h-.9zM265.4 37.8h.9v.9h-.9zM277.0 49.3h.9v.9h-.9zM272.8 55.1h.9v.9h-.9zM275.9 58.7h.9v.9h-.9zM269.5 34.5h.9v.9h-.9zM269.2 49.1h.9v.9h-.9zM269.8 54.5h.9v.9h-.9zM271.1 61.5h.9v.9h-.9zM268.1 51.4h.9v.9h-.9zM270.2 67.9h.9v.9h-.9zM265.6 43.8h.9v.9h-.9zM270.0 57.4h.9v.9h-.9zM273.1 50.1h.9v.9h-.9zM261.6 35.4h.9v.9h-.9zM271.3 49.7h.9v.9h-.9zM286.7 54.4h.9v.9h-.9zM276.3 59.0h.9v.9h-.9zM266.0 42.0h.9v.9h-.9zM270.1 63.0h.9v.9h-.9zM280.7 47.0h.9v.9h-.9zM263.3 58.7h.9v.9h-.9zM281.5 43.0h.9v.9h-.9zM285.5 45.5h.9v.9h-.9zM278.8 49.9h.9v.9h-.9zM270.4 46.8h.9v.9h-.9zM278.4 56.3h.9v.9h-.9zM279.3 49.3h.9v.9h-.9zM266.4 68.1h.9v.9h-.9zM286.4 50.0h.9v.9h-.9zM264.1 63.1h.9v.9h-.9zM274.0 51.9h.9v.9h-.9zM279.7 54.2h.9v.9h-.9zM273.9 66.9h.9v.9h-.9zM258.2 56.5h.9v.9h-.9zM265.3 52.1h.9v.9h-.9zM271.7 53.6h.9v.9h-.9zM254.1 56.9h.9v.9h-.9zM291.2 48.3h.9v.9h-.9zM280.1 56.4h.9v.9h-.9zM275.3 47.6h.9v.9h-.9zM278.0 53.6h.9v.9h-.9zM284.3 58.0h.9v.9h-.9zM267.4 28.8h.9v.9h-.9zM284.8 55.3h.9v.9h-.9zM274.4 46.8h.9v.9h-.9zM292.7 61.9h.9v.9h-.9zM273.8 48.6h.9v.9h-.9zM277.5 62.1h.9v.9h-.9zM277.1 58.8h.9v.9h-.9zM275.1 54.3h.9v.9h-.9zM263.0 52.5h.9v.9h-.9zM273.4 50.9h.9v.9h-.9zM271.1 53.9h.9v.9h-.9zM268.5 50.0h.9v.9h-.9zM262.7 69.5h.9v.9h-.9zM266.0 42.1h.9v.9h-.9zM268.8 48.3h.9v.9h-.9zM264.5 32.5h.9v.9h-.9zM285.9 59.4h.9v.9h-.9zM270.0 55.8h.9v.9h-.9zM264.2 38.9h.9v.9h-.9zM275.6 56.0h.9v.9h-.9zM267.6 51.5h.9v.9h-.9zM248.7 50.5h.9v.9h-.9zM281.3 52.8h.9v.9h-.9zM274.4 56.0h.9v.9h-.9zM256.5 41.5h.9v.9h-.9zM263.0 53.4h.9v.9h-.9zM268.0 36.8h.9v.9h-.9zM280.0 50.0h.9v.9h-.9zM280.9 67.1h.9v.9h-.9zM259.9 41.6h.9v.9h-.9zM281.5 62.5h.9v.9h-.9zM276.1 54.3h.9v.9h-.9zM278.5 56.6h.9v.9h-.9zM262.9 57.3h.9v.9h-.9zM280.8 48.3h.9v.9h-.9zM265.8 47.7h.9v.9h-.9zM268.3 55.6h.9v.9h-.9zM279.1 51.7h.9v.9h-.9zM270.6 37.7h.9v.9h-.9zM269.6 43.8h.9v.9h-.9zM268.6 54.2h.9v.9h-.9zM274.3 78.7h.9v.9h-.9zM266.1 47.3h.9v.9h-.9zM263.9 49.5h.9v.9h-.9zM270.7 59.3h.9v.9h-.9zM257.5 58.6h.9v.9h-.9zM278.1 47.4h.9v.9h-.9zM267.6 53.0h.9v.9h-.9zM277.1 50.3h.9v.9h-.9zM271.8 51.6h.9v.9h-.9zM264.4 53.6h.9v.9h-.9zM277.6 51.9h.9v.9h-.9zM263.9 51.5h.9v.9h-.9zM272.1 54.0h.9v.9h-.9zM269.7 57.9h.9v.9h-.9zM281.6 57.9h.9v.9h-.9zM274.8 60.9h.9v.9h-.9zM272.7 50.2h.9v.9h-.9zM261.6 51.7h.9v.9h-.9zM282.6 44.1h.9v.9h-.9zM279.2 41.7h.9v.9h-.9zM275.4 65.6h.9v.9h-.9zM273.3 42.5h.9v.9h-.9zM275.3 50.4h.9v.9h-.9zM279.3 47.5h.9v.9h-.9zM259.2 47.8h.9v.9h-.9zM277.7 59.4h.9v.9h-.9zM275.2 51.7h.9v.9h-.9zM278.4 50.0h.9v.9h-.9zM269.4 53.3h.9v.9h-.9zM281.7 47.7h.9v.9h-.9zM276.9 46.6h.9v.9h-.9zM267.1 52.8h.9v.9h-.9zM262.4 45.0h.9v.9h-.9zM263.5 46.9h.9v.9h-.9zM265.7 69.4h.9v.9h-.9zM277.8 52.1h.9v.9h-.9zM262.3 33.3h.9v.9h-.9zM276.5 46.7h.9v.9h-.9zM281.3 48.5h.9v.9h-.9zM262.6 46.6h.9v.9h-.9zM260.8 40.7h.9v.9h-.9zM278.6 47.5h.9v.9h-.9zM278.4 47.2h.9v.9h-.9zM271.1 47.3h.9v.9h-.9zM268.6 46.5h.9v.9h-.9zM284.8 51.1h.9v.9h-.9zM257.5 64.5h.9v.9h-.9zM282.9 60.1h.9v.9h-.9zM272.1 50.3h.9v.9h-.9zM269.1 52.5h.9v.9h-.9z" fill="#000" fill-opacity="0.58"/>
<path d="M278.8 51.5h.9v.9h-.9zM264.0 41.1h.9v.9h-.9zM292.5 69.7h.9v.9h-.9zM259.2 44.7h.9v.9h-.9zM272.9 57.8h.9v.9h-.9zM272.1 54.1h.9v.9h-.9zM277.6 63.8h.9v.9h-.9zM258.5 63.3h.9v.9h-.9zM278.4 57.3h.9v.9h-.9zM256.2 49.1h.9v.9h-.9zM270.4 58.4h.9v.9h-.9zM281.2 58.9h.9v.9h-.9zM258.6 65.0h.9v.9h-.9zM274.2 61.5h.9v.9h-.9zM273.3 44.0h.9v.9h-.9zM303.4 58.6h.9v.9h-.9zM282.1 46.6h.9v.9h-.9zM270.8 63.4h.9v.9h-.9zM278.5 70.2h.9v.9h-.9zM287.1 40.0h.9v.9h-.9zM255.7 63.9h.9v.9h-.9zM280.3 48.8h.9v.9h-.9zM270.0 45.6h.9v.9h-.9zM293.9 49.8h.9v.9h-.9zM257.6 61.2h.9v.9h-.9zM272.4 55.3h.9v.9h-.9zM269.0 51.1h.9v.9h-.9zM251.8 57.3h.9v.9h-.9zM265.5 47.5h.9v.9h-.9zM277.0 65.2h.9v.9h-.9zM248.7 50.1h.9v.9h-.9zM279.6 62.4h.9v.9h-.9zM262.9 55.0h.9v.9h-.9zM277.9 61.5h.9v.9h-.9zM266.2 49.6h.9v.9h-.9zM267.5 63.7h.9v.9h-.9zM285.8 46.9h.9v.9h-.9zM271.8 53.9h.9v.9h-.9zM263.0 50.4h.9v.9h-.9zM283.2 59.8h.9v.9h-.9zM265.5 44.7h.9v.9h-.9zM272.0 36.0h.9v.9h-.9zM276.9 52.8h.9v.9h-.9zM258.0 49.1h.9v.9h-.9zM265.7 48.7h.9v.9h-.9zM263.3 66.0h.9v.9h-.9zM262.3 59.6h.9v.9h-.9zM275.7 66.8h.9v.9h-.9zM272.6 51.6h.9v.9h-.9zM274.1 31.7h.9v.9h-.9zM300.9 49.3h.9v.9h-.9zM269.7 39.7h.9v.9h-.9zM271.7 68.6h.9v.9h-.9zM264.6 56.2h.9v.9h-.9zM285.1 61.6h.9v.9h-.9zM268.7 33.2h.9v.9h-.9zM278.0 57.6h.9v.9h-.9zM269.6 47.1h.9v.9h-.9zM293.4 35.0h.9v.9h-.9zM267.4 45.2h.9v.9h-.9zM255.4 44.3h.9v.9h-.9zM264.1 64.7h.9v.9h-.9zM253.3 37.2h.9v.9h-.9zM276.3 35.4h.9v.9h-.9zM250.3 45.1h.9v.9h-.9zM259.5 41.4h.9v.9h-.9zM271.5 56.4h.9v.9h-.9zM265.9 48.7h.9v.9h-.9zM281.5 50.0h.9v.9h-.9zM281.7 45.5h.9v.9h-.9zM278.9 65.0h.9v.9h-.9zM257.4 83.0h.9v.9h-.9zM269.6 48.1h.9v.9h-.9zM271.4 56.5h.9v.9h-.9zM259.4 52.0h.9v.9h-.9zM266.6 66.6h.9v.9h-.9zM253.5 58.4h.9v.9h-.9zM269.7 43.8h.9v.9h-.9zM274.9 49.1h.9v.9h-.9zM273.8 54.1h.9v.9h-.9zM287.1 47.4h.9v.9h-.9zM292.5 23.4h.9v.9h-.9zM294.2 64.3h.9v.9h-.9zM291.2 53.7h.9v.9h-.9zM276.5 41.1h.9v.9h-.9zM288.6 39.5h.9v.9h-.9zM264.2 51.6h.9v.9h-.9zM276.0 55.2h.9v.9h-.9zM259.9 48.0h.9v.9h-.9zM278.9 64.0h.9v.9h-.9zM282.1 56.0h.9v.9h-.9zM270.3 46.0h.9v.9h-.9zM267.4 50.7h.9v.9h-.9zM279.3 46.4h.9v.9h-.9zM296.9 41.2h.9v.9h-.9zM282.6 49.5h.9v.9h-.9zM271.7 47.7h.9v.9h-.9zM290.9 48.5h.9v.9h-.9zM279.6 52.9h.9v.9h-.9zM281.9 57.8h.9v.9h-.9zM292.2 44.0h.9v.9h-.9zM263.9 69.3h.9v.9h-.9zM287.9 52.4h.9v.9h-.9zM270.0 54.3h.9v.9h-.9zM288.2 43.7h.9v.9h-.9zM289.9 51.1h.9v.9h-.9zM269.1 47.5h.9v.9h-.9zM249.3 55.0h.9v.9h-.9zM258.2 45.8h.9v.9h-.9zM263.0 54.1h.9v.9h-.9zM281.6 52.1h.9v.9h-.9zM275.5 55.9h.9v.9h-.9zM291.7 57.7h.9v.9h-.9zM291.3 51.0h.9v.9h-.9zM277.3 44.9h.9v.9h-.9zM280.1 42.8h.9v.9h-.9zM278.7 45.1h.9v.9h-.9zM269.2 64.3h.9v.9h-.9zM275.0 59.9h.9v.9h-.9zM270.5 32.3h.9v.9h-.9zM290.2 49.8h.9v.9h-.9zM265.9 61.5h.9v.9h-.9zM260.3 43.9h.9v.9h-.9zM286.4 44.4h.9v.9h-.9zM286.2 48.5h.9v.9h-.9zM270.9 52.4h.9v.9h-.9zM267.6 62.8h.9v.9h-.9zM285.8 52.4h.9v.9h-.9zM280.3 57.3h.9v.9h-.9zM292.6 35.2h.9v.9h-.9zM285.0 61.1h.9v.9h-.9zM269.7 51.8h.9v.9h-.9zM269.3 64.5h.9v.9h-.9zM260.2 58.0h.9v.9h-.9zM288.0 57.6h.9v.9h-.9zM267.8 46.9h.9v.9h-.9zM249.0 41.0h.9v.9h-.9zM285.8 41.9h.9v.9h-.9zM254.5 49.1h.9v.9h-.9zM256.2 56.4h.9v.9h-.9zM263.3 61.5h.9v.9h-.9zM271.9 37.0h.9v.9h-.9zM264.5 45.0h.9v.9h-.9zM263.6 64.5h.9v.9h-.9zM261.8 55.5h.9v.9h-.9zM266.6 57.8h.9v.9h-.9zM256.9 35.5h.9v.9h-.9zM279.2 66.5h.9v.9h-.9zM257.4 48.4h.9v.9h-.9zM267.5 42.0h.9v.9h-.9zM284.4 52.2h.9v.9h-.9zM257.4 49.4h.9v.9h-.9zM288.6 44.3h.9v.9h-.9zM267.4 43.1h.9v.9h-.9zM275.2 45.9h.9v.9h-.9zM283.5 43.1h.9v.9h-.9zM256.6 56.4h.9v.9h-.9zM236.9 41.8h.9v.9h-.9zM276.5 54.2h.9v.9h-.9zM266.7 47.1h.9v.9h-.9zM279.3 90.3h.9v.9h-.9zM264.1 49.8h.9v.9h-.9zM268.1 57.4h.9v.9h-.9zM273.4 57.4h.9v.9h-.9zM292.0 48.9h.9v.9h-.9zM270.0 55.6h.9v.9h-.9zM297.4 48.0h.9v.9h-.9zM292.7 64.0h.9v.9h-.9zM241.9 41.4h.9v.9h-.9zM262.1 55.8h.9v.9h-.9zM288.5 52.3h.9v.9h-.9zM275.2 74.1h.9v.9h-.9zM277.4 74.0h.9v.9h-.9zM263.0 68.8h.9v.9h-.9zM267.5 26.5h.9v.9h-.9zM263.8 46.8h.9v.9h-.9zM272.8 59.5h.9v.9h-.9zM281.2 57.1h.9v.9h-.9zM264.7 70.2h.9v.9h-.9zM287.1 52.1h.9v.9h-.9zM266.8 51.2h.9v.9h-.9zM270.8 44.5h.9v.9h-.9zM273.2 44.8h.9v.9h-.9zM280.7 44.9h.9v.9h-.9zM278.9 55.0h.9v.9h-.9zM275.2 57.1h.9v.9h-.9zM261.5 78.4h.9v.9h-.9zM265.4 59.3h.9v.9h-.9zM273.6 47.2h.9v.9h-.9zM293.3 63.1h.9v.9h-.9zM270.2 57.5h.9v.9h-.9zM281.2 68.1h.9v.9h-.9zM285.0 49.9h.9v.9h-.9zM270.4 39.6h.9v.9h-.9zM276.4 60.7h.9v.9h-.9zM268.9 58.6h.9v.9h-.9zM274.9 46.9h.9v.9h-.9zM259.3 63.2h.9v.9h-.9zM302.5 57.4h.9v.9h-.9zM261.0 40.9h.9v.9h-.9zM276.3 58.4h.9v.9h-.9zM290.8 26.6h.9v.9h-.9zM294.6 53.4h.9v.9h-.9zM274.9 55.7h.9v.9h-.9zM269.3 48.7h.9v.9h-.9zM285.5 33.6h.9v.9h-.9zM272.1 57.5h.9v.9h-.9zM254.4 50.0h.9v.9h-.9zM291.0 55.5h.9v.9h-.9zM281.5 59.0h.9v.9h-.9zM275.9 55.4h.9v.9h-.9zM264.0 49.5h.9v.9h-.9zM294.6 38.9h.9v.9h-.9zM271.4 38.5h.9v.9h-.9zM267.2 43.6h.9v.9h-.9zM259.3 54.2h.9v.9h-.9zM262.5 57.2h.9v.9h-.9zM294.2 25.0h.9v.9h-.9zM271.5 29.8h.9v.9h-.9zM272.0 55.6h.9v.9h-.9zM275.8 64.3h.9v.9h-.9zM275.2 33.7h.9v.9h-.9zM290.7 41.8h.9v.9h-.9zM272.3 55.0h.9v.9h-.9zM263.3 52.6h.9v.9h-.9zM290.6 34.1h.9v.9h-.9zM254.2 47.0h.9v.9h-.9zM271.5 38.3h.9v.9h-.9zM246.9 61.2h.9v.9h-.9zM277.9 37.8h.9v.9h-.9zM280.0 51.0h.9v.9h-.9zM275.3 37.7h.9v.9h-.9zM270.9 56.7h.9v.9h-.9zM253.3 40.7h.9v.9h-.9zM284.6 72.5h.9v.9h-.9zM281.0 50.9h.9v.9h-.9zM261.0 47.4h.9v.9h-.9zM270.5 56.3h.9v.9h-.9zM270.5 77.6h.9v.9h-.9zM288.7 28.7h.9v.9h-.9zM260.0 51.6h.9v.9h-.9zM284.7 55.9h.9v.9h-.9zM241.8 34.4h.9v.9h-.9zM289.0 57.8h.9v.9h-.9zM302.9 60.0h.9v.9h-.9zM278.8 67.7h.9v.9h-.9zM268.3 45.9h.9v.9h-.9zM261.8 54.2h.9v.9h-.9zM278.5 61.5h.9v.9h-.9zM290.1 58.2h.9v.9h-.9zM287.6 49.0h.9v.9h-.9zM262.3 59.3h.9v.9h-.9zM285.1 65.7h.9v.9h-.9zM271.6 46.7h.9v.9h-.9zM269.3 55.4h.9v.9h-.9zM272.9 49.7h.9v.9h-.9zM276.4 48.6h.9v.9h-.9zM277.3 45.3h.9v.9h-.9zM255.7 48.4h.9v.9h-.9zM295.2 43.1h.9v.9h-.9zM284.0 65.8h.9v.9h-.9zM267.2 54.3h.9v.9h-.9zM247.2 57.6h.9v.9h-.9zM291.2 53.6h.9v.9h-.9zM250.5 45.5h.9v.9h-.9zM264.9 52.8h.9v.9h-.9zM276.8 47.3h.9v.9h-.9zM269.9 43.0h.9v.9h-.9zM280.1 53.7h.9v.9h-.9zM277.5 46.3h.9v.9h-.9zM279.2 48.5h.9v.9h-.9zM276.9 49.9h.9v.9h-.9zM265.8 40.1h.9v.9h-.9zM252.0 37.2h.9v.9h-.9zM278.8 86.0h.9v.9h-.9zM254.6 43.0h.9v.9h-.9zM273.4 89.2h.9v.9h-.9zM271.1 39.3h.9v.9h-.9zM278.3 73.6h.9v.9h-.9zM241.3 39.2h.9v.9h-.9zM287.7 39.3h.9v.9h-.9zM272.3 44.9h.9v.9h-.9zM282.3 36.2h.9v.9h-.9zM277.1 53.9h.9v.9h-.9zM280.0 56.1h.9v.9h-.9zM275.3 32.8h.9v.9h-.9zM269.8 41.6h.9v.9h-.9zM279.6 49.1h.9v.9h-.9zM275.2 63.2h.9v.9h-.9zM272.2 69.4h.9v.9h-.9zM283.1 35.9h.9v.9h-.9zM266.8 64.5h.9v.9h-.9zM267.7 64.2h.9v.9h-.9zM267.0 50.3h.9v.9h-.9zM285.3 34.9h.9v.9h-.9zM274.4 46.8h.9v.9h-.9zM275.4 69.7h.9v.9h-.9zM279.1 37.2h.9v.9h-.9zM284.6 46.8h.9v.9h-.9zM275.4 63.8h.9v.9h-.9zM269.9 61.7h.9v.9h-.9zM275.5 42.0h.9v.9h-.9zM269.9 37.1h.9v.9h-.9zM287.1 53.3h.9v.9h-.9zM284.6 39.7h.9v.9h-.9zM283.3 38.9h.9v.9h-.9zM276.7 51.4h.9v.9h-.9zM266.7 54.8h.9v.9h-.9zM273.9 42.3h.9v.9h-.9zM264.9 37.7h.9v.9h-.9zM289.3 53.1h.9v.9h-.9zM269.3 58.9h.9v.9h-.9zM263.6 39.2h.9v.9h-.9zM277.6 68.4h.9v.9h-.9zM277.0 53.2h.9v.9h-.9zM293.6 35.1h.9v.9h-.9zM308.7 39.8h.9v.9h-.9zM272.7 37.3h.9v.9h-.9zM259.5 49.0h.9v.9h-.9zM301.6 41.5h.9v.9h-.9z" fill="#000" fill-opacity="0.4"/>
<path d="M253.4 60.6h.9v.9h-.9zM247.7 55.5h.9v.9h-.9zM273.5 36.9h.9v.9h-.9zM257.8 55.2h.9v.9h-.9zM254.8 56.9h.9v.9h-.9zM236.8 53.8h.9v.9h-.9zM254.7 48.1h.9v.9h-.9zM279.7 77.4h.9v.9h-.9zM273.2 49.6h.9v.9h-.9zM281.9 62.8h.9v.9h-.9zM250.5 63.9h.9v.9h-.9zM253.9 63.6h.9v.9h-.9zM274.9 69.2h.9v.9h-.9zM247.2 56.8h.9v.9h-.9zM262.0 46.2h.9v.9h-.9zM267.8 64.7h.9v.9h-.9zM242.6 52.7h.9v.9h-.9zM246.5 45.7h.9v.9h-.9zM247.1 71.3h.9v.9h-.9zM252.7 54.2h.9v.9h-.9zM275.9 67.9h.9v.9h-.9zM281.7 37.9h.9v.9h-.9zM272.6 41.0h.9v.9h-.9zM253.1 54.0h.9v.9h-.9zM254.0 77.0h.9v.9h-.9zM259.7 69.4h.9v.9h-.9zM259.5 57.4h.9v.9h-.9zM269.2 62.3h.9v.9h-.9zM269.0 41.2h.9v.9h-.9zM269.1 61.1h.9v.9h-.9zM270.4 57.5h.9v.9h-.9zM267.7 45.4h.9v.9h-.9zM277.9 46.2h.9v.9h-.9zM281.6 67.8h.9v.9h-.9zM261.1 55.1h.9v.9h-.9zM272.9 55.0h.9v.9h-.9zM245.4 60.7h.9v.9h-.9zM244.9 53.6h.9v.9h-.9zM287.1 65.9h.9v.9h-.9zM255.7 57.3h.9v.9h-.9zM252.9 57.9h.9v.9h-.9zM241.7 64.6h.9v.9h-.9zM262.2 52.1h.9v.9h-.9zM253.4 83.6h.9v.9h-.9zM255.8 53.4h.9v.9h-.9zM253.8 53.2h.9v.9h-.9zM280.3 64.6h.9v.9h-.9zM267.9 61.6h.9v.9h-.9zM246.1 34.5h.9v.9h-.9zM283.1 65.0h.9v.9h-.9z" fill="#000" fill-opacity="0.3"/>
<path d="M226.0 42.6h.9v.9h-.9zM222.5 40.9h.9v.9h-.9zM242.5 80.8h.9v.9h-.9zM222.4 46.8h.9v.9h-.9zM223.3 58.3h.9v.9h-.9zM231.0 48.6h.9v.9h-.9zM244.8 44.7h.9v.9h-.9zM239.7 46.5h.9v.9h-.9zM240.3 45.8h.9v.9h-.9zM227.5 84.5h.9v.9h-.9zM229.5 60.3h.9v.9h-.9zM240.5 85.0h.9v.9h-.9zM237.4 45.2h.9v.9h-.9zM240.7 70.8h.9v.9h-.9zM238.4 57.3h.9v.9h-.9zM245.0 42.8h.9v.9h-.9zM237.3 64.5h.9v.9h-.9zM247.7 75.1h.9v.9h-.9zM228.7 57.2h.9v.9h-.9zM238.7 57.1h.9v.9h-.9z" fill="#000" fill-opacity="0.25"/>
<line x1="249.8" y1="15.7" x2="249.8" y2="102.2" stroke="#222" stroke-width="0.9"/>
<line x1="219" y1="71.6" x2="321.2" y2="71.6" stroke="#222" stroke-width="0.9"/>
<rect x="219" y="15.7" width="102.19999999999999" height="86.5" fill="none" stroke="#000" stroke-width="1.6"/>
<text x="316.8" y="25.5" font-size="10.6" font-weight="bold" text-anchor="end" fill="#000" stroke="#000" stroke-width="0.2">98.8</text>
<text x="270.2" y="10.9" font-size="14" text-anchor="middle" fill="#000" stroke="#000" stroke-width="0.35">Sort</text>
<path d="M209.8 53.0V37.6" stroke="#000" stroke-width="2.0" fill="none"/>
<path d="M205.70000000000002 44.0L209.8 37.199999999999996L213.9 44.0" stroke="#000" stroke-width="2.0" fill="none" stroke-linejoin="miter" stroke-miterlimit="10"/>
<text x="212.2" y="74" font-size="10" font-weight="bold" text-anchor="middle" fill="#000" transform="rotate(-90 212.2 74)" stroke="#000" stroke-width="0.2">SSEA3</text>
<path d="M210.4 98.5V111.7H225" stroke="#000" stroke-width="1.5" fill="none"/>
<text x="255.2" y="117.6" font-size="10.0" font-weight="bold" text-anchor="middle" fill="#000" stroke="#000" stroke-width="0.2">TRA-1-81</text>
<path d="M282 111.4H301.0" stroke="#000" stroke-width="2.1" fill="none"/>
<path d="M293.9 107.30000000000001L301.4 111.4L293.9 115.5" stroke="#000" stroke-width="2.1" fill="none" stroke-linejoin="miter" stroke-miterlimit="10"/>
<path d="M323.5 53.2H355.8" stroke="#000" stroke-width="2.1" fill="none"/>
<path d="M348.7 49.1L356.2 53.2L348.7 57.300000000000004" stroke="#000" stroke-width="2.1" fill="none" stroke-linejoin="miter" stroke-miterlimit="10"/>
<text x="415.6" y="52.8" font-size="14.3" text-anchor="middle" fill="#000" stroke="#000" stroke-width="0.35">Transcriptome</text>
<text x="415.4" y="68.6" font-size="14.4" text-anchor="middle" fill="#000" stroke="#000" stroke-width="0.35">Analysis</text>
<text x="-0.3" y="148.2" font-size="13.6" font-weight="bold" text-anchor="start" fill="#000" stroke="#000" stroke-width="0.6">B</text>
<text x="27.3" y="153.3" font-size="16.2" text-anchor="start" fill="#000" stroke="#000" stroke-width="0.45">(i)</text>
<line x1="32.0" y1="185.0" x2="34.4" y2="185.0" stroke="#000" stroke-width="0.9"/>
<text x="28.4" y="187.8" font-size="7.8" font-weight="bold" text-anchor="end" fill="#000" stroke="#000" stroke-width="0.2">0.12</text>
<line x1="32.0" y1="218.2" x2="34.4" y2="218.2" stroke="#000" stroke-width="0.9"/>
<text x="28.4" y="221.0" font-size="7.8" font-weight="bold" text-anchor="end" fill="#000" stroke="#000" stroke-width="0.2">0.08</text>
<line x1="32.0" y1="251.4" x2="34.4" y2="251.4" stroke="#000" stroke-width="0.9"/>
<text x="28.4" y="254.20000000000002" font-size="7.8" font-weight="bold" text-anchor="end" fill="#000" stroke="#000" stroke-width="0.2">0.04</text>
<line x1="32.0" y1="284.6" x2="34.4" y2="284.6" stroke="#000" stroke-width="0.9"/>
<text x="28.4" y="287.40000000000003" font-size="7.8" font-weight="bold" text-anchor="end" fill="#000" stroke="#000" stroke-width="0.2">0</text>
<line x1="32.0" y1="317.8" x2="34.4" y2="317.8" stroke="#000" stroke-width="0.9"/>
<text x="28.4" y="320.6" font-size="7.8" font-weight="bold" text-anchor="end" fill="#000" stroke="#000" stroke-width="0.2">-0.04</text>
<line x1="32.0" y1="351.0" x2="34.4" y2="351.0" stroke="#000" stroke-width="0.9"/>
<text x="28.4" y="353.8" font-size="7.8" font-weight="bold" text-anchor="end" fill="#000" stroke="#000" stroke-width="0.2">-0.08</text>
<line x1="34.4" y1="351.0" x2="34.4" y2="353.4" stroke="#000" stroke-width="0.9"/>
<text x="34.4" y="363.2" font-size="7.8" font-weight="bold" text-anchor="middle" fill="#000" stroke="#000" stroke-width="0.2">-0.1</text>
<line x1="71.4" y1="351.0" x2="71.4" y2="353.4" stroke="#000" stroke-width="0.9"/>
<text x="71.4" y="363.2" font-size="7.8" font-weight="bold" text-anchor="middle" fill="#000" stroke="#000" stroke-width="0.2">-0.05</text>
<line x1="108.4" y1="351.0" x2="108.4" y2="353.4" stroke="#000" stroke-width="0.9"/>
<text x="108.4" y="363.2" font-size="7.8" font-weight="bold" text-anchor="middle" fill="#000" stroke="#000" stroke-width="0.2">0</text>
<line x1="145.4" y1="351.0" x2="145.4" y2="353.4" stroke="#000" stroke-width="0.9"/>
<text x="145.4" y="363.2" font-size="7.8" font-weight="bold" text-anchor="middle" fill="#000" stroke="#000" stroke-width="0.2">0.05</text>
<line x1="182.4" y1="351.0" x2="182.4" y2="353.4" stroke="#000" stroke-width="0.9"/>
<text x="182.4" y="363.2" font-size="7.8" font-weight="bold" text-anchor="middle" fill="#000" stroke="#000" stroke-width="0.2">0.1</text>
<line x1="219.4" y1="351.0" x2="219.4" y2="353.4" stroke="#000" stroke-width="0.9"/>
<text x="219.4" y="363.2" font-size="7.8" font-weight="bold" text-anchor="middle" fill="#000" stroke="#000" stroke-width="0.2">0.15</text>
<rect x="34.4" y="184.8" width="185.0" height="166.2" fill="none" stroke="#000" stroke-width="1.3"/>
<text x="126.8" y="374.2" font-size="9.15" font-weight="bold" text-anchor="middle" fill="#000" stroke="#000" stroke-width="0.2">PC1 (19.56%)</text>
<text x="7.6" y="267.8" font-size="9.3" font-weight="bold" text-anchor="middle" fill="#000" transform="rotate(-90 7.6 267.8)" stroke="#000" stroke-width="0.2">PC2 (15.15%)</text>
<rect x="162.4" y="184.8" width="57.0" height="44.5" fill="none" stroke="#000" stroke-width="1.0"/>
<ellipse cx="172.8" cy="192.0" rx="3.6" ry="2.7" fill="#000" stroke="#111" stroke-width="0.7"/>
<text x="180.4" y="194.6" font-size="7.2" text-anchor="start" fill="#000" stroke="#000" stroke-width="0.2">CHOPWT1</text>
<ellipse cx="172.8" cy="201.9" rx="3.6" ry="2.7" fill="#e0101a" stroke="#111" stroke-width="0.7"/>
<text x="180.4" y="204.5" font-size="7.2" text-anchor="start" fill="#000" stroke="#000" stroke-width="0.2">CHOPWT2</text>
<ellipse cx="172.8" cy="211.5" rx="3.6" ry="2.7" fill="#2a8a3a" stroke="#111" stroke-width="0.7"/>
<text x="180.4" y="214.1" font-size="7.2" text-anchor="start" fill="#000" stroke="#000" stroke-width="0.2">BMC</text>
<ellipse cx="172.8" cy="220.6" rx="3.6" ry="2.7" fill="#5b8fd0" stroke="#111" stroke-width="0.7"/>
<text x="180.4" y="223.2" font-size="7.2" text-anchor="start" fill="#000" stroke="#000" stroke-width="0.2">ESC</text>
<circle cx="67.2" cy="198.6" r="2.9" fill="#e01020" stroke="#111" stroke-width="1.2"/>
<text x="70.6" y="201.4" font-size="7.6" font-weight="bold" text-anchor="start" fill="#c81a24" stroke="#c81a24" stroke-width="0.2">2.1</text>
<circle cx="65.6" cy="290.4" r="2.9" fill="#e01020" stroke="#111" stroke-width="1.2"/>
<text x="70.0" y="293.8" font-size="7.6" font-weight="bold" text-anchor="start" fill="#c81a24" stroke="#c81a24" stroke-width="0.2">2.2</text>
<circle cx="52.7" cy="329.1" r="2.9" fill="#e01020" stroke="#111" stroke-width="1.2"/>
<text x="57.5" y="334.4" font-size="7.6" font-weight="bold" text-anchor="start" fill="#c81a24" stroke="#c81a24" stroke-width="0.2">2.3</text>
<circle cx="93.1" cy="266.9" r="2.9" fill="#3a9a5a" stroke="#111" stroke-width="1.2"/>
<text x="96.6" y="270.8" font-size="7.6" font-weight="bold" text-anchor="start" fill="#2aa552" stroke="#2aa552" stroke-width="0.2">BMC2</text>
<circle cx="75.6" cy="302.3" r="2.9" fill="#3a9a5a" stroke="#111" stroke-width="1.2"/>
<text x="79.4" y="309.5" font-size="7.6" font-weight="bold" text-anchor="start" fill="#2aa552" stroke="#2aa552" stroke-width="0.2">BMC1</text>
<circle cx="73.6" cy="309.0" r="2.9" fill="#3a9a5a" stroke="#111" stroke-width="1.2"/>
<text x="78.2" y="317.9" font-size="7.6" font-weight="bold" text-anchor="start" fill="#2aa552" stroke="#2aa552" stroke-width="0.2">BMC3</text>
<circle cx="103.0" cy="302.5" r="2.9" fill="#7f9cc0" stroke="#111" stroke-width="1.2"/>
<text x="106.7" y="308.7" font-size="7.6" font-weight="bold" text-anchor="start" fill="#2a70b4" stroke="#2a70b4" stroke-width="0.2">H1</text>
<circle cx="125.5" cy="239.8" r="2.9" fill="#3f7cc0" stroke="#111" stroke-width="1.2"/>
<text x="130.2" y="243.5" font-size="7.6" font-weight="bold" text-anchor="start" fill="#2a70b4" stroke="#2a70b4" stroke-width="0.2">CHB8</text>
<circle cx="153.7" cy="286.5" r="2.9" fill="#3f7cc0" stroke="#111" stroke-width="1.2"/>
<text x="158.7" y="291.9" font-size="7.6" font-weight="bold" text-anchor="start" fill="#2a70b4" stroke="#2a70b4" stroke-width="0.2">H9</text>
<circle cx="164.2" cy="269.3" r="2.9" fill="#000" stroke="#111" stroke-width="1.2"/>
<text x="169.2" y="273.7" font-size="7.6" font-weight="bold" text-anchor="start" fill="#000" stroke="#000" stroke-width="0.2">1.3</text>
<circle cx="177.4" cy="284.1" r="2.9" fill="#000" stroke="#111" stroke-width="1.2"/>
<text x="182.5" y="288.0" font-size="7.6" font-weight="bold" text-anchor="start" fill="#000" stroke="#000" stroke-width="0.2">1.2</text>
<circle cx="148.0" cy="335.4" r="2.9" fill="#000" stroke="#111" stroke-width="1.2"/>
<text x="154.4" y="340.4" font-size="7.6" font-weight="bold" text-anchor="start" fill="#000" stroke="#000" stroke-width="0.2">1.1</text>
<text x="247.0" y="153.3" font-size="16.8" text-anchor="start" fill="#000" stroke="#000" stroke-width="0.45">(ii)</text>
<defs><filter id="hb" x="-2%" y="-2%" width="104%" height="104%"><feGaussianBlur stdDeviation="0.7"/></filter><clipPath id="hc"><rect x="289.5" y="152.0" width="93.30" height="216.40"/></clipPath></defs>
<g clip-path="url(#hc)"><g filter="url(#hb)">
<rect x="288.50" y="151.00" width="11.97" height="5.93" fill="rgb(249, 14, 8)" shape-rendering="crispEdges"/>
<rect x="299.87" y="151.00" width="10.97" height="5.93" fill="rgb(249, 14, 8)" shape-rendering="crispEdges"/>
<rect x="310.23" y="151.00" width="10.97" height="5.93" fill="rgb(232, 34, 9)" shape-rendering="crispEdges"/>
<rect x="320.60" y="151.00" width="10.97" height="5.93" fill="rgb(98, 154, 14)" shape-rendering="crispEdges"/>
<rect x="330.97" y="151.00" width="10.97" height="5.93" fill="rgb(99, 153, 14)" shape-rendering="crispEdges"/>
<rect x="341.33" y="151.00" width="10.97" height="5.93" fill="rgb(103, 150, 14)" shape-rendering="crispEdges"/>
<rect x="351.70" y="151.00" width="10.97" height="5.93" fill="rgb(66, 181, 19)" shape-rendering="crispEdges"/>
<rect x="362.07" y="151.00" width="10.97" height="5.93" fill="rgb(77, 172, 18)" shape-rendering="crispEdges"/>
<rect x="372.43" y="151.00" width="11.97" height="5.93" fill="rgb(66, 181, 19)" shape-rendering="crispEdges"/>
<rect x="288.50" y="156.33" width="11.97" height="4.93" fill="rgb(249, 14, 8)" shape-rendering="crispEdges"/>
<rect x="299.87" y="156.33" width="10.97" height="4.93" fill="rgb(245, 18, 8)" shape-rendering="crispEdges"/>
<rect x="310.23" y="156.33" width="10.97" height="4.93" fill="rgb(242, 22, 8)" shape-rendering="crispEdges"/>
<rect x="320.60" y="156.33" width="10.97" height="4.93" fill="rgb(88, 161, 14)" shape-rendering="crispEdges"/>
<rect x="330.97" y="156.33" width="10.97" height="4.93" fill="rgb(126, 132, 14)" shape-rendering="crispEdges"/>
<rect x="341.33" y="156.33" width="10.97" height="4.93" fill="rgb(125, 133, 14)" shape-rendering="crispEdges"/>
<rect x="351.70" y="156.33" width="10.97" height="4.93" fill="rgb(78, 171, 18)" shape-rendering="crispEdges"/>
<rect x="362.07" y="156.33" width="10.97" height="4.93" fill="rgb(54, 194, 24)" shape-rendering="crispEdges"/>
<rect x="372.43" y="156.33" width="11.97" height="4.93" fill="rgb(66, 181, 19)" shape-rendering="crispEdges"/>
<rect x="288.50" y="160.66" width="11.97" height="4.93" fill="rgb(249, 14, 8)" shape-rendering="crispEdges"/>
<rect x="299.87" y="160.66" width="10.97" height="4.93" fill="rgb(249, 14, 8)" shape-rendering="crispEdges"/>
<rect x="310.23" y="160.66" width="10.97" height="4.93" fill="rgb(247, 16, 8)" shape-rendering="crispEdges"/>
<rect x="320.60" y="160.66" width="10.97" height="4.93" fill="rgb(97, 155, 14)" shape-rendering="crispEdges"/>
<rect x="330.97" y="160.66" width="10.97" height="4.93" fill="rgb(117, 139, 14)" shape-rendering="crispEdges"/>
<rect x="341.33" y="160.66" width="10.97" height="4.93" fill="rgb(100, 152, 14)" shape-rendering="crispEdges"/>
<rect x="351.70" y="160.66" width="10.97" height="4.93" fill="rgb(78, 172, 18)" shape-rendering="crispEdges"/>
<rect x="362.07" y="160.66" width="10.97" height="4.93" fill="rgb(79, 171, 18)" shape-rendering="crispEdges"/>
<rect x="372.43" y="160.66" width="11.97" height="4.93" fill="rgb(66, 181, 19)" shape-rendering="crispEdges"/>
<rect x="288.50" y="164.98" width="11.97" height="4.93" fill="rgb(228, 39, 9)" shape-rendering="crispEdges"/>
<rect x="299.87" y="164.98" width="10.97" height="4.93" fill="rgb(244, 20, 8)" shape-rendering="crispEdges"/>
<rect x="310.23" y="164.98" width="10.97" height="4.93" fill="rgb(242, 23, 8)" shape-rendering="crispEdges"/>
<rect x="320.60" y="164.98" width="10.97" height="4.93" fill="rgb(93, 158, 14)" shape-rendering="crispEdges"/>
<rect x="330.97" y="164.98" width="10.97" height="4.93" fill="rgb(90, 159, 14)" shape-rendering="crispEdges"/>
<rect x="341.33" y="164.98" width="10.97" height="4.93" fill="rgb(92, 158, 14)" shape-rendering="crispEdges"/>
<rect x="351.70" y="164.98" width="10.97" height="4.93" fill="rgb(66, 181, 19)" shape-rendering="crispEdges"/>
<rect x="362.07" y="164.98" width="10.97" height="4.93" fill="rgb(68, 179, 19)" shape-rendering="crispEdges"/>
<rect x="372.43" y="164.98" width="11.97" height="4.93" fill="rgb(68, 179, 19)" shape-rendering="crispEdges"/>
<rect x="288.50" y="169.31" width="11.97" height="4.93" fill="rgb(244, 20, 8)" shape-rendering="crispEdges"/>
<rect x="299.87" y="169.31" width="10.97" height="4.93" fill="rgb(250, 14, 8)" shape-rendering="crispEdges"/>
<rect x="310.23" y="169.31" width="10.97" height="4.93" fill="rgb(249, 14, 8)" shape-rendering="crispEdges"/>
<rect x="320.60" y="169.31" width="10.97" height="4.93" fill="rgb(121, 136, 14)" shape-rendering="crispEdges"/>
<rect x="330.97" y="169.31" width="10.97" height="4.93" fill="rgb(98, 154, 14)" shape-rendering="crispEdges"/>
<rect x="341.33" y="169.31" width="10.97" height="4.93" fill="rgb(126, 133, 14)" shape-rendering="crispEdges"/>
<rect x="351.70" y="169.31" width="10.97" height="4.93" fill="rgb(52, 196, 25)" shape-rendering="crispEdges"/>
<rect x="362.07" y="169.31" width="10.97" height="4.93" fill="rgb(87, 164, 17)" shape-rendering="crispEdges"/>
<rect x="372.43" y="169.31" width="11.97" height="4.93" fill="rgb(66, 181, 19)" shape-rendering="crispEdges"/>
<rect x="288.50" y="173.64" width="11.97" height="4.93" fill="rgb(233, 33, 9)" shape-rendering="crispEdges"/>
<rect x="299.87" y="173.64" width="10.97" height="4.93" fill="rgb(247, 16, 8)" shape-rendering="crispEdges"/>
<rect x="310.23" y="173.64" width="10.97" height="4.93" fill="rgb(249, 14, 8)" shape-rendering="crispEdges"/>
<rect x="320.60" y="173.64" width="10.97" height="4.93" fill="rgb(91, 159, 14)" shape-rendering="crispEdges"/>
<rect x="330.97" y="173.64" width="10.97" height="4.93" fill="rgb(88, 161, 14)" shape-rendering="crispEdges"/>
<rect x="341.33" y="173.64" width="10.97" height="4.93" fill="rgb(88, 161, 14)" shape-rendering="crispEdges"/>
<rect x="351.70" y="173.64" width="10.97" height="4.93" fill="rgb(89, 163, 16)" shape-rendering="crispEdges"/>
<rect x="362.07" y="173.64" width="10.97" height="4.93" fill="rgb(74, 175, 18)" shape-rendering="crispEdges"/>
<rect x="372.43" y="173.64" width="11.97" height="4.93" fill="rgb(66, 181, 19)" shape-rendering="crispEdges"/>
<rect x="288.50" y="177.97" width="11.97" height="4.93" fill="rgb(249, 14, 8)" shape-rendering="crispEdges"/>
<rect x="299.87" y="177.97" width="10.97" height="4.93" fill="rgb(249, 14, 8)" shape-rendering="crispEdges"/>
<rect x="310.23" y="177.97" width="10.97" height="4.93" fill="rgb(249, 14, 8)" shape-rendering="crispEdges"/>
<rect x="320.60" y="177.97" width="10.97" height="4.93" fill="rgb(96, 155, 14)" shape-rendering="crispEdges"/>
<rect x="330.97" y="177.97" width="10.97" height="4.93" fill="rgb(90, 160, 14)" shape-rendering="crispEdges"/>
<rect x="341.33" y="177.97" width="10.97" height="4.93" fill="rgb(91, 159, 14)" shape-rendering="crispEdges"/>
<rect x="351.70" y="177.97" width="10.97" height="4.93" fill="rgb(108, 148, 14)" shape-rendering="crispEdges"/>
<rect x="362.07" y="177.97" width="10.97" height="4.93" fill="rgb(67, 180, 19)" shape-rendering="crispEdges"/>
<rect x="372.43" y="177.97" width="11.97" height="4.93" fill="rgb(66, 181, 19)" shape-rendering="crispEdges"/>
<rect x="288.50" y="182.30" width="11.97" height="4.93" fill="rgb(243, 21, 8)" shape-rendering="crispEdges"/>
<rect x="299.87" y="182.30" width="10.97" height="4.93" fill="rgb(249, 14, 8)" shape-rendering="crispEdges"/>
<rect x="310.23" y="182.30" width="10.97" height="4.93" fill="rgb(249, 14, 8)" shape-rendering="crispEdges"/>
<rect x="320.60" y="182.30" width="10.97" height="4.93" fill="rgb(127, 132, 14)" shape-rendering="crispEdges"/>
<rect x="330.97" y="182.30" width="10.97" height="4.93" fill="rgb(90, 160, 14)" shape-rendering="crispEdges"/>
<rect x="341.33" y="182.30" width="10.97" height="4.93" fill="rgb(91, 159, 14)" shape-rendering="crispEdges"/>
<rect x="351.70" y="182.30" width="10.97" height="4.93" fill="rgb(87, 164, 17)" shape-rendering="crispEdges"/>
<rect x="362.07" y="182.30" width="10.97" height="4.93" fill="rgb(64, 184, 20)" shape-rendering="crispEdges"/>
<rect x="372.43" y="182.30" width="11.97" height="4.93" fill="rgb(75, 174, 18)" shape-rendering="crispEdges"/>
<rect x="288.50" y="186.62" width="11.97" height="4.93" fill="rgb(249, 14, 8)" shape-rendering="crispEdges"/>
<rect x="299.87" y="186.62" width="10.97" height="4.93" fill="rgb(249, 14, 8)" shape-rendering="crispEdges"/>
<rect x="310.23" y="186.62" width="10.97" height="4.93" fill="rgb(247, 16, 8)" shape-rendering="crispEdges"/>
<rect x="320.60" y="186.62" width="10.97" height="4.93" fill="rgb(125, 134, 14)" shape-rendering="crispEdges"/>
<rect x="330.97" y="186.62" width="10.97" height="4.93" fill="rgb(98, 153, 14)" shape-rendering="crispEdges"/>
<rect x="341.33" y="186.62" width="10.97" height="4.93" fill="rgb(102, 150, 14)" shape-rendering="crispEdges"/>
<rect x="351.70" y="186.62" width="10.97" height="4.93" fill="rgb(95, 157, 16)" shape-rendering="crispEdges"/>
<rect x="362.07" y="186.62" width="10.97" height="4.93" fill="rgb(66, 181, 19)" shape-rendering="crispEdges"/>
<rect x="372.43" y="186.62" width="11.97" height="4.93" fill="rgb(91, 161, 16)" shape-rendering="crispEdges"/>
<rect x="288.50" y="190.95" width="11.97" height="4.93" fill="rgb(249, 14, 8)" shape-rendering="crispEdges"/>
<rect x="299.87" y="190.95" width="10.97" height="4.93" fill="rgb(248, 16, 8)" shape-rendering="crispEdges"/>
<rect x="310.23" y="190.95" width="10.97" height="4.93" fill="rgb(231, 35, 9)" shape-rendering="crispEdges"/>
<rect x="320.60" y="190.95" width="10.97" height="4.93" fill="rgb(90, 160, 14)" shape-rendering="crispEdges"/>
<rect x="330.97" y="190.95" width="10.97" height="4.93" fill="rgb(124, 134, 14)" shape-rendering="crispEdges"/>
<rect x="341.33" y="190.95" width="10.97" height="4.93" fill="rgb(119, 138, 14)" shape-rendering="crispEdges"/>
<rect x="351.70" y="190.95" width="10.97" height="4.93" fill="rgb(76, 173, 18)" shape-rendering="crispEdges"/>
<rect x="362.07" y="190.95" width="10.97" height="4.93" fill="rgb(45, 204, 27)" shape-rendering="crispEdges"/>
<rect x="372.43" y="190.95" width="11.97" height="4.93" fill="rgb(66, 181, 19)" shape-rendering="crispEdges"/>
<rect x="288.50" y="195.28" width="11.97" height="4.93" fill="rgb(249, 14, 8)" shape-rendering="crispEdges"/>
<rect x="299.87" y="195.28" width="10.97" height="4.93" fill="rgb(245, 19, 8)" shape-rendering="crispEdges"/>
<rect x="310.23" y="195.28" width="10.97" height="4.93" fill="rgb(245, 19, 8)" shape-rendering="crispEdges"/>
<rect x="320.60" y="195.28" width="10.97" height="4.93" fill="rgb(92, 158, 14)" shape-rendering="crispEdges"/>
<rect x="330.97" y="195.28" width="10.97" height="4.93" fill="rgb(89, 160, 14)" shape-rendering="crispEdges"/>
<rect x="341.33" y="195.28" width="10.97" height="4.93" fill="rgb(110, 145, 14)" shape-rendering="crispEdges"/>
<rect x="351.70" y="195.28" width="10.97" height="4.93" fill="rgb(66, 181, 19)" shape-rendering="crispEdges"/>
<rect x="362.07" y="195.28" width="10.97" height="4.93" fill="rgb(74, 175, 18)" shape-rendering="crispEdges"/>
<rect x="372.43" y="195.28" width="11.97" height="4.93" fill="rgb(76, 173, 18)" shape-rendering="crispEdges"/>
<rect x="288.50" y="199.61" width="11.97" height="4.93" fill="rgb(238, 27, 9)" shape-rendering="crispEdges"/>
<rect x="299.87" y="199.61" width="10.97" height="4.93" fill="rgb(249, 14, 8)" shape-rendering="crispEdges"/>
<rect x="310.23" y="199.61" width="10.97" height="4.93" fill="rgb(249, 14, 8)" shape-rendering="crispEdges"/>
<rect x="320.60" y="199.61" width="10.97" height="4.93" fill="rgb(91, 159, 14)" shape-rendering="crispEdges"/>
<rect x="330.97" y="199.61" width="10.97" height="4.93" fill="rgb(97, 154, 14)" shape-rendering="crispEdges"/>
<rect x="341.33" y="199.61" width="10.97" height="4.93" fill="rgb(88, 161, 14)" shape-rendering="crispEdges"/>
<rect x="351.70" y="199.61" width="10.97" height="4.93" fill="rgb(66, 181, 19)" shape-rendering="crispEdges"/>
<rect x="362.07" y="199.61" width="10.97" height="4.93" fill="rgb(58, 190, 22)" shape-rendering="crispEdges"/>
<rect x="372.43" y="199.61" width="11.97" height="4.93" fill="rgb(98, 155, 15)" shape-rendering="crispEdges"/>
<rect x="288.50" y="203.94" width="11.97" height="4.93" fill="rgb(249, 14, 8)" shape-rendering="crispEdges"/>
<rect x="299.87" y="203.94" width="10.97" height="4.93" fill="rgb(248, 15, 8)" shape-rendering="crispEdges"/>
<rect x="310.23" y="203.94" width="10.97" height="4.93" fill="rgb(245, 19, 8)" shape-rendering="crispEdges"/>
<rect x="320.60" y="203.94" width="10.97" height="4.93" fill="rgb(89, 161, 14)" shape-rendering="crispEdges"/>
<rect x="330.97" y="203.94" width="10.97" height="4.93" fill="rgb(88, 161, 14)" shape-rendering="crispEdges"/>
<rect x="341.33" y="203.94" width="10.97" height="4.93" fill="rgb(88, 161, 14)" shape-rendering="crispEdges"/>
<rect x="351.70" y="203.94" width="10.97" height="4.93" fill="rgb(100, 154, 15)" shape-rendering="crispEdges"/>
<rect x="362.07" y="203.94" width="10.97" height="4.93" fill="rgb(52, 196, 25)" shape-rendering="crispEdges"/>
<rect x="372.43" y="203.94" width="11.97" height="4.93" fill="rgb(71, 177, 19)" shape-rendering="crispEdges"/>
<rect x="288.50" y="208.26" width="11.97" height="4.93" fill="rgb(249, 14, 8)" shape-rendering="crispEdges"/>
<rect x="299.87" y="208.26" width="10.97" height="4.93" fill="rgb(228, 39, 9)" shape-rendering="crispEdges"/>
<rect x="310.23" y="208.26" width="10.97" height="4.93" fill="rgb(249, 14, 8)" shape-rendering="crispEdges"/>
<rect x="320.60" y="208.26" width="10.97" height="4.93" fill="rgb(101, 151, 14)" shape-rendering="crispEdges"/>
<rect x="330.97" y="208.26" width="10.97" height="4.93" fill="rgb(111, 144, 14)" shape-rendering="crispEdges"/>
<rect x="341.33" y="208.26" width="10.97" height="4.93" fill="rgb(121, 137, 14)" shape-rendering="crispEdges"/>
<rect x="351.70" y="208.26" width="10.97" height="4.93" fill="rgb(84, 167, 17)" shape-rendering="crispEdges"/>
<rect x="362.07" y="208.26" width="10.97" height="4.93" fill="rgb(88, 163, 17)" shape-rendering="crispEdges"/>
<rect x="372.43" y="208.26" width="11.97" height="4.93" fill="rgb(68, 180, 19)" shape-rendering="crispEdges"/>
<rect x="288.50" y="212.59" width="11.97" height="4.93" fill="rgb(240, 25, 8)" shape-rendering="crispEdges"/>
<rect x="299.87" y="212.59" width="10.97" height="4.93" fill="rgb(242, 22, 8)" shape-rendering="crispEdges"/>
<rect x="310.23" y="212.59" width="10.97" height="4.93" fill="rgb(248, 15, 8)" shape-rendering="crispEdges"/>
<rect x="320.60" y="212.59" width="10.97" height="4.93" fill="rgb(114, 142, 14)" shape-rendering="crispEdges"/>
<rect x="330.97" y="212.59" width="10.97" height="4.93" fill="rgb(118, 138, 14)" shape-rendering="crispEdges"/>
<rect x="341.33" y="212.59" width="10.97" height="4.93" fill="rgb(102, 150, 14)" shape-rendering="crispEdges"/>
<rect x="351.70" y="212.59" width="10.97" height="4.93" fill="rgb(77, 172, 18)" shape-rendering="crispEdges"/>
<rect x="362.07" y="212.59" width="10.97" height="4.93" fill="rgb(75, 174, 18)" shape-rendering="crispEdges"/>
<rect x="372.43" y="212.59" width="11.97" height="4.93" fill="rgb(66, 181, 19)" shape-rendering="crispEdges"/>
<rect x="288.50" y="216.92" width="11.97" height="4.93" fill="rgb(229, 38, 9)" shape-rendering="crispEdges"/>
<rect x="299.87" y="216.92" width="10.97" height="4.93" fill="rgb(242, 23, 8)" shape-rendering="crispEdges"/>
<rect x="310.23" y="216.92" width="10.97" height="4.93" fill="rgb(241, 24, 8)" shape-rendering="crispEdges"/>
<rect x="320.60" y="216.92" width="10.97" height="4.93" fill="rgb(95, 156, 14)" shape-rendering="crispEdges"/>
<rect x="330.97" y="216.92" width="10.97" height="4.93" fill="rgb(110, 144, 14)" shape-rendering="crispEdges"/>
<rect x="341.33" y="216.92" width="10.97" height="4.93" fill="rgb(103, 150, 14)" shape-rendering="crispEdges"/>
<rect x="351.70" y="216.92" width="10.97" height="4.93" fill="rgb(69, 178, 19)" shape-rendering="crispEdges"/>
<rect x="362.07" y="216.92" width="10.97" height="4.93" fill="rgb(66, 181, 19)" shape-rendering="crispEdges"/>
<rect x="372.43" y="216.92" width="11.97" height="4.93" fill="rgb(66, 181, 19)" shape-rendering="crispEdges"/>
<rect x="288.50" y="221.25" width="11.97" height="4.93" fill="rgb(249, 14, 8)" shape-rendering="crispEdges"/>
<rect x="299.87" y="221.25" width="10.97" height="4.93" fill="rgb(249, 14, 8)" shape-rendering="crispEdges"/>
<rect x="310.23" y="221.25" width="10.97" height="4.93" fill="rgb(242, 22, 8)" shape-rendering="crispEdges"/>
<rect x="320.60" y="221.25" width="10.97" height="4.93" fill="rgb(99, 153, 14)" shape-rendering="crispEdges"/>
<rect x="330.97" y="221.25" width="10.97" height="4.93" fill="rgb(104, 149, 14)" shape-rendering="crispEdges"/>
<rect x="341.33" y="221.25" width="10.97" height="4.93" fill="rgb(122, 136, 14)" shape-rendering="crispEdges"/>
<rect x="351.70" y="221.25" width="10.97" height="4.93" fill="rgb(59, 188, 22)" shape-rendering="crispEdges"/>
<rect x="362.07" y="221.25" width="10.97" height="4.93" fill="rgb(80, 170, 18)" shape-rendering="crispEdges"/>
<rect x="372.43" y="221.25" width="11.97" height="4.93" fill="rgb(66, 181, 19)" shape-rendering="crispEdges"/>
<rect x="288.50" y="225.58" width="11.97" height="4.93" fill="rgb(249, 14, 8)" shape-rendering="crispEdges"/>
<rect x="299.87" y="225.58" width="10.97" height="4.93" fill="rgb(249, 14, 8)" shape-rendering="crispEdges"/>
<rect x="310.23" y="225.58" width="10.97" height="4.93" fill="rgb(234, 32, 9)" shape-rendering="crispEdges"/>
<rect x="320.60" y="225.58" width="10.97" height="4.93" fill="rgb(93, 157, 14)" shape-rendering="crispEdges"/>
<rect x="330.97" y="225.58" width="10.97" height="4.93" fill="rgb(107, 147, 14)" shape-rendering="crispEdges"/>
<rect x="341.33" y="225.58" width="10.97" height="4.93" fill="rgb(90, 160, 14)" shape-rendering="crispEdges"/>
<rect x="351.70" y="225.58" width="10.97" height="4.93" fill="rgb(69, 179, 19)" shape-rendering="crispEdges"/>
<rect x="362.07" y="225.58" width="10.97" height="4.93" fill="rgb(101, 153, 15)" shape-rendering="crispEdges"/>
<rect x="372.43" y="225.58" width="11.97" height="4.93" fill="rgb(68, 179, 19)" shape-rendering="crispEdges"/>
<rect x="288.50" y="229.90" width="11.97" height="4.93" fill="rgb(249, 14, 8)" shape-rendering="crispEdges"/>
<rect x="299.87" y="229.90" width="10.97" height="4.93" fill="rgb(249, 14, 8)" shape-rendering="crispEdges"/>
<rect x="310.23" y="229.90" width="10.97" height="4.93" fill="rgb(247, 17, 8)" shape-rendering="crispEdges"/>
<rect x="320.60" y="229.90" width="10.97" height="4.93" fill="rgb(117, 140, 14)" shape-rendering="crispEdges"/>
<rect x="330.97" y="229.90" width="10.97" height="4.93" fill="rgb(117, 139, 14)" shape-rendering="crispEdges"/>
<rect x="341.33" y="229.90" width="10.97" height="4.93" fill="rgb(109, 145, 14)" shape-rendering="crispEdges"/>
<rect x="351.70" y="229.90" width="10.97" height="4.93" fill="rgb(105, 150, 14)" shape-rendering="crispEdges"/>
<rect x="362.07" y="229.90" width="10.97" height="4.93" fill="rgb(66, 181, 19)" shape-rendering="crispEdges"/>
<rect x="372.43" y="229.90" width="11.97" height="4.93" fill="rgb(66, 181, 19)" shape-rendering="crispEdges"/>
<rect x="288.50" y="234.23" width="11.97" height="4.93" fill="rgb(249, 14, 8)" shape-rendering="crispEdges"/>
<rect x="299.87" y="234.23" width="10.97" height="4.93" fill="rgb(249, 14, 8)" shape-rendering="crispEdges"/>
<rect x="310.23" y="234.23" width="10.97" height="4.93" fill="rgb(247, 17, 8)" shape-rendering="crispEdges"/>
<rect x="320.60" y="234.23" width="10.97" height="4.93" fill="rgb(93, 158, 14)" shape-rendering="crispEdges"/>
<rect x="330.97" y="234.23" width="10.97" height="4.93" fill="rgb(117, 140, 14)" shape-rendering="crispEdges"/>
<rect x="341.33" y="234.23" width="10.97" height="4.93" fill="rgb(126, 132, 14)" shape-rendering="crispEdges"/>
<rect x="351.70" y="234.23" width="10.97" height="4.93" fill="rgb(65, 182, 20)" shape-rendering="crispEdges"/>
<rect x="362.07" y="234.23" width="10.97" height="4.93" fill="rgb(51, 198, 25)" shape-rendering="crispEdges"/>
<rect x="372.43" y="234.23" width="11.97" height="4.93" fill="rgb(74, 175, 18)" shape-rendering="crispEdges"/>
<rect x="288.50" y="238.56" width="11.97" height="4.93" fill="rgb(246, 18, 8)" shape-rendering="crispEdges"/>
<rect x="299.87" y="238.56" width="10.97" height="4.93" fill="rgb(249, 14, 8)" shape-rendering="crispEdges"/>
<rect x="310.23" y="238.56" width="10.97" height="4.93" fill="rgb(249, 14, 8)" shape-rendering="crispEdges"/>
<rect x="320.60" y="238.56" width="10.97" height="4.93" fill="rgb(97, 154, 14)" shape-rendering="crispEdges"/>
<rect x="330.97" y="238.56" width="10.97" height="4.93" fill="rgb(88, 161, 14)" shape-rendering="crispEdges"/>
<rect x="341.33" y="238.56" width="10.97" height="4.93" fill="rgb(116, 140, 14)" shape-rendering="crispEdges"/>
<rect x="351.70" y="238.56" width="10.97" height="4.93" fill="rgb(65, 183, 20)" shape-rendering="crispEdges"/>
<rect x="362.07" y="238.56" width="10.97" height="4.93" fill="rgb(77, 172, 18)" shape-rendering="crispEdges"/>
<rect x="372.43" y="238.56" width="11.97" height="4.93" fill="rgb(77, 172, 18)" shape-rendering="crispEdges"/>
<rect x="288.50" y="242.89" width="11.97" height="4.93" fill="rgb(246, 18, 8)" shape-rendering="crispEdges"/>
<rect x="299.87" y="242.89" width="10.97" height="4.93" fill="rgb(234, 32, 9)" shape-rendering="crispEdges"/>
<rect x="310.23" y="242.89" width="10.97" height="4.93" fill="rgb(242, 22, 8)" shape-rendering="crispEdges"/>
<rect x="320.60" y="242.89" width="10.97" height="4.93" fill="rgb(90, 160, 14)" shape-rendering="crispEdges"/>
<rect x="330.97" y="242.89" width="10.97" height="4.93" fill="rgb(98, 154, 14)" shape-rendering="crispEdges"/>
<rect x="341.33" y="242.89" width="10.97" height="4.93" fill="rgb(89, 160, 14)" shape-rendering="crispEdges"/>
<rect x="351.70" y="242.89" width="10.97" height="4.93" fill="rgb(66, 181, 19)" shape-rendering="crispEdges"/>
<rect x="362.07" y="242.89" width="10.97" height="4.93" fill="rgb(82, 168, 17)" shape-rendering="crispEdges"/>
<rect x="372.43" y="242.89" width="11.97" height="4.93" fill="rgb(66, 181, 19)" shape-rendering="crispEdges"/>
<rect x="288.50" y="247.22" width="11.97" height="4.93" fill="rgb(248, 15, 8)" shape-rendering="crispEdges"/>
<rect x="299.87" y="247.22" width="10.97" height="4.93" fill="rgb(249, 14, 8)" shape-rendering="crispEdges"/>
<rect x="310.23" y="247.22" width="10.97" height="4.93" fill="rgb(244, 20, 8)" shape-rendering="crispEdges"/>
<rect x="320.60" y="247.22" width="10.97" height="4.93" fill="rgb(112, 143, 14)" shape-rendering="crispEdges"/>
<rect x="330.97" y="247.22" width="10.97" height="4.93" fill="rgb(95, 156, 14)" shape-rendering="crispEdges"/>
<rect x="341.33" y="247.22" width="10.97" height="4.93" fill="rgb(114, 142, 14)" shape-rendering="crispEdges"/>
<rect x="351.70" y="247.22" width="10.97" height="4.93" fill="rgb(46, 203, 27)" shape-rendering="crispEdges"/>
<rect x="362.07" y="247.22" width="10.97" height="4.93" fill="rgb(56, 192, 23)" shape-rendering="crispEdges"/>
<rect x="372.43" y="247.22" width="11.97" height="4.93" fill="rgb(77, 172, 18)" shape-rendering="crispEdges"/>
<rect x="288.50" y="251.54" width="11.97" height="4.93" fill="rgb(249, 14, 8)" shape-rendering="crispEdges"/>
<rect x="299.87" y="251.54" width="10.97" height="4.93" fill="rgb(249, 14, 8)" shape-rendering="crispEdges"/>
<rect x="310.23" y="251.54" width="10.97" height="4.93" fill="rgb(235, 31, 9)" shape-rendering="crispEdges"/>
<rect x="320.60" y="251.54" width="10.97" height="4.93" fill="rgb(114, 142, 14)" shape-rendering="crispEdges"/>
<rect x="330.97" y="251.54" width="10.97" height="4.93" fill="rgb(124, 134, 14)" shape-rendering="crispEdges"/>
<rect x="341.33" y="251.54" width="10.97" height="4.93" fill="rgb(98, 154, 14)" shape-rendering="crispEdges"/>
<rect x="351.70" y="251.54" width="10.97" height="4.93" fill="rgb(78, 171, 18)" shape-rendering="crispEdges"/>
<rect x="362.07" y="251.54" width="10.97" height="4.93" fill="rgb(83, 168, 17)" shape-rendering="crispEdges"/>
<rect x="372.43" y="251.54" width="11.97" height="4.93" fill="rgb(78, 172, 18)" shape-rendering="crispEdges"/>
<rect x="288.50" y="255.87" width="11.97" height="4.93" fill="rgb(249, 14, 8)" shape-rendering="crispEdges"/>
<rect x="299.87" y="255.87" width="10.97" height="4.93" fill="rgb(240, 25, 8)" shape-rendering="crispEdges"/>
<rect x="310.23" y="255.87" width="10.97" height="4.93" fill="rgb(229, 38, 9)" shape-rendering="crispEdges"/>
<rect x="320.60" y="255.87" width="10.97" height="4.93" fill="rgb(126, 133, 14)" shape-rendering="crispEdges"/>
<rect x="330.97" y="255.87" width="10.97" height="4.93" fill="rgb(101, 152, 14)" shape-rendering="crispEdges"/>
<rect x="341.33" y="255.87" width="10.97" height="4.93" fill="rgb(114, 142, 14)" shape-rendering="crispEdges"/>
<rect x="351.70" y="255.87" width="10.97" height="4.93" fill="rgb(67, 180, 19)" shape-rendering="crispEdges"/>
<rect x="362.07" y="255.87" width="10.97" height="4.93" fill="rgb(94, 158, 16)" shape-rendering="crispEdges"/>
<rect x="372.43" y="255.87" width="11.97" height="4.93" fill="rgb(66, 181, 19)" shape-rendering="crispEdges"/>
<rect x="288.50" y="260.20" width="11.97" height="4.93" fill="rgb(56, 207, 31)" shape-rendering="crispEdges"/>
<rect x="299.87" y="260.20" width="10.97" height="4.93" fill="rgb(66, 196, 29)" shape-rendering="crispEdges"/>
<rect x="310.23" y="260.20" width="10.97" height="4.93" fill="rgb(53, 210, 32)" shape-rendering="crispEdges"/>
<rect x="320.60" y="260.20" width="10.97" height="4.93" fill="rgb(165, 79, 14)" shape-rendering="crispEdges"/>
<rect x="330.97" y="260.20" width="10.97" height="4.93" fill="rgb(166, 79, 14)" shape-rendering="crispEdges"/>
<rect x="341.33" y="260.20" width="10.97" height="4.93" fill="rgb(169, 76, 14)" shape-rendering="crispEdges"/>
<rect x="351.70" y="260.20" width="10.97" height="4.93" fill="rgb(204, 49, 13)" shape-rendering="crispEdges"/>
<rect x="362.07" y="260.20" width="10.97" height="4.93" fill="rgb(227, 35, 12)" shape-rendering="crispEdges"/>
<rect x="372.43" y="260.20" width="11.97" height="4.93" fill="rgb(227, 35, 12)" shape-rendering="crispEdges"/>
<rect x="288.50" y="264.53" width="11.97" height="4.93" fill="rgb(54, 209, 32)" shape-rendering="crispEdges"/>
<rect x="299.87" y="264.53" width="10.97" height="4.93" fill="rgb(64, 199, 29)" shape-rendering="crispEdges"/>
<rect x="310.23" y="264.53" width="10.97" height="4.93" fill="rgb(71, 191, 27)" shape-rendering="crispEdges"/>
<rect x="320.60" y="264.53" width="10.97" height="4.93" fill="rgb(189, 60, 13)" shape-rendering="crispEdges"/>
<rect x="330.97" y="264.53" width="10.97" height="4.93" fill="rgb(180, 67, 13)" shape-rendering="crispEdges"/>
<rect x="341.33" y="264.53" width="10.97" height="4.93" fill="rgb(166, 78, 14)" shape-rendering="crispEdges"/>
<rect x="351.70" y="264.53" width="10.97" height="4.93" fill="rgb(219, 40, 12)" shape-rendering="crispEdges"/>
<rect x="362.07" y="264.53" width="10.97" height="4.93" fill="rgb(226, 36, 12)" shape-rendering="crispEdges"/>
<rect x="372.43" y="264.53" width="11.97" height="4.93" fill="rgb(208, 47, 12)" shape-rendering="crispEdges"/>
<rect x="288.50" y="268.86" width="11.97" height="4.93" fill="rgb(60, 203, 30)" shape-rendering="crispEdges"/>
<rect x="299.87" y="268.86" width="10.97" height="4.93" fill="rgb(55, 209, 32)" shape-rendering="crispEdges"/>
<rect x="310.23" y="268.86" width="10.97" height="4.93" fill="rgb(71, 191, 27)" shape-rendering="crispEdges"/>
<rect x="320.60" y="268.86" width="10.97" height="4.93" fill="rgb(183, 64, 13)" shape-rendering="crispEdges"/>
<rect x="330.97" y="268.86" width="10.97" height="4.93" fill="rgb(176, 70, 14)" shape-rendering="crispEdges"/>
<rect x="341.33" y="268.86" width="10.97" height="4.93" fill="rgb(130, 110, 15)" shape-rendering="crispEdges"/>
<rect x="351.70" y="268.86" width="10.97" height="4.93" fill="rgb(199, 53, 13)" shape-rendering="crispEdges"/>
<rect x="362.07" y="268.86" width="10.97" height="4.93" fill="rgb(188, 59, 13)" shape-rendering="crispEdges"/>
<rect x="372.43" y="268.86" width="11.97" height="4.93" fill="rgb(219, 40, 12)" shape-rendering="crispEdges"/>
<rect x="288.50" y="273.18" width="11.97" height="4.93" fill="rgb(57, 206, 31)" shape-rendering="crispEdges"/>
<rect x="299.87" y="273.18" width="10.97" height="4.93" fill="rgb(46, 218, 34)" shape-rendering="crispEdges"/>
<rect x="310.23" y="273.18" width="10.97" height="4.93" fill="rgb(55, 208, 32)" shape-rendering="crispEdges"/>
<rect x="320.60" y="273.18" width="10.97" height="4.93" fill="rgb(181, 66, 13)" shape-rendering="crispEdges"/>
<rect x="330.97" y="273.18" width="10.97" height="4.93" fill="rgb(165, 79, 14)" shape-rendering="crispEdges"/>
<rect x="341.33" y="273.18" width="10.97" height="4.93" fill="rgb(181, 66, 13)" shape-rendering="crispEdges"/>
<rect x="351.70" y="273.18" width="10.97" height="4.93" fill="rgb(203, 50, 13)" shape-rendering="crispEdges"/>
<rect x="362.07" y="273.18" width="10.97" height="4.93" fill="rgb(217, 41, 12)" shape-rendering="crispEdges"/>
<rect x="372.43" y="273.18" width="11.97" height="4.93" fill="rgb(220, 39, 12)" shape-rendering="crispEdges"/>
<rect x="288.50" y="277.51" width="11.97" height="4.93" fill="rgb(62, 200, 30)" shape-rendering="crispEdges"/>
<rect x="299.87" y="277.51" width="10.97" height="4.93" fill="rgb(45, 219, 34)" shape-rendering="crispEdges"/>
<rect x="310.23" y="277.51" width="10.97" height="4.93" fill="rgb(55, 208, 32)" shape-rendering="crispEdges"/>
<rect x="320.60" y="277.51" width="10.97" height="4.93" fill="rgb(177, 69, 14)" shape-rendering="crispEdges"/>
<rect x="330.97" y="277.51" width="10.97" height="4.93" fill="rgb(201, 51, 12)" shape-rendering="crispEdges"/>
<rect x="341.33" y="277.51" width="10.97" height="4.93" fill="rgb(149, 93, 15)" shape-rendering="crispEdges"/>
<rect x="351.70" y="277.51" width="10.97" height="4.93" fill="rgb(222, 38, 12)" shape-rendering="crispEdges"/>
<rect x="362.07" y="277.51" width="10.97" height="4.93" fill="rgb(202, 51, 13)" shape-rendering="crispEdges"/>
<rect x="372.43" y="277.51" width="11.97" height="4.93" fill="rgb(194, 55, 13)" shape-rendering="crispEdges"/>
<rect x="288.50" y="281.84" width="11.97" height="4.93" fill="rgb(53, 210, 32)" shape-rendering="crispEdges"/>
<rect x="299.87" y="281.84" width="10.97" height="4.93" fill="rgb(48, 215, 33)" shape-rendering="crispEdges"/>
<rect x="310.23" y="281.84" width="10.97" height="4.93" fill="rgb(46, 218, 34)" shape-rendering="crispEdges"/>
<rect x="320.60" y="281.84" width="10.97" height="4.93" fill="rgb(186, 62, 13)" shape-rendering="crispEdges"/>
<rect x="330.97" y="281.84" width="10.97" height="4.93" fill="rgb(167, 77, 14)" shape-rendering="crispEdges"/>
<rect x="341.33" y="281.84" width="10.97" height="4.93" fill="rgb(164, 80, 15)" shape-rendering="crispEdges"/>
<rect x="351.70" y="281.84" width="10.97" height="4.93" fill="rgb(226, 35, 12)" shape-rendering="crispEdges"/>
<rect x="362.07" y="281.84" width="10.97" height="4.93" fill="rgb(211, 45, 12)" shape-rendering="crispEdges"/>
<rect x="372.43" y="281.84" width="11.97" height="4.93" fill="rgb(225, 36, 12)" shape-rendering="crispEdges"/>
<rect x="288.50" y="286.17" width="11.97" height="4.93" fill="rgb(49, 214, 33)" shape-rendering="crispEdges"/>
<rect x="299.87" y="286.17" width="10.97" height="4.93" fill="rgb(59, 204, 31)" shape-rendering="crispEdges"/>
<rect x="310.23" y="286.17" width="10.97" height="4.93" fill="rgb(45, 219, 34)" shape-rendering="crispEdges"/>
<rect x="320.60" y="286.17" width="10.97" height="4.93" fill="rgb(138, 103, 15)" shape-rendering="crispEdges"/>
<rect x="330.97" y="286.17" width="10.97" height="4.93" fill="rgb(181, 66, 13)" shape-rendering="crispEdges"/>
<rect x="341.33" y="286.17" width="10.97" height="4.93" fill="rgb(169, 76, 14)" shape-rendering="crispEdges"/>
<rect x="351.70" y="286.17" width="10.97" height="4.93" fill="rgb(222, 38, 12)" shape-rendering="crispEdges"/>
<rect x="362.07" y="286.17" width="10.97" height="4.93" fill="rgb(224, 37, 12)" shape-rendering="crispEdges"/>
<rect x="372.43" y="286.17" width="11.97" height="4.93" fill="rgb(223, 37, 12)" shape-rendering="crispEdges"/>
<rect x="288.50" y="290.50" width="11.97" height="4.93" fill="rgb(55, 208, 32)" shape-rendering="crispEdges"/>
<rect x="299.87" y="290.50" width="10.97" height="4.93" fill="rgb(45, 218, 34)" shape-rendering="crispEdges"/>
<rect x="310.23" y="290.50" width="10.97" height="4.93" fill="rgb(46, 218, 34)" shape-rendering="crispEdges"/>
<rect x="320.60" y="290.50" width="10.97" height="4.93" fill="rgb(186, 62, 13)" shape-rendering="crispEdges"/>
<rect x="330.97" y="290.50" width="10.97" height="4.93" fill="rgb(182, 65, 13)" shape-rendering="crispEdges"/>
<rect x="341.33" y="290.50" width="10.97" height="4.93" fill="rgb(186, 63, 13)" shape-rendering="crispEdges"/>
<rect x="351.70" y="290.50" width="10.97" height="4.93" fill="rgb(226, 35, 12)" shape-rendering="crispEdges"/>
<rect x="362.07" y="290.50" width="10.97" height="4.93" fill="rgb(207, 47, 12)" shape-rendering="crispEdges"/>
<rect x="372.43" y="290.50" width="11.97" height="4.93" fill="rgb(202, 50, 13)" shape-rendering="crispEdges"/>
<rect x="288.50" y="294.82" width="11.97" height="4.93" fill="rgb(75, 187, 26)" shape-rendering="crispEdges"/>
<rect x="299.87" y="294.82" width="10.97" height="4.93" fill="rgb(48, 216, 34)" shape-rendering="crispEdges"/>
<rect x="310.23" y="294.82" width="10.97" height="4.93" fill="rgb(48, 216, 34)" shape-rendering="crispEdges"/>
<rect x="320.60" y="294.82" width="10.97" height="4.93" fill="rgb(128, 111, 15)" shape-rendering="crispEdges"/>
<rect x="330.97" y="294.82" width="10.97" height="4.93" fill="rgb(204, 48, 12)" shape-rendering="crispEdges"/>
<rect x="341.33" y="294.82" width="10.97" height="4.93" fill="rgb(167, 77, 14)" shape-rendering="crispEdges"/>
<rect x="351.70" y="294.82" width="10.97" height="4.93" fill="rgb(208, 47, 12)" shape-rendering="crispEdges"/>
<rect x="362.07" y="294.82" width="10.97" height="4.93" fill="rgb(226, 35, 12)" shape-rendering="crispEdges"/>
<rect x="372.43" y="294.82" width="11.97" height="4.93" fill="rgb(227, 35, 12)" shape-rendering="crispEdges"/>
<rect x="288.50" y="299.15" width="11.97" height="4.93" fill="rgb(70, 192, 28)" shape-rendering="crispEdges"/>
<rect x="299.87" y="299.15" width="10.97" height="4.93" fill="rgb(51, 212, 33)" shape-rendering="crispEdges"/>
<rect x="310.23" y="299.15" width="10.97" height="4.93" fill="rgb(68, 195, 28)" shape-rendering="crispEdges"/>
<rect x="320.60" y="299.15" width="10.97" height="4.93" fill="rgb(167, 77, 14)" shape-rendering="crispEdges"/>
<rect x="330.97" y="299.15" width="10.97" height="4.93" fill="rgb(140, 101, 15)" shape-rendering="crispEdges"/>
<rect x="341.33" y="299.15" width="10.97" height="4.93" fill="rgb(169, 76, 14)" shape-rendering="crispEdges"/>
<rect x="351.70" y="299.15" width="10.97" height="4.93" fill="rgb(193, 56, 13)" shape-rendering="crispEdges"/>
<rect x="362.07" y="299.15" width="10.97" height="4.93" fill="rgb(188, 59, 13)" shape-rendering="crispEdges"/>
<rect x="372.43" y="299.15" width="11.97" height="4.93" fill="rgb(227, 35, 12)" shape-rendering="crispEdges"/>
<rect x="288.50" y="303.48" width="11.97" height="4.93" fill="rgb(54, 209, 32)" shape-rendering="crispEdges"/>
<rect x="299.87" y="303.48" width="10.97" height="4.93" fill="rgb(66, 197, 29)" shape-rendering="crispEdges"/>
<rect x="310.23" y="303.48" width="10.97" height="4.93" fill="rgb(54, 209, 32)" shape-rendering="crispEdges"/>
<rect x="320.60" y="303.48" width="10.97" height="4.93" fill="rgb(140, 101, 15)" shape-rendering="crispEdges"/>
<rect x="330.97" y="303.48" width="10.97" height="4.93" fill="rgb(163, 81, 15)" shape-rendering="crispEdges"/>
<rect x="341.33" y="303.48" width="10.97" height="4.93" fill="rgb(165, 79, 14)" shape-rendering="crispEdges"/>
<rect x="351.70" y="303.48" width="10.97" height="4.93" fill="rgb(219, 40, 12)" shape-rendering="crispEdges"/>
<rect x="362.07" y="303.48" width="10.97" height="4.93" fill="rgb(217, 41, 12)" shape-rendering="crispEdges"/>
<rect x="372.43" y="303.48" width="11.97" height="4.93" fill="rgb(227, 35, 12)" shape-rendering="crispEdges"/>
<rect x="288.50" y="307.81" width="11.97" height="4.93" fill="rgb(46, 218, 34)" shape-rendering="crispEdges"/>
<rect x="299.87" y="307.81" width="10.97" height="4.93" fill="rgb(46, 218, 34)" shape-rendering="crispEdges"/>
<rect x="310.23" y="307.81" width="10.97" height="4.93" fill="rgb(71, 191, 27)" shape-rendering="crispEdges"/>
<rect x="320.60" y="307.81" width="10.97" height="4.93" fill="rgb(204, 48, 12)" shape-rendering="crispEdges"/>
<rect x="330.97" y="307.81" width="10.97" height="4.93" fill="rgb(163, 81, 15)" shape-rendering="crispEdges"/>
<rect x="341.33" y="307.81" width="10.97" height="4.93" fill="rgb(202, 50, 12)" shape-rendering="crispEdges"/>
<rect x="351.70" y="307.81" width="10.97" height="4.93" fill="rgb(206, 48, 13)" shape-rendering="crispEdges"/>
<rect x="362.07" y="307.81" width="10.97" height="4.93" fill="rgb(225, 36, 12)" shape-rendering="crispEdges"/>
<rect x="372.43" y="307.81" width="11.97" height="4.93" fill="rgb(221, 39, 12)" shape-rendering="crispEdges"/>
<rect x="288.50" y="312.14" width="11.97" height="4.93" fill="rgb(54, 209, 32)" shape-rendering="crispEdges"/>
<rect x="299.87" y="312.14" width="10.97" height="4.93" fill="rgb(51, 212, 33)" shape-rendering="crispEdges"/>
<rect x="310.23" y="312.14" width="10.97" height="4.93" fill="rgb(58, 205, 31)" shape-rendering="crispEdges"/>
<rect x="320.60" y="312.14" width="10.97" height="4.93" fill="rgb(165, 79, 14)" shape-rendering="crispEdges"/>
<rect x="330.97" y="312.14" width="10.97" height="4.93" fill="rgb(132, 108, 15)" shape-rendering="crispEdges"/>
<rect x="341.33" y="312.14" width="10.97" height="4.93" fill="rgb(179, 68, 13)" shape-rendering="crispEdges"/>
<rect x="351.70" y="312.14" width="10.97" height="4.93" fill="rgb(223, 37, 12)" shape-rendering="crispEdges"/>
<rect x="362.07" y="312.14" width="10.97" height="4.93" fill="rgb(227, 35, 12)" shape-rendering="crispEdges"/>
<rect x="372.43" y="312.14" width="11.97" height="4.93" fill="rgb(227, 35, 12)" shape-rendering="crispEdges"/>
<rect x="288.50" y="316.46" width="11.97" height="4.93" fill="rgb(54, 209, 32)" shape-rendering="crispEdges"/>
<rect x="299.87" y="316.46" width="10.97" height="4.93" fill="rgb(45, 219, 34)" shape-rendering="crispEdges"/>
<rect x="310.23" y="316.46" width="10.97" height="4.93" fill="rgb(74, 188, 27)" shape-rendering="crispEdges"/>
<rect x="320.60" y="316.46" width="10.97" height="4.93" fill="rgb(195, 55, 12)" shape-rendering="crispEdges"/>
<rect x="330.97" y="316.46" width="10.97" height="4.93" fill="rgb(197, 53, 12)" shape-rendering="crispEdges"/>
<rect x="341.33" y="316.46" width="10.97" height="4.93" fill="rgb(177, 70, 14)" shape-rendering="crispEdges"/>
<rect x="351.70" y="316.46" width="10.97" height="4.93" fill="rgb(220, 39, 12)" shape-rendering="crispEdges"/>
<rect x="362.07" y="316.46" width="10.97" height="4.93" fill="rgb(186, 60, 13)" shape-rendering="crispEdges"/>
<rect x="372.43" y="316.46" width="11.97" height="4.93" fill="rgb(203, 50, 13)" shape-rendering="crispEdges"/>
<rect x="288.50" y="320.79" width="11.97" height="4.93" fill="rgb(47, 217, 34)" shape-rendering="crispEdges"/>
<rect x="299.87" y="320.79" width="10.97" height="4.93" fill="rgb(75, 186, 26)" shape-rendering="crispEdges"/>
<rect x="310.23" y="320.79" width="10.97" height="4.93" fill="rgb(65, 197, 29)" shape-rendering="crispEdges"/>
<rect x="320.60" y="320.79" width="10.97" height="4.93" fill="rgb(193, 56, 12)" shape-rendering="crispEdges"/>
<rect x="330.97" y="320.79" width="10.97" height="4.93" fill="rgb(177, 70, 14)" shape-rendering="crispEdges"/>
<rect x="341.33" y="320.79" width="10.97" height="4.93" fill="rgb(198, 52, 12)" shape-rendering="crispEdges"/>
<rect x="351.70" y="320.79" width="10.97" height="4.93" fill="rgb(205, 48, 13)" shape-rendering="crispEdges"/>
<rect x="362.07" y="320.79" width="10.97" height="4.93" fill="rgb(205, 48, 13)" shape-rendering="crispEdges"/>
<rect x="372.43" y="320.79" width="11.97" height="4.93" fill="rgb(223, 37, 12)" shape-rendering="crispEdges"/>
<rect x="288.50" y="325.12" width="11.97" height="4.93" fill="rgb(64, 199, 29)" shape-rendering="crispEdges"/>
<rect x="299.87" y="325.12" width="10.97" height="4.93" fill="rgb(45, 219, 34)" shape-rendering="crispEdges"/>
<rect x="310.23" y="325.12" width="10.97" height="4.93" fill="rgb(49, 215, 33)" shape-rendering="crispEdges"/>
<rect x="320.60" y="325.12" width="10.97" height="4.93" fill="rgb(150, 93, 15)" shape-rendering="crispEdges"/>
<rect x="330.97" y="325.12" width="10.97" height="4.93" fill="rgb(175, 71, 14)" shape-rendering="crispEdges"/>
<rect x="341.33" y="325.12" width="10.97" height="4.93" fill="rgb(186, 62, 13)" shape-rendering="crispEdges"/>
<rect x="351.70" y="325.12" width="10.97" height="4.93" fill="rgb(190, 58, 13)" shape-rendering="crispEdges"/>
<rect x="362.07" y="325.12" width="10.97" height="4.93" fill="rgb(212, 44, 12)" shape-rendering="crispEdges"/>
<rect x="372.43" y="325.12" width="11.97" height="4.93" fill="rgb(225, 36, 12)" shape-rendering="crispEdges"/>
<rect x="288.50" y="329.45" width="11.97" height="4.93" fill="rgb(61, 202, 30)" shape-rendering="crispEdges"/>
<rect x="299.87" y="329.45" width="10.97" height="4.93" fill="rgb(57, 207, 31)" shape-rendering="crispEdges"/>
<rect x="310.23" y="329.45" width="10.97" height="4.93" fill="rgb(55, 208, 32)" shape-rendering="crispEdges"/>
<rect x="320.60" y="329.45" width="10.97" height="4.93" fill="rgb(176, 70, 14)" shape-rendering="crispEdges"/>
<rect x="330.97" y="329.45" width="10.97" height="4.93" fill="rgb(187, 62, 13)" shape-rendering="crispEdges"/>
<rect x="341.33" y="329.45" width="10.97" height="4.93" fill="rgb(193, 57, 12)" shape-rendering="crispEdges"/>
<rect x="351.70" y="329.45" width="10.97" height="4.93" fill="rgb(227, 35, 12)" shape-rendering="crispEdges"/>
<rect x="362.07" y="329.45" width="10.97" height="4.93" fill="rgb(215, 43, 12)" shape-rendering="crispEdges"/>
<rect x="372.43" y="329.45" width="11.97" height="4.93" fill="rgb(207, 47, 12)" shape-rendering="crispEdges"/>
<rect x="288.50" y="333.78" width="11.97" height="4.93" fill="rgb(47, 217, 34)" shape-rendering="crispEdges"/>
<rect x="299.87" y="333.78" width="10.97" height="4.93" fill="rgb(50, 213, 33)" shape-rendering="crispEdges"/>
<rect x="310.23" y="333.78" width="10.97" height="4.93" fill="rgb(45, 219, 34)" shape-rendering="crispEdges"/>
<rect x="320.60" y="333.78" width="10.97" height="4.93" fill="rgb(169, 76, 14)" shape-rendering="crispEdges"/>
<rect x="330.97" y="333.78" width="10.97" height="4.93" fill="rgb(166, 78, 14)" shape-rendering="crispEdges"/>
<rect x="341.33" y="333.78" width="10.97" height="4.93" fill="rgb(200, 51, 12)" shape-rendering="crispEdges"/>
<rect x="351.70" y="333.78" width="10.97" height="4.93" fill="rgb(220, 39, 12)" shape-rendering="crispEdges"/>
<rect x="362.07" y="333.78" width="10.97" height="4.93" fill="rgb(188, 59, 13)" shape-rendering="crispEdges"/>
<rect x="372.43" y="333.78" width="11.97" height="4.93" fill="rgb(217, 41, 12)" shape-rendering="crispEdges"/>
<rect x="288.50" y="338.10" width="11.97" height="4.93" fill="rgb(81, 180, 25)" shape-rendering="crispEdges"/>
<rect x="299.87" y="338.10" width="10.97" height="4.93" fill="rgb(60, 203, 30)" shape-rendering="crispEdges"/>
<rect x="310.23" y="338.10" width="10.97" height="4.93" fill="rgb(69, 193, 28)" shape-rendering="crispEdges"/>
<rect x="320.60" y="338.10" width="10.97" height="4.93" fill="rgb(166, 78, 14)" shape-rendering="crispEdges"/>
<rect x="330.97" y="338.10" width="10.97" height="4.93" fill="rgb(137, 104, 15)" shape-rendering="crispEdges"/>
<rect x="341.33" y="338.10" width="10.97" height="4.93" fill="rgb(128, 111, 15)" shape-rendering="crispEdges"/>
<rect x="351.70" y="338.10" width="10.97" height="4.93" fill="rgb(221, 39, 12)" shape-rendering="crispEdges"/>
<rect x="362.07" y="338.10" width="10.97" height="4.93" fill="rgb(227, 35, 12)" shape-rendering="crispEdges"/>
<rect x="372.43" y="338.10" width="11.97" height="4.93" fill="rgb(220, 39, 12)" shape-rendering="crispEdges"/>
<rect x="288.50" y="342.43" width="11.97" height="4.93" fill="rgb(58, 205, 31)" shape-rendering="crispEdges"/>
<rect x="299.87" y="342.43" width="10.97" height="4.93" fill="rgb(45, 219, 34)" shape-rendering="crispEdges"/>
<rect x="310.23" y="342.43" width="10.97" height="4.93" fill="rgb(78, 184, 26)" shape-rendering="crispEdges"/>
<rect x="320.60" y="342.43" width="10.97" height="4.93" fill="rgb(177, 69, 14)" shape-rendering="crispEdges"/>
<rect x="330.97" y="342.43" width="10.97" height="4.93" fill="rgb(185, 63, 13)" shape-rendering="crispEdges"/>
<rect x="341.33" y="342.43" width="10.97" height="4.93" fill="rgb(172, 73, 14)" shape-rendering="crispEdges"/>
<rect x="351.70" y="342.43" width="10.97" height="4.93" fill="rgb(217, 41, 12)" shape-rendering="crispEdges"/>
<rect x="362.07" y="342.43" width="10.97" height="4.93" fill="rgb(226, 36, 12)" shape-rendering="crispEdges"/>
<rect x="372.43" y="342.43" width="11.97" height="4.93" fill="rgb(209, 46, 12)" shape-rendering="crispEdges"/>
<rect x="288.50" y="346.76" width="11.97" height="4.93" fill="rgb(48, 216, 34)" shape-rendering="crispEdges"/>
<rect x="299.87" y="346.76" width="10.97" height="4.93" fill="rgb(45, 219, 34)" shape-rendering="crispEdges"/>
<rect x="310.23" y="346.76" width="10.97" height="4.93" fill="rgb(47, 217, 34)" shape-rendering="crispEdges"/>
<rect x="320.60" y="346.76" width="10.97" height="4.93" fill="rgb(164, 80, 15)" shape-rendering="crispEdges"/>
<rect x="330.97" y="346.76" width="10.97" height="4.93" fill="rgb(192, 57, 12)" shape-rendering="crispEdges"/>
<rect x="341.33" y="346.76" width="10.97" height="4.93" fill="rgb(199, 52, 12)" shape-rendering="crispEdges"/>
<rect x="351.70" y="346.76" width="10.97" height="4.93" fill="rgb(227, 35, 12)" shape-rendering="crispEdges"/>
<rect x="362.07" y="346.76" width="10.97" height="4.93" fill="rgb(186, 61, 13)" shape-rendering="crispEdges"/>
<rect x="372.43" y="346.76" width="11.97" height="4.93" fill="rgb(190, 58, 13)" shape-rendering="crispEdges"/>
<rect x="288.50" y="351.09" width="11.97" height="4.93" fill="rgb(45, 219, 34)" shape-rendering="crispEdges"/>
<rect x="299.87" y="351.09" width="10.97" height="4.93" fill="rgb(75, 187, 26)" shape-rendering="crispEdges"/>
<rect x="310.23" y="351.09" width="10.97" height="4.93" fill="rgb(51, 212, 33)" shape-rendering="crispEdges"/>
<rect x="320.60" y="351.09" width="10.97" height="4.93" fill="rgb(180, 67, 13)" shape-rendering="crispEdges"/>
<rect x="330.97" y="351.09" width="10.97" height="4.93" fill="rgb(171, 74, 14)" shape-rendering="crispEdges"/>
<rect x="341.33" y="351.09" width="10.97" height="4.93" fill="rgb(201, 50, 12)" shape-rendering="crispEdges"/>
<rect x="351.70" y="351.09" width="10.97" height="4.93" fill="rgb(221, 39, 12)" shape-rendering="crispEdges"/>
<rect x="362.07" y="351.09" width="10.97" height="4.93" fill="rgb(187, 60, 13)" shape-rendering="crispEdges"/>
<rect x="372.43" y="351.09" width="11.97" height="4.93" fill="rgb(202, 51, 13)" shape-rendering="crispEdges"/>
<rect x="288.50" y="355.42" width="11.97" height="4.93" fill="rgb(58, 205, 31)" shape-rendering="crispEdges"/>
<rect x="299.87" y="355.42" width="10.97" height="4.93" fill="rgb(45, 219, 34)" shape-rendering="crispEdges"/>
<rect x="310.23" y="355.42" width="10.97" height="4.93" fill="rgb(59, 204, 31)" shape-rendering="crispEdges"/>
<rect x="320.60" y="355.42" width="10.97" height="4.93" fill="rgb(150, 92, 15)" shape-rendering="crispEdges"/>
<rect x="330.97" y="355.42" width="10.97" height="4.93" fill="rgb(165, 79, 14)" shape-rendering="crispEdges"/>
<rect x="341.33" y="355.42" width="10.97" height="4.93" fill="rgb(167, 77, 14)" shape-rendering="crispEdges"/>
<rect x="351.70" y="355.42" width="10.97" height="4.93" fill="rgb(212, 44, 12)" shape-rendering="crispEdges"/>
<rect x="362.07" y="355.42" width="10.97" height="4.93" fill="rgb(221, 38, 12)" shape-rendering="crispEdges"/>
<rect x="372.43" y="355.42" width="11.97" height="4.93" fill="rgb(226, 35, 12)" shape-rendering="crispEdges"/>
<rect x="288.50" y="359.74" width="11.97" height="4.93" fill="rgb(57, 206, 31)" shape-rendering="crispEdges"/>
<rect x="299.87" y="359.74" width="10.97" height="4.93" fill="rgb(51, 212, 33)" shape-rendering="crispEdges"/>
<rect x="310.23" y="359.74" width="10.97" height="4.93" fill="rgb(67, 195, 28)" shape-rendering="crispEdges"/>
<rect x="320.60" y="359.74" width="10.97" height="4.93" fill="rgb(182, 65, 13)" shape-rendering="crispEdges"/>
<rect x="330.97" y="359.74" width="10.97" height="4.93" fill="rgb(202, 49, 12)" shape-rendering="crispEdges"/>
<rect x="341.33" y="359.74" width="10.97" height="4.93" fill="rgb(158, 85, 15)" shape-rendering="crispEdges"/>
<rect x="351.70" y="359.74" width="10.97" height="4.93" fill="rgb(195, 55, 13)" shape-rendering="crispEdges"/>
<rect x="362.07" y="359.74" width="10.97" height="4.93" fill="rgb(204, 49, 13)" shape-rendering="crispEdges"/>
<rect x="372.43" y="359.74" width="11.97" height="4.93" fill="rgb(214, 43, 12)" shape-rendering="crispEdges"/>
<rect x="288.50" y="364.07" width="11.97" height="5.93" fill="rgb(49, 214, 33)" shape-rendering="crispEdges"/>
<rect x="299.87" y="364.07" width="10.97" height="5.93" fill="rgb(47, 217, 34)" shape-rendering="crispEdges"/>
<rect x="310.23" y="364.07" width="10.97" height="5.93" fill="rgb(62, 201, 30)" shape-rendering="crispEdges"/>
<rect x="320.60" y="364.07" width="10.97" height="5.93" fill="rgb(184, 64, 13)" shape-rendering="crispEdges"/>
<rect x="330.97" y="364.07" width="10.97" height="5.93" fill="rgb(187, 62, 13)" shape-rendering="crispEdges"/>
<rect x="341.33" y="364.07" width="10.97" height="5.93" fill="rgb(169, 76, 14)" shape-rendering="crispEdges"/>
<rect x="351.70" y="364.07" width="10.97" height="5.93" fill="rgb(187, 60, 13)" shape-rendering="crispEdges"/>
<rect x="362.07" y="364.07" width="10.97" height="5.93" fill="rgb(193, 56, 13)" shape-rendering="crispEdges"/>
<rect x="372.43" y="364.07" width="11.97" height="5.93" fill="rgb(196, 54, 13)" shape-rendering="crispEdges"/>
</g></g>
<rect x="289.5" y="152.0" width="93.30000000000001" height="216.39999999999998" fill="none" stroke="#222" stroke-width="0.9"/>
<defs><linearGradient id="cb" x1="0" x2="1"><stop offset="0" stop-color="#22e022"/><stop offset="0.5" stop-color="#8a8a10"/><stop offset="1" stop-color="#f01010"/></linearGradient></defs>
<rect x="323.2" y="144.3" width="59.8" height="5" fill="url(#cb)" stroke="#444" stroke-width="0.5"/>
<text x="320.2" y="142.0" font-size="5" text-anchor="middle" fill="#000" stroke="#000" stroke-width="0.1">-1.9</text>
<text x="381.0" y="142.4" font-size="5" text-anchor="middle" fill="#000" stroke="#000" stroke-width="0.1">1.6</text>
<path d="M284.8 151.9H281.1V368.2H284.8" stroke="#2a2a2a" stroke-width="1.1" fill="none"/>
<path d="M281.1 259.6H284.6" stroke="#111" stroke-width="1.4" fill="none"/>
<text x="275.1" y="215.7" font-size="8" text-anchor="middle" fill="#000" transform="rotate(-90 275.1 215.7)" stroke="#000" stroke-width="0.15">25 upregulated</text>
<text x="275.5" y="326.2" font-size="8" text-anchor="middle" fill="#000" transform="rotate(-90 275.5 326.2)" stroke="#000" stroke-width="0.15">25 downregulated</text>
<text x="308.65000000000003" y="383.6" font-size="10" text-anchor="middle" fill="#000" transform="rotate(-90 308.65000000000003 383.6)" stroke="#000" stroke-width="0.2">WT2.1</text>
<text x="339.75" y="383.6" font-size="10" text-anchor="middle" fill="#000" transform="rotate(-90 339.75 383.6)" stroke="#000" stroke-width="0.2">WT2.2</text>
<text x="370.85" y="383.6" font-size="10" text-anchor="middle" fill="#000" transform="rotate(-90 370.85 383.6)" stroke="#000" stroke-width="0.2">WT2.3</text>
<line x1="429.1" y1="154.5" x2="429.1" y2="206.3" stroke="#000" stroke-width="1.0"/>
<line x1="426.3" y1="206.3" x2="429.1" y2="206.3" stroke="#000" stroke-width="1.0"/>
<text x="421.1" y="209.75" font-size="10" text-anchor="end" fill="#000" stroke="#000" stroke-width="0.35">0.0</text>
<line x1="426.3" y1="189.03333333333333" x2="429.1" y2="189.03333333333333" stroke="#000" stroke-width="1.0"/>
<text x="421.1" y="192.48333333333332" font-size="10" text-anchor="end" fill="#000" stroke="#000" stroke-width="0.35">0.5</text>
<line x1="426.3" y1="171.76666666666668" x2="429.1" y2="171.76666666666668" stroke="#000" stroke-width="1.0"/>
<text x="421.1" y="175.21666666666667" font-size="10" text-anchor="end" fill="#000" stroke="#000" stroke-width="0.35">1.0</text>
<line x1="426.3" y1="154.5" x2="429.1" y2="154.5" stroke="#000" stroke-width="1.0"/>
<text x="421.1" y="157.95" font-size="10" text-anchor="end" fill="#000" stroke="#000" stroke-width="0.35">1.5</text>
<line x1="429.1" y1="206.3" x2="520" y2="206.3" stroke="#000" stroke-width="1.0"/>
<line x1="460.3" y1="206.3" x2="460.3" y2="208.70000000000002" stroke="#000" stroke-width="1.0"/>
<line x1="489.7" y1="206.3" x2="489.7" y2="208.70000000000002" stroke="#000" stroke-width="1.0"/>
<line x1="518.8" y1="206.3" x2="518.8" y2="208.70000000000002" stroke="#000" stroke-width="1.0"/>
<text x="436.3" y="154.9" font-size="8.2" text-anchor="start" fill="#000" stroke="#000" stroke-width="0.35">BCLX</text>
<rect x="438.2" y="171.76666666666668" width="12" height="34.53333333333333" fill="#000" stroke="none" stroke-width="1"/>
<text x="444.1" y="215.3" font-size="10.3" text-anchor="middle" fill="#000" stroke="#000" stroke-width="0.35">2.1</text>
<rect x="468.2" y="183.85333333333335" width="12" height="22.44666666666666" fill="#000" stroke="none" stroke-width="1"/>
<line x1="474.2" y1="176.256" x2="474.2" y2="183.85333333333335" stroke="#000" stroke-width="1.3"/>
<line x1="472.2" y1="176.256" x2="476.2" y2="176.256" stroke="#000" stroke-width="1.3"/>
<text x="472.6" y="215.3" font-size="10.3" text-anchor="middle" fill="#000" stroke="#000" stroke-width="0.35">2.2</text>
<rect x="497.6" y="186.27066666666667" width="12" height="20.02933333333334" fill="#000" stroke="none" stroke-width="1"/>
<line x1="503.6" y1="181.09066666666666" x2="503.6" y2="186.27066666666667" stroke="#000" stroke-width="1.3"/>
<line x1="501.6" y1="181.09066666666666" x2="505.6" y2="181.09066666666666" stroke="#000" stroke-width="1.3"/>
<text x="502.9" y="215.3" font-size="10.3" text-anchor="middle" fill="#000" stroke="#000" stroke-width="0.35">2.3</text>
<polygon points="444.50,158.03 445.26,159.84 447.22,160.00 445.72,161.28 446.18,163.20 444.50,162.17 442.82,163.20 443.28,161.28 441.78,160.00 443.74,159.84" fill="#000" stroke="#000" stroke-width="0.3" stroke-linejoin="round"/>
<text x="402.8" y="180.4" font-size="8.2" text-anchor="middle" fill="#000" transform="rotate(-90 402.8 180.4)" stroke="#000" stroke-width="0.25">Relative toWT2.1</text>
<line x1="429.7" y1="230.6" x2="429.7" y2="284.0" stroke="#000" stroke-width="1.0"/>
<line x1="426.9" y1="284.0" x2="429.7" y2="284.0" stroke="#000" stroke-width="1.0"/>
<text x="421.7" y="287.45" font-size="10" text-anchor="end" fill="#000" stroke="#000" stroke-width="0.35">0.0</text>
<line x1="426.9" y1="266.2" x2="429.7" y2="266.2" stroke="#000" stroke-width="1.0"/>
<text x="421.7" y="269.65" font-size="10" text-anchor="end" fill="#000" stroke="#000" stroke-width="0.35">0.5</text>
<line x1="426.9" y1="248.4" x2="429.7" y2="248.4" stroke="#000" stroke-width="1.0"/>
<text x="421.7" y="251.85" font-size="10" text-anchor="end" fill="#000" stroke="#000" stroke-width="0.35">1.0</text>
<line x1="426.9" y1="230.6" x2="429.7" y2="230.6" stroke="#000" stroke-width="1.0"/>
<text x="421.7" y="234.04999999999998" font-size="10" text-anchor="end" fill="#000" stroke="#000" stroke-width="0.35">1.5</text>
<line x1="429.7" y1="284.0" x2="520" y2="284.0" stroke="#000" stroke-width="1.0"/>
<line x1="460.3" y1="284.0" x2="460.3" y2="286.4" stroke="#000" stroke-width="1.0"/>
<line x1="489.7" y1="284.0" x2="489.7" y2="286.4" stroke="#000" stroke-width="1.0"/>
<line x1="518.8" y1="284.0" x2="518.8" y2="286.4" stroke="#000" stroke-width="1.0"/>
<text x="436.2" y="233.8" font-size="8.2" text-anchor="start" fill="#000" stroke="#000" stroke-width="0.35">DPPA3</text>
<rect x="439.0" y="248.4" width="12" height="35.599999999999994" fill="#000" stroke="none" stroke-width="1"/>
<text x="447.3" y="295.9" font-size="10.3" text-anchor="middle" fill="#000" stroke="#000" stroke-width="0.35">2.1</text>
<rect x="468.4" y="279.372" width="12" height="4.627999999999986" fill="#000" stroke="none" stroke-width="1"/>
<text x="475.8" y="295.9" font-size="10.3" text-anchor="middle" fill="#000" stroke="#000" stroke-width="0.35">2.2</text>
<rect x="497.9" y="281.508" width="12" height="2.4920000000000186" fill="#000" stroke="none" stroke-width="1"/>
<text x="503.5" y="295.9" font-size="10.3" text-anchor="middle" fill="#000" stroke="#000" stroke-width="0.35">2.3</text>
<polygon points="442.60,239.32 443.15,240.65 444.59,240.76 443.49,241.70 443.83,243.10 442.60,242.35 441.37,243.10 441.71,241.70 440.61,240.76 442.05,240.65" fill="#000" stroke="#000" stroke-width="0.3" stroke-linejoin="round"/>
<polygon points="447.60,239.32 448.15,240.65 449.59,240.76 448.49,241.70 448.83,243.10 447.60,242.35 446.37,243.10 446.71,241.70 445.61,240.76 447.05,240.65" fill="#000" stroke="#000" stroke-width="0.3" stroke-linejoin="round"/>
<text x="403.3" y="257.3" font-size="8.2" text-anchor="middle" fill="#000" transform="rotate(-90 403.3 257.3)" stroke="#000" stroke-width="0.25">Relative toWT2.1</text>
<line x1="432.8" y1="308.2" x2="432.8" y2="365.4" stroke="#000" stroke-width="1.0"/>
<line x1="430.0" y1="365.4" x2="432.8" y2="365.4" stroke="#000" stroke-width="1.0"/>
<text x="424.8" y="368.84999999999997" font-size="10" text-anchor="end" fill="#000" stroke="#000" stroke-width="0.35">0.0</text>
<line x1="430.0" y1="346.3333333333333" x2="432.8" y2="346.3333333333333" stroke="#000" stroke-width="1.0"/>
<text x="424.8" y="349.7833333333333" font-size="10" text-anchor="end" fill="#000" stroke="#000" stroke-width="0.35">2.0</text>
<line x1="430.0" y1="327.26666666666665" x2="432.8" y2="327.26666666666665" stroke="#000" stroke-width="1.0"/>
<text x="424.8" y="330.71666666666664" font-size="10" text-anchor="end" fill="#000" stroke="#000" stroke-width="0.35">4.0</text>
<line x1="430.0" y1="308.2" x2="432.8" y2="308.2" stroke="#000" stroke-width="1.0"/>
<text x="424.8" y="311.65" font-size="10" text-anchor="end" fill="#000" stroke="#000" stroke-width="0.35">6.0</text>
<line x1="432.8" y1="365.4" x2="520" y2="365.4" stroke="#000" stroke-width="1.0"/>
<line x1="462.0" y1="365.4" x2="462.0" y2="367.79999999999995" stroke="#000" stroke-width="1.0"/>
<line x1="490.6" y1="365.4" x2="490.6" y2="367.79999999999995" stroke="#000" stroke-width="1.0"/>
<line x1="519.1" y1="365.4" x2="519.1" y2="367.79999999999995" stroke="#000" stroke-width="1.0"/>
<text x="440.1" y="312.9" font-size="8.2" text-anchor="start" fill="#000" stroke="#000" stroke-width="0.35">ID3</text>
<rect x="441.1" y="355.8666666666667" width="12" height="9.533333333333303" fill="#000" stroke="none" stroke-width="1"/>
<text x="445.6" y="375.5" font-size="10.3" text-anchor="middle" fill="#000" stroke="#000" stroke-width="0.35">2.1</text>
<rect x="470.3" y="340.804" width="12" height="24.596000000000004" fill="#000" stroke="none" stroke-width="1"/>
<line x1="476.3" y1="333.654" x2="476.3" y2="340.804" stroke="#000" stroke-width="1.3"/>
<line x1="474.3" y1="333.654" x2="478.3" y2="333.654" stroke="#000" stroke-width="1.3"/>
<text x="474.1" y="375.5" font-size="10.3" text-anchor="middle" fill="#000" stroke="#000" stroke-width="0.35">2.2</text>
<rect x="499.3" y="325.36" width="12" height="40.039999999999964" fill="#000" stroke="none" stroke-width="1"/>
<line x1="505.3" y1="314.39666666666665" x2="505.3" y2="325.36" stroke="#000" stroke-width="1.3"/>
<line x1="503.3" y1="314.39666666666665" x2="507.3" y2="314.39666666666665" stroke="#000" stroke-width="1.3"/>
<text x="503.5" y="375.5" font-size="10.3" text-anchor="middle" fill="#000" stroke="#000" stroke-width="0.35">2.3</text>
<polygon points="444.40,346.52 444.95,347.85 446.39,347.96 445.29,348.90 445.63,350.30 444.40,349.55 443.17,350.30 443.51,348.90 442.41,347.96 443.85,347.85" fill="#000" stroke="#000" stroke-width="0.3" stroke-linejoin="round"/>
<polygon points="449.40,346.52 449.95,347.85 451.39,347.96 450.29,348.90 450.63,350.30 449.40,349.55 448.17,350.30 448.51,348.90 447.41,347.96 448.85,347.85" fill="#000" stroke="#000" stroke-width="0.3" stroke-linejoin="round"/>
<text x="404.1" y="336.79999999999995" font-size="8.2" text-anchor="middle" fill="#000" transform="rotate(-90 404.1 336.79999999999995)" stroke="#000" stroke-width="0.25">Relative toWT2.1</text>
<text x="-0.6" y="425.4" font-size="14" font-weight="bold" text-anchor="start" fill="#000" stroke="#000" stroke-width="0.6">C</text>
<line x1="61.3" y1="417.9" x2="61.3" y2="515.3" stroke="#000" stroke-width="1.2"/>
<line x1="57.3" y1="515.3" x2="61.3" y2="515.3" stroke="#000" stroke-width="1.05"/>
<line x1="57.3" y1="512.0999999999999" x2="61.3" y2="512.0999999999999" stroke="#000" stroke-width="1.05"/>
<line x1="57.3" y1="508.9" x2="61.3" y2="508.9" stroke="#000" stroke-width="1.05"/>
<line x1="57.3" y1="505.69999999999993" x2="61.3" y2="505.69999999999993" stroke="#000" stroke-width="1.05"/>
<line x1="57.3" y1="502.49999999999994" x2="61.3" y2="502.49999999999994" stroke="#000" stroke-width="1.05"/>
<line x1="57.3" y1="499.29999999999995" x2="61.3" y2="499.29999999999995" stroke="#000" stroke-width="1.05"/>
<line x1="57.3" y1="496.09999999999997" x2="61.3" y2="496.09999999999997" stroke="#000" stroke-width="1.05"/>
<line x1="57.3" y1="492.9" x2="61.3" y2="492.9" stroke="#000" stroke-width="1.05"/>
<line x1="57.3" y1="489.69999999999993" x2="61.3" y2="489.69999999999993" stroke="#000" stroke-width="1.05"/>
<line x1="57.3" y1="486.49999999999994" x2="61.3" y2="486.49999999999994" stroke="#000" stroke-width="1.05"/>
<line x1="57.3" y1="483.29999999999995" x2="61.3" y2="483.29999999999995" stroke="#000" stroke-width="1.05"/>
<line x1="57.3" y1="480.09999999999997" x2="61.3" y2="480.09999999999997" stroke="#000" stroke-width="1.05"/>
<line x1="57.3" y1="476.9" x2="61.3" y2="476.9" stroke="#000" stroke-width="1.05"/>
<line x1="57.3" y1="473.69999999999993" x2="61.3" y2="473.69999999999993" stroke="#000" stroke-width="1.05"/>
<line x1="57.3" y1="470.49999999999994" x2="61.3" y2="470.49999999999994" stroke="#000" stroke-width="1.05"/>
<line x1="57.3" y1="467.29999999999995" x2="61.3" y2="467.29999999999995" stroke="#000" stroke-width="1.05"/>
<line x1="57.3" y1="464.09999999999997" x2="61.3" y2="464.09999999999997" stroke="#000" stroke-width="1.05"/>
<line x1="57.3" y1="460.9" x2="61.3" y2="460.9" stroke="#000" stroke-width="1.05"/>
<line x1="57.3" y1="457.69999999999993" x2="61.3" y2="457.69999999999993" stroke="#000" stroke-width="1.05"/>
<line x1="57.3" y1="454.49999999999994" x2="61.3" y2="454.49999999999994" stroke="#000" stroke-width="1.05"/>
<line x1="57.3" y1="451.29999999999995" x2="61.3" y2="451.29999999999995" stroke="#000" stroke-width="1.05"/>
<line x1="57.3" y1="448.09999999999997" x2="61.3" y2="448.09999999999997" stroke="#000" stroke-width="1.05"/>
<line x1="57.3" y1="444.9" x2="61.3" y2="444.9" stroke="#000" stroke-width="1.05"/>
<line x1="57.3" y1="441.69999999999993" x2="61.3" y2="441.69999999999993" stroke="#000" stroke-width="1.05"/>
<line x1="57.3" y1="438.49999999999994" x2="61.3" y2="438.49999999999994" stroke="#000" stroke-width="1.05"/>
<line x1="57.3" y1="435.29999999999995" x2="61.3" y2="435.29999999999995" stroke="#000" stroke-width="1.05"/>
<line x1="57.3" y1="432.09999999999997" x2="61.3" y2="432.09999999999997" stroke="#000" stroke-width="1.05"/>
<line x1="57.3" y1="428.9" x2="61.3" y2="428.9" stroke="#000" stroke-width="1.05"/>
<line x1="57.3" y1="425.69999999999993" x2="61.3" y2="425.69999999999993" stroke="#000" stroke-width="1.05"/>
<line x1="57.3" y1="422.49999999999994" x2="61.3" y2="422.49999999999994" stroke="#000" stroke-width="1.05"/>
<line x1="57.3" y1="419.29999999999995" x2="61.3" y2="419.29999999999995" stroke="#000" stroke-width="1.05"/>
<text x="51.0" y="519.1999999999999" font-size="11.3" text-anchor="end" fill="#000" stroke="#000" stroke-width="0.35">0</text>
<text x="51.0" y="503.19999999999993" font-size="11.3" text-anchor="end" fill="#000" stroke="#000" stroke-width="0.35">10</text>
<text x="51.0" y="487.19999999999993" font-size="11.3" text-anchor="end" fill="#000" stroke="#000" stroke-width="0.35">20</text>
<text x="51.0" y="471.19999999999993" font-size="11.3" text-anchor="end" fill="#000" stroke="#000" stroke-width="0.35">30</text>
<text x="51.0" y="455.19999999999993" font-size="11.3" text-anchor="end" fill="#000" stroke="#000" stroke-width="0.35">40</text>
<text x="51.0" y="439.19999999999993" font-size="11.3" text-anchor="end" fill="#000" stroke="#000" stroke-width="0.35">50</text>
<text x="51.0" y="423.19999999999993" font-size="11.3" text-anchor="end" fill="#000" stroke="#000" stroke-width="0.35">60</text>
<line x1="61.3" y1="515.3" x2="457.2" y2="515.3" stroke="#000" stroke-width="1.1"/>
<line x1="61.3" y1="515.3" x2="61.3" y2="517.8" stroke="#000" stroke-width="1.0"/>
<line x1="83.29444444444444" y1="515.3" x2="83.29444444444444" y2="517.8" stroke="#000" stroke-width="1.0"/>
<line x1="105.28888888888889" y1="515.3" x2="105.28888888888889" y2="517.8" stroke="#000" stroke-width="1.0"/>
<line x1="127.28333333333333" y1="515.3" x2="127.28333333333333" y2="517.8" stroke="#000" stroke-width="1.0"/>
<line x1="149.27777777777777" y1="515.3" x2="149.27777777777777" y2="517.8" stroke="#000" stroke-width="1.0"/>
<line x1="171.2722222222222" y1="515.3" x2="171.2722222222222" y2="517.8" stroke="#000" stroke-width="1.0"/>
<line x1="193.26666666666665" y1="515.3" x2="193.26666666666665" y2="517.8" stroke="#000" stroke-width="1.0"/>
<line x1="215.26111111111112" y1="515.3" x2="215.26111111111112" y2="517.8" stroke="#000" stroke-width="1.0"/>
<line x1="237.25555555555553" y1="515.3" x2="237.25555555555553" y2="517.8" stroke="#000" stroke-width="1.0"/>
<line x1="259.25" y1="515.3" x2="259.25" y2="517.8" stroke="#000" stroke-width="1.0"/>
<line x1="281.2444444444444" y1="515.3" x2="281.2444444444444" y2="517.8" stroke="#000" stroke-width="1.0"/>
<line x1="303.2388888888889" y1="515.3" x2="303.2388888888889" y2="517.8" stroke="#000" stroke-width="1.0"/>
<line x1="325.23333333333335" y1="515.3" x2="325.23333333333335" y2="517.8" stroke="#000" stroke-width="1.0"/>
<line x1="347.22777777777776" y1="515.3" x2="347.22777777777776" y2="517.8" stroke="#000" stroke-width="1.0"/>
<line x1="369.22222222222223" y1="515.3" x2="369.22222222222223" y2="517.8" stroke="#000" stroke-width="1.0"/>
<line x1="391.21666666666664" y1="515.3" x2="391.21666666666664" y2="517.8" stroke="#000" stroke-width="1.0"/>
<line x1="413.2111111111111" y1="515.3" x2="413.2111111111111" y2="517.8" stroke="#000" stroke-width="1.0"/>
<line x1="435.2055555555556" y1="515.3" x2="435.2055555555556" y2="517.8" stroke="#000" stroke-width="1.0"/>
<line x1="457.2" y1="515.3" x2="457.2" y2="517.8" stroke="#000" stroke-width="1.0"/>
<rect x="70.29444444444444" y="512.0999999999999" width="26" height="3.2" fill="#2c7a2c" stroke="#000" stroke-width="1.1"/>
<text x="83.29444444444444" y="534.2" font-size="11.3" text-anchor="middle" fill="#000" stroke="#000" stroke-width="0.35">WT1.1</text>
<rect x="114.28333333333333" y="512.0999999999999" width="26" height="3.2" fill="#2c7a2c" stroke="#000" stroke-width="1.1"/>
<text x="127.28333333333333" y="534.2" font-size="11.3" text-anchor="middle" fill="#000" stroke="#000" stroke-width="0.35">WT1.2</text>
<rect x="158.2722222222222" y="512.0999999999999" width="26" height="3.2" fill="#2c7a2c" stroke="#000" stroke-width="1.1"/>
<text x="171.2722222222222" y="534.2" font-size="11.3" text-anchor="middle" fill="#000" stroke="#000" stroke-width="0.35">WT1.3</text>
<rect x="202.26111111111112" y="436.41999999999996" width="26" height="78.88" fill="#4f81bd" stroke="#000" stroke-width="1.1"/>
<text x="215.26111111111112" y="534.2" font-size="11.3" text-anchor="middle" fill="#000" stroke="#000" stroke-width="0.35">WT2.1</text>
<text x="259.25" y="534.2" font-size="11.3" text-anchor="middle" fill="#000" stroke="#000" stroke-width="0.35">WT2.2</text>
<rect x="290.2388888888889" y="481.69999999999993" width="26" height="33.6" fill="#4f81bd" stroke="#000" stroke-width="1.1"/>
<text x="303.2388888888889" y="534.2" font-size="11.3" text-anchor="middle" fill="#000" stroke="#000" stroke-width="0.35">WT2.3</text>
<text x="347.22777777777776" y="534.2" font-size="11.3" text-anchor="middle" fill="#000" stroke="#000" stroke-width="0.35">BMC1</text>
<text x="391.21666666666664" y="534.2" font-size="11.3" text-anchor="middle" fill="#000" stroke="#000" stroke-width="0.35">BMC2</text>
<rect x="422.2055555555556" y="514.02" width="26" height="1.2800000000000002" fill="#7a1a1a" stroke="#000" stroke-width="1.1"/>
<text x="435.2055555555556" y="534.2" font-size="11.3" text-anchor="middle" fill="#000" stroke="#000" stroke-width="0.35">BMC3</text>
<text x="374.6" y="440.2" font-size="12.2" text-anchor="middle" fill="#000" stroke="#000" stroke-width="0.35">Copy Number Variations</text>
<text x="30.4" y="465.3" font-size="12.3" text-anchor="middle" fill="#000" transform="rotate(-90 30.4 465.3)" stroke="#000" stroke-width="0.35">Number of Genes</text>
<text x="-0.3" y="558.8" font-size="14" font-weight="bold" text-anchor="start" fill="#000" stroke="#000" stroke-width="0.6">D</text>
<line x1="59.0" y1="552.84" x2="59.0" y2="649.6" stroke="#000" stroke-width="1.2"/>
<line x1="54.8" y1="649.6" x2="59.0" y2="649.6" stroke="#000" stroke-width="1.0"/>
<line x1="54.8" y1="647.216" x2="59.0" y2="647.216" stroke="#000" stroke-width="1.0"/>
<line x1="54.8" y1="644.832" x2="59.0" y2="644.832" stroke="#000" stroke-width="1.0"/>
<line x1="54.8" y1="642.448" x2="59.0" y2="642.448" stroke="#000" stroke-width="1.0"/>
<line x1="54.8" y1="640.0640000000001" x2="59.0" y2="640.0640000000001" stroke="#000" stroke-width="1.0"/>
<line x1="54.8" y1="637.6800000000001" x2="59.0" y2="637.6800000000001" stroke="#000" stroke-width="1.0"/>
<line x1="54.8" y1="635.296" x2="59.0" y2="635.296" stroke="#000" stroke-width="1.0"/>
<line x1="54.8" y1="632.912" x2="59.0" y2="632.912" stroke="#000" stroke-width="1.0"/>
<line x1="54.8" y1="630.528" x2="59.0" y2="630.528" stroke="#000" stroke-width="1.0"/>
<line x1="54.8" y1="628.144" x2="59.0" y2="628.144" stroke="#000" stroke-width="1.0"/>
<line x1="54.8" y1="625.76" x2="59.0" y2="625.76" stroke="#000" stroke-width="1.0"/>
<line x1="54.8" y1="623.376" x2="59.0" y2="623.376" stroke="#000" stroke-width="1.0"/>
<line x1="54.8" y1="620.992" x2="59.0" y2="620.992" stroke="#000" stroke-width="1.0"/>
<line x1="54.8" y1="618.6080000000001" x2="59.0" y2="618.6080000000001" stroke="#000" stroke-width="1.0"/>
<line x1="54.8" y1="616.224" x2="59.0" y2="616.224" stroke="#000" stroke-width="1.0"/>
<line x1="54.8" y1="613.84" x2="59.0" y2="613.84" stroke="#000" stroke-width="1.0"/>
<line x1="54.8" y1="611.456" x2="59.0" y2="611.456" stroke="#000" stroke-width="1.0"/>
<line x1="54.8" y1="609.072" x2="59.0" y2="609.072" stroke="#000" stroke-width="1.0"/>
<line x1="54.8" y1="606.688" x2="59.0" y2="606.688" stroke="#000" stroke-width="1.0"/>
<line x1="54.8" y1="604.304" x2="59.0" y2="604.304" stroke="#000" stroke-width="1.0"/>
<line x1="54.8" y1="601.9200000000001" x2="59.0" y2="601.9200000000001" stroke="#000" stroke-width="1.0"/>
<line x1="54.8" y1="599.5360000000001" x2="59.0" y2="599.5360000000001" stroke="#000" stroke-width="1.0"/>
<line x1="54.8" y1="597.152" x2="59.0" y2="597.152" stroke="#000" stroke-width="1.0"/>
<line x1="54.8" y1="594.768" x2="59.0" y2="594.768" stroke="#000" stroke-width="1.0"/>
<line x1="54.8" y1="592.384" x2="59.0" y2="592.384" stroke="#000" stroke-width="1.0"/>
<line x1="54.8" y1="590.0" x2="59.0" y2="590.0" stroke="#000" stroke-width="1.0"/>
<line x1="54.8" y1="587.616" x2="59.0" y2="587.616" stroke="#000" stroke-width="1.0"/>
<line x1="54.8" y1="585.232" x2="59.0" y2="585.232" stroke="#000" stroke-width="1.0"/>
<line x1="54.8" y1="582.848" x2="59.0" y2="582.848" stroke="#000" stroke-width="1.0"/>
<line x1="54.8" y1="580.464" x2="59.0" y2="580.464" stroke="#000" stroke-width="1.0"/>
<line x1="54.8" y1="578.08" x2="59.0" y2="578.08" stroke="#000" stroke-width="1.0"/>
<line x1="54.8" y1="575.696" x2="59.0" y2="575.696" stroke="#000" stroke-width="1.0"/>
<line x1="54.8" y1="573.312" x2="59.0" y2="573.312" stroke="#000" stroke-width="1.0"/>
<line x1="54.8" y1="570.928" x2="59.0" y2="570.928" stroke="#000" stroke-width="1.0"/>
<line x1="54.8" y1="568.544" x2="59.0" y2="568.544" stroke="#000" stroke-width="1.0"/>
<line x1="54.8" y1="566.1600000000001" x2="59.0" y2="566.1600000000001" stroke="#000" stroke-width="1.0"/>
<line x1="54.8" y1="563.7760000000001" x2="59.0" y2="563.7760000000001" stroke="#000" stroke-width="1.0"/>
<line x1="54.8" y1="561.392" x2="59.0" y2="561.392" stroke="#000" stroke-width="1.0"/>
<line x1="54.8" y1="559.008" x2="59.0" y2="559.008" stroke="#000" stroke-width="1.0"/>
<line x1="54.8" y1="556.624" x2="59.0" y2="556.624" stroke="#000" stroke-width="1.0"/>
<line x1="54.8" y1="554.24" x2="59.0" y2="554.24" stroke="#000" stroke-width="1.0"/>
<text x="48.4" y="653.3000000000001" font-size="10.5" text-anchor="end" fill="#000" stroke="#000" stroke-width="0.35">0</text>
<text x="48.4" y="641.3800000000001" font-size="10.5" text-anchor="end" fill="#000" stroke="#000" stroke-width="0.35">2</text>
<text x="48.4" y="629.46" font-size="10.5" text-anchor="end" fill="#000" stroke="#000" stroke-width="0.35">4</text>
<text x="48.4" y="617.5400000000001" font-size="10.5" text-anchor="end" fill="#000" stroke="#000" stroke-width="0.35">6</text>
<text x="48.4" y="605.6200000000001" font-size="10.5" text-anchor="end" fill="#000" stroke="#000" stroke-width="0.35">8</text>
<text x="48.4" y="593.7" font-size="10.5" text-anchor="end" fill="#000" stroke="#000" stroke-width="0.35">10</text>
<text x="48.4" y="581.7800000000001" font-size="10.5" text-anchor="end" fill="#000" stroke="#000" stroke-width="0.35">12</text>
<text x="48.4" y="569.8600000000001" font-size="10.5" text-anchor="end" fill="#000" stroke="#000" stroke-width="0.35">14</text>
<text x="48.4" y="557.94" font-size="10.5" text-anchor="end" fill="#000" stroke="#000" stroke-width="0.35">16</text>
<line x1="59.0" y1="649.6" x2="461.1" y2="649.6" stroke="#000" stroke-width="1.1"/>
<line x1="59.0" y1="649.6" x2="59.0" y2="652.1" stroke="#000" stroke-width="1.0"/>
<line x1="81.33888888888889" y1="649.6" x2="81.33888888888889" y2="652.1" stroke="#000" stroke-width="1.0"/>
<line x1="103.67777777777778" y1="649.6" x2="103.67777777777778" y2="652.1" stroke="#000" stroke-width="1.0"/>
<line x1="126.01666666666667" y1="649.6" x2="126.01666666666667" y2="652.1" stroke="#000" stroke-width="1.0"/>
<line x1="148.35555555555555" y1="649.6" x2="148.35555555555555" y2="652.1" stroke="#000" stroke-width="1.0"/>
<line x1="170.69444444444446" y1="649.6" x2="170.69444444444446" y2="652.1" stroke="#000" stroke-width="1.0"/>
<line x1="193.03333333333333" y1="649.6" x2="193.03333333333333" y2="652.1" stroke="#000" stroke-width="1.0"/>
<line x1="215.3722222222222" y1="649.6" x2="215.3722222222222" y2="652.1" stroke="#000" stroke-width="1.0"/>
<line x1="237.7111111111111" y1="649.6" x2="237.7111111111111" y2="652.1" stroke="#000" stroke-width="1.0"/>
<line x1="260.05" y1="649.6" x2="260.05" y2="652.1" stroke="#000" stroke-width="1.0"/>
<line x1="282.3888888888889" y1="649.6" x2="282.3888888888889" y2="652.1" stroke="#000" stroke-width="1.0"/>
<line x1="304.72777777777776" y1="649.6" x2="304.72777777777776" y2="652.1" stroke="#000" stroke-width="1.0"/>
<line x1="327.06666666666666" y1="649.6" x2="327.06666666666666" y2="652.1" stroke="#000" stroke-width="1.0"/>
<line x1="349.40555555555557" y1="649.6" x2="349.40555555555557" y2="652.1" stroke="#000" stroke-width="1.0"/>
<line x1="371.7444444444444" y1="649.6" x2="371.7444444444444" y2="652.1" stroke="#000" stroke-width="1.0"/>
<line x1="394.0833333333333" y1="649.6" x2="394.0833333333333" y2="652.1" stroke="#000" stroke-width="1.0"/>
<line x1="416.4222222222222" y1="649.6" x2="416.4222222222222" y2="652.1" stroke="#000" stroke-width="1.0"/>
<line x1="438.7611111111111" y1="649.6" x2="438.7611111111111" y2="652.1" stroke="#000" stroke-width="1.0"/>
<line x1="461.1" y1="649.6" x2="461.1" y2="652.1" stroke="#000" stroke-width="1.0"/>
<rect x="68.33888888888889" y="609.072" width="26" height="40.528" fill="#0b850b" stroke="#111" stroke-width="1.1"/>
<line x1="81.33888888888889" y1="602.814" x2="81.33888888888889" y2="615.33" stroke="#000" stroke-width="1.1"/>
<line x1="79.2388888888889" y1="602.814" x2="83.43888888888888" y2="602.814" stroke="#000" stroke-width="1.3"/>
<line x1="79.2388888888889" y1="615.33" x2="83.43888888888888" y2="615.33" stroke="#000" stroke-width="1.3"/>
<text x="81.33888888888889" y="668.2" font-size="11.3" text-anchor="middle" fill="#000" stroke="#000" stroke-width="0.35">WT1.1</text>
<rect x="113.01666666666667" y="611.158" width="26" height="38.442" fill="#0b850b" stroke="#111" stroke-width="1.1"/>
<line x1="126.01666666666667" y1="609.37" x2="126.01666666666667" y2="612.946" stroke="#000" stroke-width="1.1"/>
<line x1="123.91666666666667" y1="609.37" x2="128.11666666666667" y2="609.37" stroke="#000" stroke-width="1.3"/>
<line x1="123.91666666666667" y1="612.946" x2="128.11666666666667" y2="612.946" stroke="#000" stroke-width="1.3"/>
<text x="126.01666666666667" y="668.2" font-size="11.3" text-anchor="middle" fill="#000" stroke="#000" stroke-width="0.35">WT1.2</text>
<rect x="157.69444444444446" y="609.668" width="26" height="39.932" fill="#0b850b" stroke="#111" stroke-width="1.1"/>
<line x1="170.69444444444446" y1="608.178" x2="170.69444444444446" y2="611.158" stroke="#000" stroke-width="1.1"/>
<line x1="168.59444444444446" y1="608.178" x2="172.79444444444445" y2="608.178" stroke="#000" stroke-width="1.3"/>
<line x1="168.59444444444446" y1="611.158" x2="172.79444444444445" y2="611.158" stroke="#000" stroke-width="1.3"/>
<text x="170.69444444444446" y="668.2" font-size="11.3" text-anchor="middle" fill="#000" stroke="#000" stroke-width="0.35">WT1.3</text>
<rect x="202.3722222222222" y="569.736" width="26" height="79.864" fill="#4f81bd" stroke="#111" stroke-width="1.1"/>
<line x1="215.3722222222222" y1="567.65" x2="215.3722222222222" y2="571.822" stroke="#000" stroke-width="1.1"/>
<line x1="213.2722222222222" y1="567.65" x2="217.4722222222222" y2="567.65" stroke="#000" stroke-width="1.3"/>
<line x1="213.2722222222222" y1="571.822" x2="217.4722222222222" y2="571.822" stroke="#000" stroke-width="1.3"/>
<text x="215.3722222222222" y="668.2" font-size="11.3" text-anchor="middle" fill="#000" stroke="#000" stroke-width="0.35">WT2.1</text>
<rect x="247.05" y="611.456" width="26" height="38.144" fill="#4f81bd" stroke="#111" stroke-width="1.1"/>
<line x1="260.05" y1="597.45" x2="260.05" y2="625.462" stroke="#000" stroke-width="1.1"/>
<line x1="257.95" y1="597.45" x2="262.15000000000003" y2="597.45" stroke="#000" stroke-width="1.3"/>
<line x1="257.95" y1="625.462" x2="262.15000000000003" y2="625.462" stroke="#000" stroke-width="1.3"/>
<text x="260.05" y="668.2" font-size="11.3" text-anchor="middle" fill="#000" stroke="#000" stroke-width="0.35">WT2.2</text>
<rect x="291.72777777777776" y="607.582" width="26" height="42.018" fill="#4f81bd" stroke="#111" stroke-width="1.1"/>
<line x1="304.72777777777776" y1="593.576" x2="304.72777777777776" y2="621.588" stroke="#000" stroke-width="1.1"/>
<line x1="302.62777777777774" y1="593.576" x2="306.8277777777778" y2="593.576" stroke="#000" stroke-width="1.3"/>
<line x1="302.62777777777774" y1="621.588" x2="306.8277777777778" y2="621.588" stroke="#000" stroke-width="1.3"/>
<text x="304.72777777777776" y="668.2" font-size="11.3" text-anchor="middle" fill="#000" stroke="#000" stroke-width="0.35">WT2.3</text>
<rect x="336.40555555555557" y="616.522" width="26" height="33.077999999999996" fill="#fa0000" stroke="#111" stroke-width="1.1"/>
<line x1="349.40555555555557" y1="612.648" x2="349.40555555555557" y2="620.3960000000001" stroke="#000" stroke-width="1.1"/>
<line x1="347.30555555555554" y1="612.648" x2="351.5055555555556" y2="612.648" stroke="#000" stroke-width="1.3"/>
<line x1="347.30555555555554" y1="620.3960000000001" x2="351.5055555555556" y2="620.3960000000001" stroke="#000" stroke-width="1.3"/>
<text x="349.40555555555557" y="668.2" font-size="11.3" text-anchor="middle" fill="#000" stroke="#000" stroke-width="0.35">BMC1</text>
<rect x="381.0833333333333" y="616.522" width="26" height="33.077999999999996" fill="#fa0000" stroke="#111" stroke-width="1.1"/>
<line x1="394.0833333333333" y1="606.6880000000001" x2="394.0833333333333" y2="626.356" stroke="#000" stroke-width="1.1"/>
<line x1="391.9833333333333" y1="606.6880000000001" x2="396.18333333333334" y2="606.6880000000001" stroke="#000" stroke-width="1.3"/>
<line x1="391.9833333333333" y1="626.356" x2="396.18333333333334" y2="626.356" stroke="#000" stroke-width="1.3"/>
<text x="394.0833333333333" y="668.2" font-size="11.3" text-anchor="middle" fill="#000" stroke="#000" stroke-width="0.35">BMC2</text>
<rect x="425.7611111111111" y="607.284" width="26" height="42.315999999999995" fill="#fa0000" stroke="#111" stroke-width="1.1"/>
<line x1="438.7611111111111" y1="603.41" x2="438.7611111111111" y2="611.158" stroke="#000" stroke-width="1.1"/>
<line x1="436.6611111111111" y1="603.41" x2="440.86111111111114" y2="603.41" stroke="#000" stroke-width="1.3"/>
<line x1="436.6611111111111" y1="611.158" x2="440.86111111111114" y2="611.158" stroke="#000" stroke-width="1.3"/>
<text x="438.7611111111111" y="668.2" font-size="11.3" text-anchor="middle" fill="#000" stroke="#000" stroke-width="0.35">BMC3</text>
<polygon points="215.00,553.94 215.90,556.10 218.23,556.29 216.46,557.81 217.00,560.09 215.00,558.87 213.00,560.09 213.54,557.81 211.77,556.29 214.10,556.10" fill="#000" stroke="#000" stroke-width="0.3" stroke-linejoin="round"/>
<text x="406.2" y="563.2" font-size="12.4" text-anchor="middle" fill="#000" stroke="#000" stroke-width="0.35">iPSC Expansion</text>
<text x="26.9" y="603.2" font-size="12.1" text-anchor="middle" fill="#000" transform="rotate(-90 26.9 603.2)" stroke="#000" stroke-width="0.35">Fold Change</text>
</svg>
</body></html>
